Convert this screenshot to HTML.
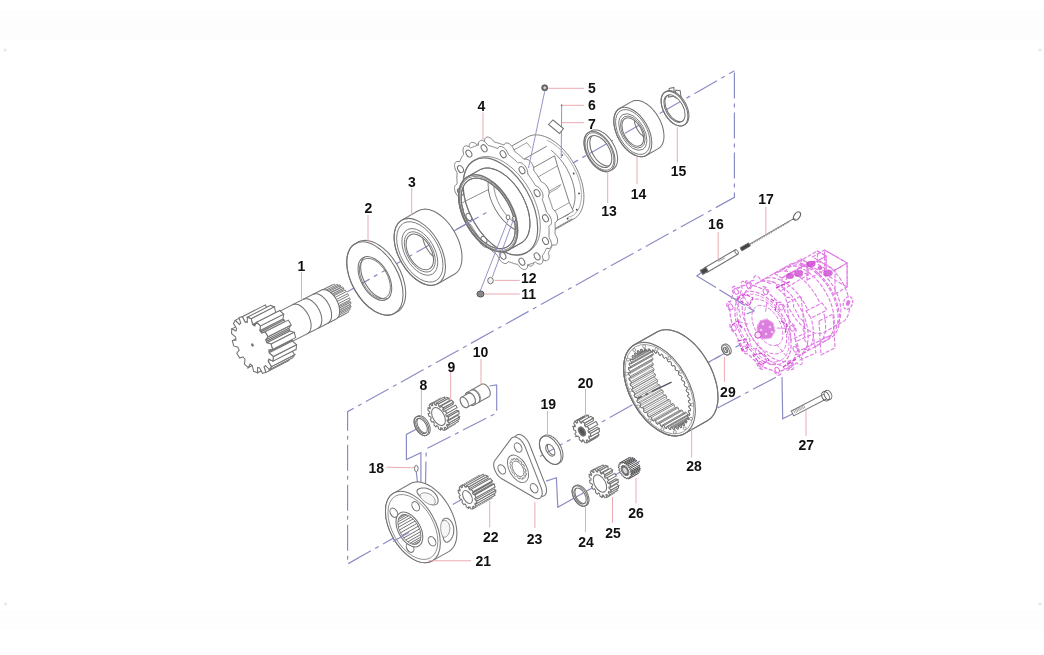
<!DOCTYPE html>
<html><head><meta charset="utf-8"><style>
html,body{margin:0;padding:0;background:#fff;}
body{width:1044px;height:655px;overflow:hidden;}
svg{display:block;filter:blur(0.35px);}
text{font-family:"Liberation Sans",sans-serif;font-weight:bold;font-size:14px;fill:#111;}
</style></head><body>
<svg width="1044" height="655" viewBox="0 0 1044 655">
<defs><clipPath id="c1"><ellipse cx="374.9" cy="278.5" rx="24.0" ry="13.8" transform="rotate(60.5 374.9 278.5)"/></clipPath><clipPath id="c2"><ellipse cx="419.8" cy="251.9" rx="19.5" ry="11.3" transform="rotate(60.5 419.8 251.9)"/></clipPath><clipPath id="c3"><ellipse cx="599.5" cy="151.5" rx="17.5" ry="10.1" transform="rotate(60.5 599.5 151.5)"/></clipPath><clipPath id="c4"><ellipse cx="632.8" cy="132.0" rx="15.5" ry="8.9" transform="rotate(60.5 632.8 132.0)"/></clipPath><clipPath id="c5"><ellipse cx="674.5" cy="108.6" rx="15.0" ry="8.7" transform="rotate(60.5 674.5 108.6)"/></clipPath><clipPath id="c6"><ellipse cx="488.2" cy="213.4" rx="38.5" ry="22.2" transform="rotate(60.5 488.2 213.4)"/></clipPath><clipPath id="c7"><ellipse cx="421.5" cy="426.0" rx="8.3" ry="4.8" transform="rotate(60.5 421.5 426.0)"/></clipPath><clipPath id="c8"><ellipse cx="409.4" cy="529.5" rx="16.5" ry="9.5" transform="rotate(60.5 409.4 529.5)"/></clipPath><clipPath id="c9"><ellipse cx="550.3" cy="450.2" rx="6.5" ry="3.8" transform="rotate(60.5 550.3 450.2)"/></clipPath><clipPath id="c10"><ellipse cx="580.0" cy="496.0" rx="8.8" ry="5.1" transform="rotate(60.5 580.0 496.0)"/></clipPath><clipPath id="c11"><path d="M681.2,427.5 L681.7,427.2 L681.0,424.7 L681.8,424.1 L683.7,425.7 L684.1,425.3 L684.5,424.9 L683.6,422.4 L684.3,421.6 L686.2,422.9 L686.5,422.4 L686.9,421.9 L685.7,419.4 L686.2,418.4 L688.2,419.4 L688.4,418.8 L688.6,418.2 L687.3,415.8 L687.6,414.6 L689.5,415.3 L689.7,414.6 L689.8,414.0 L688.3,411.7 L688.5,410.4 L690.3,410.7 L690.4,409.9 L690.4,409.2 L688.7,407.1 L688.7,405.7 L690.4,405.6 L690.4,404.8 L690.3,404.0 L688.5,402.2 L688.3,400.6 L689.9,400.2 L689.8,399.4 L689.7,398.5 L687.8,396.9 L687.4,395.3 L688.8,394.6 L688.6,393.7 L688.4,392.9 L686.4,391.6 L685.9,389.9 L687.1,388.8 L686.8,388.0 L686.5,387.1 L684.5,386.1 L683.9,384.5 L684.8,383.1 L684.4,382.3 L684.1,381.4 L682.1,380.8 L681.3,379.2 L682.0,377.5 L681.6,376.7 L681.1,375.9 L679.3,375.6 L678.3,374.1 L678.8,372.1 L678.3,371.4 L677.7,370.6 L676.0,370.7 L675.0,369.3 L675.2,367.1 L674.6,366.4 L674.0,365.7 L672.4,366.2 L671.3,364.9 L671.2,362.6 L670.6,361.9 L670.0,361.3 L668.6,362.1 L667.4,361.0 L667.0,358.5 L666.4,358.0 L665.7,357.4 L664.5,358.6 L663.3,357.7 L662.6,355.1 L662.0,354.7 L661.3,354.2 L660.4,355.7 L659.1,355.0 L658.2,352.4 L657.6,352.1 L656.9,351.7 L656.2,353.5 L655.0,353.0 L653.8,350.5 L653.2,350.2 L652.5,350.0 L652.1,352.0 L650.9,351.7 L649.6,349.3 L648.9,349.2 L648.3,349.1 L648.2,351.3 L647.0,351.2 L645.5,348.9 L644.9,348.9 L644.3,349.0 L644.5,351.3 L643.4,351.5 L641.7,349.4 L641.2,349.5 L640.6,349.7 L641.1,352.2 L640.1,352.6 L638.3,350.7 L637.8,350.9 L637.3,351.2 L638.0,353.7 L637.2,354.3 L635.3,352.7 L634.9,353.1 L634.5,353.5 L635.4,356.0 L634.7,356.8 L632.8,355.5 L632.5,356.0 L632.1,356.5 L633.3,359.0 L632.8,360.0 L630.8,359.0 L630.6,359.6 L630.4,360.2 L631.7,362.6 L631.4,363.8 L629.5,363.1 L629.3,363.8 L629.2,364.4 L630.7,366.7 L630.5,368.0 L628.7,367.7 L628.6,368.5 L628.6,369.2 L630.3,371.3 L630.3,372.7 L628.6,372.8 L628.6,373.6 L628.7,374.4 L630.5,376.2 L630.7,377.8 L629.1,378.2 L629.2,379.0 L629.3,379.9 L631.2,381.5 L631.6,383.1 L630.2,383.8 L630.4,384.7 L630.6,385.5 L632.6,386.8 L633.1,388.5 L631.9,389.6 L632.2,390.4 L632.5,391.3 L634.5,392.3 L635.1,393.9 L634.2,395.3 L634.6,396.1 L634.9,397.0 L636.9,397.6 L637.7,399.2 L637.0,400.9 L637.4,401.7 L637.9,402.5 L639.7,402.8 L640.7,404.3 L640.2,406.3 L640.7,407.0 L641.3,407.8 L643.0,407.7 L644.0,409.1 L643.8,411.3 L644.4,412.0 L645.0,412.7 L646.6,412.2 L647.7,413.5 L647.8,415.8 L648.4,416.5 L649.0,417.1 L650.4,416.3 L651.6,417.4 L652.0,419.9 L652.6,420.4 L653.3,421.0 L654.5,419.8 L655.7,420.7 L656.4,423.3 L657.0,423.7 L657.7,424.2 L658.6,422.7 L659.9,423.4 L660.8,426.0 L661.4,426.3 L662.1,426.7 L662.8,424.9 L664.0,425.4 L665.2,427.9 L665.8,428.2 L666.5,428.4 L666.9,426.4 L668.1,426.7 L669.4,429.1 L670.1,429.2 L670.7,429.3 L670.8,427.1 L672.0,427.2 L673.5,429.5 L674.1,429.5 L674.7,429.4 L674.5,427.1 L675.6,426.9 L677.3,429.0 L677.8,428.9 L678.4,428.7 L677.9,426.2 L678.9,425.8 L680.7,427.7Z"/></clipPath><clipPath id="c12"><ellipse cx="725.6" cy="350.0" rx="3.0" ry="1.7" transform="rotate(60.5 725.6 350.0)"/></clipPath></defs>
<rect width="1044" height="655" fill="#fff"/>
<rect x="0" y="10" width="1044" height="30" fill="#fdfdfd"/><rect x="0" y="610" width="1044" height="20" fill="#fdfdfd"/><circle cx="5" cy="50" r="1.6" fill="#e8e8e8"/><circle cx="1040" cy="50" r="1.6" fill="#e8e8e8"/><circle cx="5.5" cy="604" r="1.6" fill="#e8e8e8"/><circle cx="1040" cy="604" r="1.6" fill="#e8e8e8"/><path d="M347.0,292.0 L734.4,70.8" fill="none" stroke="#8c8cc4" stroke-width="1.2" stroke-dasharray="26 5 4 5"/><path d="M734.4,72.6 L734.4,197.3 L347.6,411.7 L347.6,564.0 L470.0,494.8" fill="none" stroke="#8c8cc4" stroke-width="1.2" stroke-dasharray="26 5 4 5"/><path d="M505.0,476.0 L720.0,356.0" fill="none" stroke="#8c8cc4" stroke-width="1.2" stroke-dasharray="26 5 4 5"/><path d="M546.1,481.1 L556.4,477.7 L557.8,507.2 L640.0,461.0" fill="none" stroke="#8c8cc4" stroke-width="1.2" /><path d="M708.4,362.3 L745.0,342.0" fill="none" stroke="#8c8cc4" stroke-width="1.2" stroke-dasharray="26 5 4 5"/><path d="M717.6,408.0 L779.2,375.5" fill="none" stroke="#8c8cc4" stroke-width="1.2" stroke-dasharray="26 5 4 5"/><path d="M792.3,414.0 L782.7,418.8 L782.0,376.9" fill="none" stroke="#8c8cc4" stroke-width="1.2" /><path d="M703.0,271.3 L696.9,275.9 L754.1,311.0 L746.5,314.0" fill="none" stroke="#8c8cc4" stroke-width="1.2" stroke-dasharray="30 4"/><path d="M496.0,385.4 L496.7,385.4 L496.7,412.9 L426.2,448.9 L425.5,485.5" fill="none" stroke="#8c8cc4" stroke-width="1.2" stroke-dasharray="26 5 4 5"/><path d="M489.6,386.0 L496.7,384.9" fill="none" stroke="#8c8cc4" stroke-width="1.2" /><path d="M419.4,427.5 L406.4,434.4 L406.4,459.5 L420.9,452.7 L420.9,485.5" fill="none" stroke="#8c8cc4" stroke-width="1.2" /><path d="M416.3,471.8 L417.8,485.5" fill="none" stroke="#8c8cc4" stroke-width="1.2" /><path d="M326.1,316.6 L326.7,315.8 L338.3,309.9 L337.7,310.7Z" fill="#fff" stroke="none" stroke-width="0" /><path d="M318.5,299.6 L317.5,299.6 L329.1,293.7 L330.1,293.7Z" fill="#fff" stroke="none" stroke-width="0" /><path d="M318.7,296.3 L317.6,295.9 L329.2,290.0 L330.3,290.4Z" fill="#fff" stroke="none" stroke-width="0" /><path d="M329.2,318.6 L329.5,317.5 L341.1,311.6 L340.8,312.7Z" fill="#fff" stroke="none" stroke-width="0" /><path d="M332.3,319.5 L332.3,318.2 L343.9,312.3 L343.9,313.6Z" fill="#fff" stroke="#737373" stroke-width="0.9" /><path d="M319.8,293.7 L318.7,292.9 L330.3,287.0 L331.4,287.8Z" fill="#fff" stroke="#737373" stroke-width="0.9" /><path d="M335.0,319.3 L334.7,317.8 L346.3,311.9 L346.6,313.4Z" fill="#fff" stroke="#737373" stroke-width="0.9" /><path d="M321.5,292.0 L320.5,290.8 L332.1,284.9 L333.1,286.1Z" fill="#fff" stroke="#737373" stroke-width="0.9" /><path d="M335.0,317.6 L335.3,317.5 L346.9,311.6 L346.6,311.7Z" fill="#fff" stroke="none" stroke-width="0" /><path d="M322.1,291.7 L321.8,291.8 L333.4,285.9 L333.7,285.8Z" fill="#fff" stroke="none" stroke-width="0" /><path d="M336.3,318.6 L337.2,317.8 L348.8,311.9 L347.9,312.7Z" fill="#fff" stroke="none" stroke-width="0" /><path d="M323.0,289.9 L321.8,290.2 L333.4,284.3 L334.6,284.0Z" fill="#fff" stroke="none" stroke-width="0" /><path d="M323.8,291.3 L323.0,289.9 L334.6,284.0 L335.4,285.4Z" fill="#fff" stroke="#737373" stroke-width="0.9" /><path d="M337.2,317.8 L336.6,316.3 L348.2,310.4 L348.8,311.9Z" fill="#fff" stroke="#737373" stroke-width="0.9" /><path d="M324.2,291.3 L323.8,291.3 L335.4,285.4 L335.8,285.4Z" fill="#fff" stroke="none" stroke-width="0" /><path d="M336.6,316.3 L336.8,316.1 L348.4,310.1 L348.2,310.4Z" fill="#fff" stroke="none" stroke-width="0" /><path d="M336.8,316.1 L337.0,315.8 L348.6,309.8 L348.4,310.1Z" fill="#fff" stroke="none" stroke-width="0" /><path d="M324.5,291.3 L324.2,291.3 L335.8,285.4 L336.1,285.4Z" fill="#fff" stroke="none" stroke-width="0" /><path d="M338.1,316.6 L338.7,315.3 L350.3,309.4 L349.7,310.6Z" fill="#fff" stroke="none" stroke-width="0" /><path d="M325.9,290.2 L324.5,289.9 L336.1,284.0 L337.5,284.3Z" fill="#fff" stroke="none" stroke-width="0" /><path d="M338.7,315.3 L337.9,313.9 L349.5,308.0 L350.3,309.4Z" fill="#fff" stroke="#737373" stroke-width="0.9" /><path d="M326.5,291.7 L325.9,290.2 L337.5,284.3 L338.1,285.8Z" fill="#fff" stroke="#737373" stroke-width="0.9" /><path d="M337.9,313.9 L338.0,313.5 L349.6,307.6 L349.5,308.0Z" fill="#fff" stroke="none" stroke-width="0" /><path d="M326.9,291.8 L326.5,291.7 L338.1,285.8 L338.5,285.9Z" fill="#fff" stroke="none" stroke-width="0" /><path d="M338.0,313.5 L338.1,313.1 L349.7,307.2 L349.6,307.6Z" fill="#fff" stroke="none" stroke-width="0" /><path d="M327.3,292.0 L326.9,291.8 L338.5,285.9 L338.9,286.1Z" fill="#fff" stroke="none" stroke-width="0" /><path d="M339.2,313.5 L339.4,311.9 L350.9,306.0 L350.8,307.6Z" fill="#fff" stroke="#737373" stroke-width="0.9" /><path d="M329.0,291.6 L327.6,290.8 L339.2,284.9 L340.6,285.7Z" fill="#fff" stroke="#737373" stroke-width="0.9" /><path d="M329.7,293.4 L329.3,293.1 L340.9,287.2 L341.3,287.5Z" fill="#fff" stroke="none" stroke-width="0" /><path d="M338.4,310.8 L338.4,310.3 L349.9,304.4 L349.9,304.9Z" fill="#fff" stroke="none" stroke-width="0" /><path d="M329.3,293.1 L329.0,291.6 L340.6,285.7 L340.9,287.2Z" fill="#fff" stroke="#737373" stroke-width="0.9" /><path d="M339.4,311.9 L338.4,310.8 L349.9,304.9 L350.9,306.0Z" fill="#fff" stroke="#737373" stroke-width="0.9" /><path d="M330.1,293.7 L329.7,293.4 L341.3,287.5 L341.7,287.8Z" fill="#fff" stroke="none" stroke-width="0" /><path d="M338.4,310.3 L338.3,309.8 L349.9,303.9 L349.9,304.4Z" fill="#fff" stroke="none" stroke-width="0" /><path d="M338.0,307.2 L337.9,306.6 L349.5,300.7 L349.6,301.3Z" fill="#fff" stroke="none" stroke-width="0" /><path d="M332.5,295.9 L332.1,295.5 L343.7,289.6 L344.0,290.0Z" fill="#fff" stroke="none" stroke-width="0" /><path d="M337.9,306.6 L337.8,306.1 L349.4,300.2 L349.5,300.7Z" fill="#fff" stroke="none" stroke-width="0" /><path d="M332.8,296.3 L332.5,295.9 L344.0,290.0 L344.4,290.4Z" fill="#fff" stroke="none" stroke-width="0" /><path d="M332.1,294.1 L330.7,292.9 L342.3,287.0 L343.7,288.2Z" fill="#fff" stroke="#737373" stroke-width="0.9" /><path d="M339.3,309.8 L339.1,308.0 L350.7,302.1 L350.9,303.9Z" fill="#fff" stroke="#737373" stroke-width="0.9" /><path d="M339.1,308.0 L338.0,307.2 L349.6,301.3 L350.7,302.1Z" fill="#fff" stroke="#737373" stroke-width="0.9" /><path d="M332.1,295.5 L332.1,294.1 L343.7,288.2 L343.7,289.6Z" fill="#fff" stroke="#737373" stroke-width="0.9" /><path d="M333.6,295.9 L332.8,296.3 L344.4,290.4 L345.2,290.0Z" fill="#fff" stroke="none" stroke-width="0" /><path d="M337.8,306.1 L338.6,305.7 L350.2,299.8 L349.4,300.2Z" fill="#fff" stroke="none" stroke-width="0" /><path d="M336.9,303.3 L336.7,302.8 L348.3,296.9 L348.5,297.4Z" fill="#fff" stroke="none" stroke-width="0" /><path d="M334.9,299.1 L334.5,298.7 L346.1,292.7 L346.4,293.2Z" fill="#fff" stroke="none" stroke-width="0" /><path d="M336.7,302.8 L336.5,302.3 L348.1,296.4 L348.3,296.9Z" fill="#fff" stroke="none" stroke-width="0" /><path d="M335.1,299.6 L334.9,299.1 L346.4,293.2 L346.7,293.7Z" fill="#fff" stroke="none" stroke-width="0" /><path d="M334.5,298.7 L334.8,297.5 L346.4,291.6 L346.1,292.7Z" fill="#fff" stroke="none" stroke-width="0" /><path d="M338.0,303.8 L336.9,303.3 L348.5,297.4 L349.6,297.9Z" fill="#fff" stroke="none" stroke-width="0" /><path d="M336.2,299.6 L335.1,299.6 L346.7,293.7 L347.7,293.7Z" fill="#fff" stroke="none" stroke-width="0" /><path d="M336.5,302.3 L337.1,301.5 L348.7,295.6 L348.1,296.4Z" fill="#fff" stroke="none" stroke-width="0" /><path d="M334.8,297.5 L333.6,295.9 L345.2,290.0 L346.4,291.6Z" fill="#fff" stroke="#737373" stroke-width="0.9" /><path d="M338.6,305.7 L338.0,303.8 L349.6,297.9 L350.2,299.8Z" fill="#fff" stroke="#737373" stroke-width="0.9" /><path d="M337.1,301.5 L336.2,299.6 L347.7,293.7 L348.7,295.6Z" fill="#fff" stroke="#737373" stroke-width="0.9" /><path d="M335.0,317.6 L335.3,317.5 L336.3,318.6 L337.2,317.8 L336.6,316.3 L336.8,316.1 L337.0,315.8 L338.1,316.6 L338.7,315.3 L337.9,313.9 L338.0,313.5 L338.1,313.1 L339.2,313.5 L339.4,311.9 L338.4,310.8 L338.4,310.3 L338.3,309.8 L339.3,309.8 L339.1,308.0 L338.0,307.2 L337.9,306.6 L337.8,306.1 L338.6,305.7 L338.0,303.8 L336.9,303.3 L336.7,302.8 L336.5,302.3 L337.1,301.5 L336.2,299.6 L335.1,299.6 L334.9,299.1 L334.5,298.7 L334.8,297.5 L333.6,295.9 L332.8,296.3 L332.5,295.9 L332.1,295.5 L332.1,294.1 L330.7,292.9 L330.1,293.7 L329.7,293.4 L329.3,293.1 L329.0,291.6 L327.6,290.8 L327.3,292.0 L326.9,291.8 L326.5,291.7 L325.9,290.2 L324.5,289.9 L324.5,291.3 L324.2,291.3 L323.8,291.3 L323.0,289.9 L321.8,290.2 L322.1,291.7 L321.8,291.8 L321.5,292.0 L320.5,290.8 L319.6,291.6 L320.2,293.1 L320.0,293.4 L319.8,293.7 L318.7,292.9 L318.1,294.2 L319.0,295.5 L318.8,295.9 L318.7,296.3 L317.6,295.9 L317.5,297.5 L318.5,298.7 L318.5,299.1 L318.5,299.6 L317.5,299.6 L317.7,301.5 L318.8,302.3 L318.9,302.8 L319.0,303.3 L318.2,303.8 L318.8,305.7 L319.9,306.1 L320.1,306.7 L320.3,307.2 L319.7,308.0 L320.7,309.8 L321.7,309.8 L322.0,310.3 L322.3,310.8 L322.0,311.9 L323.2,313.6 L324.0,313.1 L324.4,313.6 L324.7,313.9 L324.8,315.3 L326.1,316.6 L326.7,315.8 L327.1,316.1 L327.5,316.3 L327.8,317.8 L329.2,318.6 L329.5,317.5 L329.9,317.6 L330.3,317.8 L330.9,319.3 L332.3,319.5 L332.3,318.2 L332.6,318.2 L333.0,318.2 L333.8,319.5 L335.0,319.3 L334.7,317.8Z" fill="#fff" stroke="#737373" stroke-width="0.9" /><path d="M265.8,318.4 L265.2,318.7 L264.7,319.1 L264.3,319.5 L263.9,320.0 L263.5,320.5 L263.1,321.1 L262.8,321.8 L262.6,322.5 L262.4,323.2 L262.2,324.0 L262.1,324.8 L262.0,325.7 L262.0,326.5 L262.0,327.4 L262.1,328.4 L262.2,329.3 L262.4,330.3 L262.6,331.3 L262.9,332.3 L263.2,333.3 L263.5,334.3 L263.9,335.2 L264.3,336.2 L264.8,337.2 L265.3,338.1 L265.8,339.0 L266.4,339.9 L267.0,340.8 L267.6,341.6 L268.3,342.4 L268.9,343.2 L269.6,343.9 L270.3,344.5 L271.0,345.1 L271.8,345.7 L272.5,346.2 L273.2,346.6 L274.0,347.0 L274.7,347.3 L275.4,347.6 L276.1,347.8 L276.8,347.9 L277.5,348.0 L278.2,348.0 L278.8,348.0 L279.4,347.9 L280.0,347.7 L280.6,347.4 L335.8,319.2 L336.3,318.9 L336.8,318.6 L337.3,318.1 L337.7,317.6 L338.1,317.1 L338.5,316.5 L338.8,315.9 L339.0,315.2 L339.2,314.4 L339.4,313.6 L339.5,312.8 L339.6,312.0 L339.6,311.1 L339.6,310.2 L339.5,309.2 L339.4,308.3 L339.2,307.3 L339.0,306.3 L338.7,305.3 L338.4,304.4 L338.1,303.4 L337.7,302.4 L337.3,301.4 L336.8,300.5 L336.3,299.5 L335.8,298.6 L335.2,297.7 L334.6,296.8 L334.0,296.0 L333.3,295.2 L332.7,294.5 L332.0,293.8 L331.3,293.1 L330.6,292.5 L329.8,291.9 L329.1,291.4 L328.4,291.0 L327.6,290.6 L326.9,290.3 L326.2,290.0 L325.5,289.8 L324.8,289.7 L324.1,289.6 L323.4,289.6 L322.8,289.7 L322.2,289.8 L321.6,290.0 L321.0,290.2Z" fill="#fff" stroke="#737373" stroke-width="1.05" /><ellipse cx="273.2" cy="332.9" rx="16.3" ry="9.4" transform="rotate(63.0 273.2 332.9)" fill="#fff" stroke="#737373" stroke-width="1.05" /><path d="M307.3,333.8 L308.3,333.1 L309.2,332.2 L310.0,331.0 L310.5,329.7 L310.9,328.2 L311.1,326.5 L311.1,324.7 L310.9,322.8 L310.5,320.9 L309.9,318.9 L309.2,316.9 L308.3,315.0 L307.2,313.1 L306.1,311.4 L304.8,309.8 L303.5,308.3 L302.0,307.0 L300.6,306.0 L299.1,305.1 L297.7,304.6 L296.3,304.2 L294.9,304.1 L293.7,304.3 L292.5,304.7" fill="none" stroke="#737373" stroke-width="1.05" /><path d="M318.0,328.3 L319.0,327.7 L319.9,326.7 L320.6,325.6 L321.2,324.3 L321.6,322.7 L321.8,321.1 L321.8,319.3 L321.6,317.4 L321.2,315.4 L320.6,313.4 L319.9,311.5 L319.0,309.5 L317.9,307.7 L316.8,305.9 L315.5,304.3 L314.1,302.9 L312.7,301.6 L311.3,300.5 L309.8,299.7 L308.4,299.1 L307.0,298.8 L305.6,298.7 L304.3,298.9 L303.2,299.3" fill="none" stroke="#737373" stroke-width="1.05" /><path d="M327.8,323.3 L328.8,322.7 L329.7,321.7 L330.4,320.6 L331.0,319.3 L331.4,317.7 L331.6,316.1 L331.5,314.3 L331.4,312.4 L331.0,310.4 L330.4,308.4 L329.7,306.5 L328.8,304.5 L327.7,302.7 L326.6,300.9 L325.3,299.3 L323.9,297.9 L322.5,296.6 L321.1,295.5 L319.6,294.7 L318.2,294.1 L316.8,293.8 L315.4,293.7 L314.1,293.9 L313.0,294.3" fill="none" stroke="#737373" stroke-width="1.05" /><path d="M236.0,340.0 L232.3,340.6 L255.5,328.8 L259.1,328.2Z" fill="#fff" stroke="#737373" stroke-width="1.05" /><path d="M248.2,367.7 L250.1,364.1 L273.2,352.3 L271.3,355.9Z" fill="#fff" stroke="#737373" stroke-width="1.05" /><path d="M236.0,330.9 L231.8,328.9 L254.9,317.1 L259.2,319.0Z" fill="#fff" stroke="#737373" stroke-width="1.05" /><path d="M257.5,372.8 L257.5,367.6 L280.7,355.8 L280.6,361.0Z" fill="#fff" stroke="#737373" stroke-width="1.05" /><path d="M239.4,324.5 L235.3,320.4 L258.5,308.6 L262.5,312.7Z" fill="#fff" stroke="#737373" stroke-width="1.05" /><path d="M265.8,372.4 L264.0,366.6 L287.1,354.8 L288.9,360.6Z" fill="#fff" stroke="#737373" stroke-width="1.05" /><path d="M264.0,366.6 L264.7,366.1 L287.9,354.3 L287.1,354.8Z" fill="#fff" stroke="none" stroke-width="0" /><path d="M264.7,366.1 L265.4,365.5 L288.6,353.7 L287.9,354.3Z" fill="#fff" stroke="none" stroke-width="0" /><path d="M242.3,316.7 L239.0,317.6 L262.2,305.8 L265.4,304.9Z" fill="#fff" stroke="none" stroke-width="0" /><path d="M245.2,322.2 L242.3,316.7 L265.4,304.9 L268.4,310.4Z" fill="#fff" stroke="#737373" stroke-width="1.05" /><path d="M246.2,322.3 L245.2,322.2 L268.4,310.4 L269.4,310.5Z" fill="#fff" stroke="none" stroke-width="0" /><path d="M247.3,322.4 L246.2,322.3 L269.4,310.5 L270.4,310.6Z" fill="#fff" stroke="none" stroke-width="0" /><path d="M269.5,369.6 L271.4,366.6 L294.6,354.8 L292.6,357.8Z" fill="#fff" stroke="#737373" stroke-width="1.05" /><path d="M271.4,366.6 L268.1,361.3 L291.3,349.5 L294.6,354.8Z" fill="#fff" stroke="#737373" stroke-width="1.05" /><path d="M268.1,361.3 L268.5,360.3 L291.6,348.5 L291.3,349.5Z" fill="#fff" stroke="none" stroke-width="0" /><path d="M268.5,360.3 L268.8,359.1 L291.9,347.3 L291.6,348.5Z" fill="#fff" stroke="none" stroke-width="0" /><path d="M251.2,318.7 L247.3,317.2 L270.5,305.4 L274.4,306.9Z" fill="#fff" stroke="#737373" stroke-width="1.05" /><path d="M253.6,325.2 L252.5,324.5 L275.7,312.7 L276.8,313.3Z" fill="#fff" stroke="#737373" stroke-width="1.05" /><path d="M252.5,324.5 L251.2,318.7 L274.4,306.9 L275.7,312.7Z" fill="#fff" stroke="#737373" stroke-width="1.05" /><path d="M254.7,325.9 L253.6,325.2 L276.8,313.3 L277.9,314.1Z" fill="#fff" stroke="#737373" stroke-width="1.05" /><path d="M269.1,352.8 L269.0,351.4 L292.2,339.6 L292.3,341.0Z" fill="#fff" stroke="#737373" stroke-width="1.05" /><path d="M269.0,351.4 L268.8,350.0 L292.0,338.2 L292.2,339.6Z" fill="#fff" stroke="#737373" stroke-width="1.05" /><path d="M273.0,361.1 L273.3,356.5 L296.5,344.7 L296.2,349.3Z" fill="#fff" stroke="#737373" stroke-width="1.05" /><path d="M273.3,356.5 L269.1,352.8 L292.3,341.0 L296.5,344.7Z" fill="#fff" stroke="#737373" stroke-width="1.05" /><path d="M260.8,332.0 L259.8,330.8 L283.0,319.0 L284.0,320.1Z" fill="#fff" stroke="#737373" stroke-width="1.05" /><path d="M261.7,333.2 L260.8,332.0 L284.0,320.1 L284.9,321.4Z" fill="#fff" stroke="#737373" stroke-width="1.05" /><path d="M266.9,342.8 L266.3,341.3 L289.4,329.5 L290.0,331.0Z" fill="#fff" stroke="#737373" stroke-width="1.05" /><path d="M266.3,341.3 L265.6,339.9 L288.8,328.1 L289.4,329.5Z" fill="#fff" stroke="#737373" stroke-width="1.05" /><path d="M259.8,330.8 L260.4,325.9 L283.6,314.1 L283.0,319.0Z" fill="#fff" stroke="#737373" stroke-width="1.05" /><path d="M260.4,325.9 L256.6,322.3 L279.8,310.5 L283.6,314.1Z" fill="#fff" stroke="#737373" stroke-width="1.05" /><path d="M271.1,344.1 L266.9,342.8 L290.0,331.0 L294.2,332.3Z" fill="#fff" stroke="#737373" stroke-width="1.05" /><path d="M265.1,331.9 L261.7,333.2 L284.9,321.4 L288.3,320.1Z" fill="#fff" stroke="none" stroke-width="0" /><path d="M265.6,339.9 L268.0,336.8 L291.2,325.0 L288.8,328.1Z" fill="#fff" stroke="#737373" stroke-width="1.05" /><path d="M272.5,349.4 L271.1,344.1 L294.2,332.3 L295.7,337.6Z" fill="#fff" stroke="#737373" stroke-width="1.05" /><path d="M268.0,336.8 L265.1,331.9 L288.3,320.1 L291.2,325.0Z" fill="#fff" stroke="#737373" stroke-width="1.05" /><path d="M264.7,366.1 L265.4,365.5 L269.5,369.6 L271.4,366.6 L268.1,361.3 L268.5,360.3 L268.8,359.1 L273.0,361.1 L273.3,356.5 L269.1,352.8 L269.0,351.4 L268.8,350.0 L272.5,349.4 L271.1,344.1 L266.9,342.8 L266.3,341.3 L265.6,339.9 L268.0,336.8 L265.1,331.9 L261.7,333.2 L260.8,332.0 L259.8,330.8 L260.4,325.9 L256.6,322.3 L254.7,325.9 L253.6,325.2 L252.5,324.5 L251.2,318.7 L247.3,317.2 L247.3,322.4 L246.2,322.3 L245.2,322.2 L242.3,316.7 L239.0,317.6 L240.8,323.4 L240.1,323.9 L239.4,324.5 L235.3,320.4 L233.4,323.4 L236.7,328.7 L236.3,329.7 L236.0,330.9 L231.8,328.9 L231.5,333.5 L235.7,337.2 L235.8,338.6 L236.0,340.0 L232.3,340.6 L233.7,345.9 L237.9,347.2 L238.5,348.7 L239.2,350.1 L236.8,353.2 L239.7,358.1 L243.1,356.8 L244.0,358.0 L245.0,359.2 L244.4,364.1 L248.2,367.7 L250.1,364.1 L251.2,364.8 L252.3,365.5 L253.6,371.3 L257.5,372.8 L257.5,367.6 L258.6,367.7 L259.6,367.8 L262.5,373.3 L265.8,372.4 L264.0,366.6Z" fill="#fff" stroke="#737373" stroke-width="1.05" /><ellipse cx="252.4" cy="345.0" rx="1.2" ry="0.7" transform="rotate(63.0 252.4 345.0)" fill="#555" stroke="#737373" stroke-width="1.05" /><path d="M355.2,243.7 L353.9,244.5 L352.7,245.5 L351.6,246.6 L350.7,247.8 L349.8,249.2 L349.0,250.7 L348.3,252.3 L347.8,254.1 L347.3,255.9 L347.0,257.8 L346.8,259.8 L346.8,261.9 L346.8,264.1 L347.0,266.3 L347.2,268.6 L347.7,271.0 L348.2,273.3 L348.8,275.7 L349.5,278.1 L350.4,280.5 L351.4,282.9 L352.4,285.2 L353.6,287.6 L354.8,289.9 L356.2,292.1 L357.6,294.3 L359.1,296.4 L360.6,298.5 L362.2,300.5 L363.9,302.3 L365.6,304.1 L367.4,305.8 L369.2,307.3 L371.0,308.7 L372.8,310.0 L374.6,311.2 L376.5,312.2 L378.3,313.0 L380.1,313.8 L381.9,314.3 L383.7,314.7 L385.4,315.0 L387.1,315.1 L388.8,315.1 L390.3,314.9 L391.8,314.5 L393.3,314.0 L394.6,313.3 L397.2,311.8 L398.5,311.0 L399.7,310.0 L400.8,308.9 L401.8,307.7 L402.6,306.3 L403.4,304.8 L404.1,303.2 L404.6,301.5 L405.1,299.6 L405.4,297.7 L405.6,295.7 L405.7,293.6 L405.6,291.4 L405.4,289.2 L405.2,286.9 L404.8,284.6 L404.2,282.2 L403.6,279.8 L402.9,277.4 L402.0,275.0 L401.1,272.7 L400.0,270.3 L398.8,267.9 L397.6,265.6 L396.3,263.4 L394.8,261.2 L393.4,259.1 L391.8,257.0 L390.2,255.1 L388.5,253.2 L386.8,251.4 L385.0,249.8 L383.2,248.2 L381.4,246.8 L379.6,245.5 L377.8,244.4 L375.9,243.4 L374.1,242.5 L372.3,241.8 L370.5,241.2 L368.7,240.8 L367.0,240.5 L365.3,240.4 L363.7,240.5 L362.1,240.7 L360.6,241.0 L359.1,241.6 L357.8,242.2ZM386.7,299.4 L388.2,298.3 L389.4,296.9 L390.4,295.2 L391.2,293.2 L391.6,290.9 L391.8,288.4 L391.7,285.8 L391.2,283.0 L390.6,280.2 L389.6,277.3 L388.4,274.5 L386.9,271.7 L385.3,269.0 L383.5,266.5 L381.5,264.2 L379.4,262.1 L377.3,260.4 L375.1,258.9 L372.8,257.8 L370.7,257.0 L368.6,256.6 L366.6,256.6 L364.7,256.9 L363.1,257.6 L361.6,258.7 L360.4,260.1 L359.4,261.8 L358.6,263.8 L358.2,266.1 L358.0,268.6 L358.1,271.2 L358.6,274.0 L359.2,276.8 L360.2,279.7 L361.4,282.5 L362.9,285.3 L364.5,288.0 L366.3,290.5 L368.3,292.8 L370.4,294.9 L372.5,296.6 L374.7,298.1 L377.0,299.2 L379.1,300.0 L381.2,300.4 L383.2,300.4 L385.1,300.1 L386.7,299.4Z" fill="#fff" stroke="#737373" stroke-width="0" fill-rule="evenodd" stroke="none"/><path d="M355.2,243.7 L353.9,244.5 L352.7,245.5 L351.6,246.6 L350.7,247.8 L349.8,249.2 L349.0,250.7 L348.3,252.3 L347.8,254.1 L347.3,255.9 L347.0,257.8 L346.8,259.8 L346.8,261.9 L346.8,264.1 L347.0,266.3 L347.2,268.6 L347.7,271.0 L348.2,273.3 L348.8,275.7 L349.5,278.1 L350.4,280.5 L351.4,282.9 L352.4,285.2 L353.6,287.6 L354.8,289.9 L356.2,292.1 L357.6,294.3 L359.1,296.4 L360.6,298.5 L362.2,300.5 L363.9,302.3 L365.6,304.1 L367.4,305.8 L369.2,307.3 L371.0,308.7 L372.8,310.0 L374.6,311.2 L376.5,312.2 L378.3,313.0 L380.1,313.8 L381.9,314.3 L383.7,314.7 L385.4,315.0 L387.1,315.1 L388.8,315.1 L390.3,314.9 L391.8,314.5 L393.3,314.0 L394.6,313.3 L397.2,311.8 L398.5,311.0 L399.7,310.0 L400.8,308.9 L401.8,307.7 L402.6,306.3 L403.4,304.8 L404.1,303.2 L404.6,301.5 L405.1,299.6 L405.4,297.7 L405.6,295.7 L405.7,293.6 L405.6,291.4 L405.4,289.2 L405.2,286.9 L404.8,284.6 L404.2,282.2 L403.6,279.8 L402.9,277.4 L402.0,275.0 L401.1,272.7 L400.0,270.3 L398.8,267.9 L397.6,265.6 L396.3,263.4 L394.8,261.2 L393.4,259.1 L391.8,257.0 L390.2,255.1 L388.5,253.2 L386.8,251.4 L385.0,249.8 L383.2,248.2 L381.4,246.8 L379.6,245.5 L377.8,244.4 L375.9,243.4 L374.1,242.5 L372.3,241.8 L370.5,241.2 L368.7,240.8 L367.0,240.5 L365.3,240.4 L363.7,240.5 L362.1,240.7 L360.6,241.0 L359.1,241.6 L357.8,242.2Z" fill="none" stroke="#737373" stroke-width="1.05" /><ellipse cx="374.9" cy="278.5" rx="40.0" ry="23.1" transform="rotate(60.5 374.9 278.5)" fill="none" stroke="#737373" stroke-width="1.05" /><ellipse cx="374.9" cy="278.5" rx="22.0" ry="12.7" transform="rotate(60.5 374.9 278.5)" fill="none" stroke="#737373" stroke-width="0.8400000000000001" /><ellipse cx="374.9" cy="278.5" rx="24.0" ry="13.8" transform="rotate(60.5 374.9 278.5)" fill="none" stroke="#737373" stroke-width="1.05" /><g clip-path="url(#c1)"><ellipse cx="377.5" cy="277.0" rx="24.0" ry="13.8" transform="rotate(60.5 377.5 277.0)" fill="none" stroke="#737373" stroke-width="1.05" /></g><path d="M401.8,220.1 L400.6,220.9 L399.6,221.8 L398.6,222.8 L397.7,223.9 L396.9,225.2 L396.2,226.5 L395.6,228.0 L395.1,229.6 L394.7,231.3 L394.4,233.0 L394.2,234.9 L394.1,236.8 L394.2,238.8 L394.3,240.8 L394.6,242.9 L394.9,245.0 L395.4,247.2 L396.0,249.3 L396.7,251.5 L397.4,253.7 L398.3,255.9 L399.3,258.0 L400.3,260.2 L401.5,262.3 L402.7,264.3 L404.0,266.3 L405.3,268.3 L406.8,270.1 L408.2,271.9 L409.8,273.6 L411.3,275.3 L412.9,276.8 L414.6,278.2 L416.2,279.5 L417.9,280.6 L419.6,281.7 L421.2,282.6 L422.9,283.4 L424.6,284.1 L426.2,284.6 L427.8,285.0 L429.4,285.2 L430.9,285.3 L432.4,285.3 L433.9,285.1 L435.2,284.7 L436.6,284.3 L437.8,283.7 L454.3,274.3 L455.5,273.5 L456.6,272.7 L457.6,271.7 L458.5,270.5 L459.3,269.3 L460.0,267.9 L460.6,266.4 L461.1,264.8 L461.5,263.2 L461.8,261.4 L461.9,259.6 L462.0,257.6 L462.0,255.7 L461.8,253.6 L461.6,251.5 L461.2,249.4 L460.7,247.3 L460.1,245.1 L459.5,242.9 L458.7,240.7 L457.8,238.5 L456.8,236.4 L455.8,234.2 L454.7,232.2 L453.4,230.1 L452.1,228.1 L450.8,226.2 L449.4,224.3 L447.9,222.5 L446.4,220.8 L444.8,219.2 L443.2,217.7 L441.6,216.3 L439.9,215.0 L438.2,213.8 L436.6,212.7 L434.9,211.8 L433.2,211.0 L431.5,210.4 L429.9,209.8 L428.3,209.5 L426.7,209.2 L425.2,209.1 L423.7,209.2 L422.3,209.4 L420.9,209.7 L419.6,210.2 L418.3,210.8ZM429.4,268.9 L430.6,268.0 L431.6,266.9 L432.4,265.5 L433.0,263.8 L433.4,262.0 L433.5,260.0 L433.4,257.8 L433.1,255.6 L432.5,253.3 L431.7,250.9 L430.8,248.6 L429.6,246.4 L428.3,244.2 L426.8,242.2 L425.2,240.3 L423.5,238.6 L421.7,237.2 L419.9,236.0 L418.1,235.1 L416.4,234.4 L414.7,234.1 L413.0,234.1 L411.5,234.4 L410.2,234.9 L409.0,235.8 L408.0,236.9 L407.2,238.3 L406.6,240.0 L406.2,241.8 L406.1,243.8 L406.2,246.0 L406.5,248.2 L407.1,250.5 L407.9,252.9 L408.8,255.2 L410.0,257.4 L411.3,259.6 L412.8,261.6 L414.4,263.5 L416.1,265.2 L417.9,266.6 L419.7,267.8 L421.5,268.7 L423.2,269.4 L424.9,269.7 L426.6,269.7 L428.1,269.4 L429.4,268.9Z" fill="#fff" stroke="#737373" stroke-width="0" fill-rule="evenodd" stroke="none"/><path d="M401.8,220.1 L400.6,220.9 L399.6,221.8 L398.6,222.8 L397.7,223.9 L396.9,225.2 L396.2,226.5 L395.6,228.0 L395.1,229.6 L394.7,231.3 L394.4,233.0 L394.2,234.9 L394.1,236.8 L394.2,238.8 L394.3,240.8 L394.6,242.9 L394.9,245.0 L395.4,247.2 L396.0,249.3 L396.7,251.5 L397.4,253.7 L398.3,255.9 L399.3,258.0 L400.3,260.2 L401.5,262.3 L402.7,264.3 L404.0,266.3 L405.3,268.3 L406.8,270.1 L408.2,271.9 L409.8,273.6 L411.3,275.3 L412.9,276.8 L414.6,278.2 L416.2,279.5 L417.9,280.6 L419.6,281.7 L421.2,282.6 L422.9,283.4 L424.6,284.1 L426.2,284.6 L427.8,285.0 L429.4,285.2 L430.9,285.3 L432.4,285.3 L433.9,285.1 L435.2,284.7 L436.6,284.3 L437.8,283.7 L454.3,274.3 L455.5,273.5 L456.6,272.7 L457.6,271.7 L458.5,270.5 L459.3,269.3 L460.0,267.9 L460.6,266.4 L461.1,264.8 L461.5,263.2 L461.8,261.4 L461.9,259.6 L462.0,257.6 L462.0,255.7 L461.8,253.6 L461.6,251.5 L461.2,249.4 L460.7,247.3 L460.1,245.1 L459.5,242.9 L458.7,240.7 L457.8,238.5 L456.8,236.4 L455.8,234.2 L454.7,232.2 L453.4,230.1 L452.1,228.1 L450.8,226.2 L449.4,224.3 L447.9,222.5 L446.4,220.8 L444.8,219.2 L443.2,217.7 L441.6,216.3 L439.9,215.0 L438.2,213.8 L436.6,212.7 L434.9,211.8 L433.2,211.0 L431.5,210.4 L429.9,209.8 L428.3,209.5 L426.7,209.2 L425.2,209.1 L423.7,209.2 L422.3,209.4 L420.9,209.7 L419.6,210.2 L418.3,210.8Z" fill="none" stroke="#737373" stroke-width="1.05" /><ellipse cx="419.8" cy="251.9" rx="36.5" ry="21.1" transform="rotate(60.5 419.8 251.9)" fill="none" stroke="#737373" stroke-width="1.05" /><ellipse cx="419.8" cy="251.9" rx="33.0" ry="19.0" transform="rotate(60.5 419.8 251.9)" fill="none" stroke="#737373" stroke-width="0.8400000000000001" /><ellipse cx="419.8" cy="251.9" rx="25.5" ry="14.7" transform="rotate(60.5 419.8 251.9)" fill="none" stroke="#737373" stroke-width="0.8400000000000001" /><ellipse cx="419.8" cy="251.9" rx="22.0" ry="12.7" transform="rotate(60.5 419.8 251.9)" fill="none" stroke="#737373" stroke-width="0.8400000000000001" /><ellipse cx="419.8" cy="251.9" rx="19.5" ry="11.3" transform="rotate(60.5 419.8 251.9)" fill="none" stroke="#737373" stroke-width="1.05" /><g clip-path="url(#c2)"><ellipse cx="436.3" cy="242.5" rx="19.5" ry="11.3" transform="rotate(60.5 436.3 242.5)" fill="none" stroke="#737373" stroke-width="1.05" /></g><path d="M588.7,132.4 L588.0,132.8 L587.3,133.3 L586.7,133.9 L586.2,134.6 L585.7,135.4 L585.3,136.2 L584.9,137.1 L584.6,138.1 L584.3,139.1 L584.2,140.1 L584.1,141.2 L584.0,142.4 L584.0,143.6 L584.1,144.8 L584.3,146.1 L584.5,147.3 L584.8,148.6 L585.1,150.0 L585.6,151.3 L586.0,152.6 L586.6,153.9 L587.1,155.2 L587.8,156.5 L588.5,157.8 L589.2,159.0 L590.0,160.2 L590.8,161.4 L591.6,162.5 L592.5,163.6 L593.4,164.6 L594.4,165.6 L595.4,166.5 L596.3,167.3 L597.3,168.1 L598.3,168.8 L599.4,169.5 L600.4,170.0 L601.4,170.5 L602.4,170.9 L603.4,171.2 L604.3,171.4 L605.3,171.6 L606.2,171.6 L607.1,171.6 L608.0,171.5 L608.8,171.3 L609.6,171.0 L610.3,170.6 L613.0,169.2 L613.7,168.7 L614.3,168.2 L614.9,167.6 L615.4,166.9 L615.9,166.1 L616.4,165.3 L616.7,164.4 L617.0,163.5 L617.3,162.5 L617.4,161.4 L617.5,160.3 L617.6,159.1 L617.6,157.9 L617.5,156.7 L617.3,155.5 L617.1,154.2 L616.8,152.9 L616.5,151.6 L616.1,150.2 L615.6,148.9 L615.1,147.6 L614.5,146.3 L613.8,145.0 L613.2,143.8 L612.4,142.5 L611.6,141.3 L610.8,140.1 L610.0,139.0 L609.1,137.9 L608.2,136.9 L607.2,135.9 L606.3,135.0 L605.3,134.2 L604.3,133.4 L603.3,132.7 L602.2,132.1 L601.2,131.5 L600.2,131.0 L599.2,130.6 L598.2,130.3 L597.3,130.1 L596.3,129.9 L595.4,129.9 L594.5,129.9 L593.6,130.0 L592.8,130.2 L592.0,130.5 L591.3,130.9ZM608.1,166.7 L609.2,165.9 L610.1,164.9 L610.8,163.7 L611.4,162.2 L611.7,160.5 L611.8,158.7 L611.7,156.8 L611.4,154.8 L610.9,152.7 L610.2,150.6 L609.3,148.6 L608.3,146.5 L607.1,144.6 L605.8,142.8 L604.3,141.1 L602.8,139.6 L601.2,138.3 L599.6,137.2 L598.0,136.4 L596.4,135.8 L594.9,135.5 L593.4,135.5 L592.1,135.8 L590.9,136.3 L589.8,137.1 L588.9,138.1 L588.2,139.3 L587.6,140.8 L587.3,142.5 L587.2,144.3 L587.3,146.2 L587.6,148.2 L588.1,150.3 L588.8,152.4 L589.7,154.4 L590.7,156.5 L591.9,158.4 L593.2,160.2 L594.7,161.9 L596.2,163.4 L597.8,164.7 L599.4,165.8 L601.0,166.6 L602.6,167.2 L604.1,167.5 L605.6,167.5 L606.9,167.2 L608.1,166.7Z" fill="#fff" stroke="#737373" stroke-width="0" fill-rule="evenodd" stroke="none"/><path d="M588.7,132.4 L588.0,132.8 L587.3,133.3 L586.7,133.9 L586.2,134.6 L585.7,135.4 L585.3,136.2 L584.9,137.1 L584.6,138.1 L584.3,139.1 L584.2,140.1 L584.1,141.2 L584.0,142.4 L584.0,143.6 L584.1,144.8 L584.3,146.1 L584.5,147.3 L584.8,148.6 L585.1,150.0 L585.6,151.3 L586.0,152.6 L586.6,153.9 L587.1,155.2 L587.8,156.5 L588.5,157.8 L589.2,159.0 L590.0,160.2 L590.8,161.4 L591.6,162.5 L592.5,163.6 L593.4,164.6 L594.4,165.6 L595.4,166.5 L596.3,167.3 L597.3,168.1 L598.3,168.8 L599.4,169.5 L600.4,170.0 L601.4,170.5 L602.4,170.9 L603.4,171.2 L604.3,171.4 L605.3,171.6 L606.2,171.6 L607.1,171.6 L608.0,171.5 L608.8,171.3 L609.6,171.0 L610.3,170.6 L613.0,169.2 L613.7,168.7 L614.3,168.2 L614.9,167.6 L615.4,166.9 L615.9,166.1 L616.4,165.3 L616.7,164.4 L617.0,163.5 L617.3,162.5 L617.4,161.4 L617.5,160.3 L617.6,159.1 L617.6,157.9 L617.5,156.7 L617.3,155.5 L617.1,154.2 L616.8,152.9 L616.5,151.6 L616.1,150.2 L615.6,148.9 L615.1,147.6 L614.5,146.3 L613.8,145.0 L613.2,143.8 L612.4,142.5 L611.6,141.3 L610.8,140.1 L610.0,139.0 L609.1,137.9 L608.2,136.9 L607.2,135.9 L606.3,135.0 L605.3,134.2 L604.3,133.4 L603.3,132.7 L602.2,132.1 L601.2,131.5 L600.2,131.0 L599.2,130.6 L598.2,130.3 L597.3,130.1 L596.3,129.9 L595.4,129.9 L594.5,129.9 L593.6,130.0 L592.8,130.2 L592.0,130.5 L591.3,130.9Z" fill="none" stroke="#737373" stroke-width="1.05" /><ellipse cx="599.5" cy="151.5" rx="22.0" ry="12.7" transform="rotate(60.5 599.5 151.5)" fill="none" stroke="#737373" stroke-width="1.05" /><ellipse cx="599.5" cy="151.5" rx="20.5" ry="11.8" transform="rotate(60.5 599.5 151.5)" fill="none" stroke="#737373" stroke-width="0.8400000000000001" /><ellipse cx="599.5" cy="151.5" rx="17.5" ry="10.1" transform="rotate(60.5 599.5 151.5)" fill="none" stroke="#737373" stroke-width="1.05" /><g clip-path="url(#c3)"><ellipse cx="602.1" cy="150.0" rx="17.5" ry="10.1" transform="rotate(60.5 602.1 150.0)" fill="none" stroke="#737373" stroke-width="1.05" /></g><path d="M619.5,108.5 L618.6,109.1 L617.8,109.7 L617.1,110.5 L616.4,111.3 L615.8,112.2 L615.3,113.2 L614.9,114.3 L614.5,115.5 L614.2,116.7 L614.0,118.0 L613.9,119.4 L613.8,120.8 L613.8,122.3 L613.9,123.8 L614.1,125.3 L614.4,126.9 L614.8,128.5 L615.2,130.1 L615.7,131.7 L616.3,133.3 L616.9,135.0 L617.6,136.5 L618.4,138.1 L619.2,139.7 L620.1,141.2 L621.1,142.7 L622.1,144.1 L623.2,145.5 L624.2,146.8 L625.4,148.1 L626.5,149.3 L627.7,150.4 L628.9,151.4 L630.2,152.4 L631.4,153.3 L632.6,154.0 L633.9,154.7 L635.1,155.3 L636.3,155.8 L637.6,156.2 L638.7,156.5 L639.9,156.6 L641.0,156.7 L642.1,156.7 L643.2,156.5 L644.2,156.3 L645.2,155.9 L646.1,155.5 L658.3,148.6 L659.1,148.0 L659.9,147.4 L660.7,146.6 L661.3,145.8 L661.9,144.9 L662.5,143.9 L662.9,142.8 L663.3,141.6 L663.6,140.4 L663.8,139.1 L663.9,137.7 L664.0,136.3 L663.9,134.8 L663.8,133.3 L663.6,131.8 L663.4,130.2 L663.0,128.6 L662.6,127.0 L662.1,125.4 L661.5,123.8 L660.9,122.1 L660.2,120.5 L659.4,119.0 L658.5,117.4 L657.6,115.9 L656.7,114.4 L655.7,113.0 L654.6,111.6 L653.5,110.3 L652.4,109.0 L651.2,107.8 L650.1,106.7 L648.9,105.7 L647.6,104.7 L646.4,103.8 L645.2,103.1 L643.9,102.4 L642.7,101.8 L641.4,101.3 L640.2,100.9 L639.0,100.6 L637.9,100.5 L636.7,100.4 L635.6,100.4 L634.6,100.6 L633.6,100.8 L632.6,101.2 L631.7,101.6ZM640.4,145.5 L641.4,144.8 L642.2,143.9 L642.8,142.8 L643.3,141.5 L643.6,140.0 L643.7,138.4 L643.6,136.7 L643.4,134.9 L642.9,133.1 L642.3,131.2 L641.5,129.4 L640.6,127.6 L639.5,125.9 L638.3,124.3 L637.1,122.8 L635.7,121.4 L634.3,120.3 L632.9,119.3 L631.5,118.6 L630.1,118.1 L628.7,117.9 L627.4,117.8 L626.2,118.1 L625.2,118.5 L624.2,119.2 L623.4,120.1 L622.8,121.2 L622.3,122.5 L622.0,124.0 L621.9,125.6 L622.0,127.3 L622.2,129.1 L622.7,130.9 L623.3,132.8 L624.1,134.6 L625.0,136.4 L626.1,138.1 L627.3,139.7 L628.5,141.2 L629.9,142.6 L631.3,143.7 L632.7,144.7 L634.1,145.4 L635.5,145.9 L636.9,146.1 L638.2,146.2 L639.4,145.9 L640.4,145.5Z" fill="#fff" stroke="#737373" stroke-width="0" fill-rule="evenodd" stroke="none"/><path d="M619.5,108.5 L618.6,109.1 L617.8,109.7 L617.1,110.5 L616.4,111.3 L615.8,112.2 L615.3,113.2 L614.9,114.3 L614.5,115.5 L614.2,116.7 L614.0,118.0 L613.9,119.4 L613.8,120.8 L613.8,122.3 L613.9,123.8 L614.1,125.3 L614.4,126.9 L614.8,128.5 L615.2,130.1 L615.7,131.7 L616.3,133.3 L616.9,135.0 L617.6,136.5 L618.4,138.1 L619.2,139.7 L620.1,141.2 L621.1,142.7 L622.1,144.1 L623.2,145.5 L624.2,146.8 L625.4,148.1 L626.5,149.3 L627.7,150.4 L628.9,151.4 L630.2,152.4 L631.4,153.3 L632.6,154.0 L633.9,154.7 L635.1,155.3 L636.3,155.8 L637.6,156.2 L638.7,156.5 L639.9,156.6 L641.0,156.7 L642.1,156.7 L643.2,156.5 L644.2,156.3 L645.2,155.9 L646.1,155.5 L658.3,148.6 L659.1,148.0 L659.9,147.4 L660.7,146.6 L661.3,145.8 L661.9,144.9 L662.5,143.9 L662.9,142.8 L663.3,141.6 L663.6,140.4 L663.8,139.1 L663.9,137.7 L664.0,136.3 L663.9,134.8 L663.8,133.3 L663.6,131.8 L663.4,130.2 L663.0,128.6 L662.6,127.0 L662.1,125.4 L661.5,123.8 L660.9,122.1 L660.2,120.5 L659.4,119.0 L658.5,117.4 L657.6,115.9 L656.7,114.4 L655.7,113.0 L654.6,111.6 L653.5,110.3 L652.4,109.0 L651.2,107.8 L650.1,106.7 L648.9,105.7 L647.6,104.7 L646.4,103.8 L645.2,103.1 L643.9,102.4 L642.7,101.8 L641.4,101.3 L640.2,100.9 L639.0,100.6 L637.9,100.5 L636.7,100.4 L635.6,100.4 L634.6,100.6 L633.6,100.8 L632.6,101.2 L631.7,101.6Z" fill="none" stroke="#737373" stroke-width="1.05" /><ellipse cx="632.8" cy="132.0" rx="27.0" ry="15.6" transform="rotate(60.5 632.8 132.0)" fill="none" stroke="#737373" stroke-width="1.05" /><ellipse cx="632.8" cy="132.0" rx="24.5" ry="14.1" transform="rotate(60.5 632.8 132.0)" fill="none" stroke="#737373" stroke-width="0.8400000000000001" /><ellipse cx="632.8" cy="132.0" rx="20.0" ry="11.5" transform="rotate(60.5 632.8 132.0)" fill="none" stroke="#737373" stroke-width="0.8400000000000001" /><ellipse cx="632.8" cy="132.0" rx="17.5" ry="10.1" transform="rotate(60.5 632.8 132.0)" fill="none" stroke="#737373" stroke-width="0.8400000000000001" /><ellipse cx="632.8" cy="132.0" rx="15.5" ry="8.9" transform="rotate(60.5 632.8 132.0)" fill="none" stroke="#737373" stroke-width="1.05" /><g clip-path="url(#c4)"><ellipse cx="645.0" cy="125.1" rx="15.5" ry="8.9" transform="rotate(60.5 645.0 125.1)" fill="none" stroke="#737373" stroke-width="1.05" /></g><path d="M668.5,97.0 L669.2,88.5 L673.8,87.5 L674.5,96.0Z" fill="#fff" stroke="#737373" stroke-width="1.05" /><path d="M675.0,97.5 L675.8,90.0 L680.2,90.8 L681.2,99.0Z" fill="#fff" stroke="#737373" stroke-width="1.05" /><path d="M665.1,92.1 L664.5,92.5 L664.0,92.9 L663.5,93.4 L663.0,94.0 L662.6,94.7 L662.2,95.4 L661.9,96.2 L661.6,97.0 L661.4,97.9 L661.3,98.8 L661.2,99.7 L661.1,100.7 L661.2,101.8 L661.2,102.8 L661.4,103.9 L661.6,105.0 L661.8,106.1 L662.1,107.3 L662.5,108.4 L662.9,109.5 L663.3,110.7 L663.8,111.8 L664.4,112.9 L665.0,114.0 L665.6,115.1 L666.3,116.1 L667.0,117.1 L667.7,118.1 L668.5,119.0 L669.3,119.9 L670.1,120.8 L670.9,121.5 L671.8,122.3 L672.6,123.0 L673.5,123.6 L674.4,124.1 L675.3,124.6 L676.1,125.0 L677.0,125.3 L677.8,125.6 L678.7,125.8 L679.5,125.9 L680.3,126.0 L681.1,126.0 L681.8,125.9 L682.5,125.7 L683.2,125.4 L683.9,125.1 L684.9,124.5 L685.5,124.1 L686.1,123.7 L686.6,123.2 L687.1,122.6 L687.5,121.9 L687.8,121.2 L688.2,120.4 L688.4,119.6 L688.6,118.7 L688.8,117.8 L688.9,116.9 L688.9,115.9 L688.9,114.8 L688.8,113.8 L688.7,112.7 L688.5,111.6 L688.2,110.5 L687.9,109.3 L687.6,108.2 L687.2,107.1 L686.7,105.9 L686.2,104.8 L685.7,103.7 L685.1,102.6 L684.4,101.5 L683.8,100.5 L683.1,99.5 L682.3,98.5 L681.6,97.6 L680.8,96.7 L680.0,95.8 L679.1,95.1 L678.3,94.3 L677.4,93.7 L676.5,93.0 L675.7,92.5 L674.8,92.0 L673.9,91.6 L673.1,91.3 L672.2,91.0 L671.4,90.8 L670.5,90.7 L669.7,90.6 L669.0,90.6 L668.2,90.7 L667.5,90.9 L666.8,91.2 L666.2,91.5ZM681.9,121.6 L682.8,121.0 L683.6,120.1 L684.2,119.0 L684.7,117.8 L685.0,116.4 L685.1,114.8 L685.0,113.2 L684.7,111.4 L684.3,109.7 L683.7,107.9 L682.9,106.1 L682.0,104.3 L681.0,102.7 L679.9,101.1 L678.6,99.7 L677.3,98.4 L676.0,97.3 L674.6,96.4 L673.2,95.6 L671.9,95.2 L670.5,94.9 L669.3,94.9 L668.2,95.1 L667.1,95.5 L666.2,96.2 L665.4,97.1 L664.8,98.2 L664.3,99.4 L664.0,100.8 L663.9,102.4 L664.0,104.0 L664.3,105.8 L664.7,107.5 L665.3,109.3 L666.1,111.1 L667.0,112.9 L668.0,114.5 L669.1,116.1 L670.4,117.5 L671.7,118.8 L673.0,119.9 L674.4,120.8 L675.8,121.6 L677.1,122.0 L678.5,122.3 L679.7,122.3 L680.8,122.1 L681.9,121.6Z" fill="#fff" stroke="#737373" stroke-width="0" fill-rule="evenodd" stroke="none"/><path d="M665.1,92.1 L664.5,92.5 L664.0,92.9 L663.5,93.4 L663.0,94.0 L662.6,94.7 L662.2,95.4 L661.9,96.2 L661.6,97.0 L661.4,97.9 L661.3,98.8 L661.2,99.7 L661.1,100.7 L661.2,101.8 L661.2,102.8 L661.4,103.9 L661.6,105.0 L661.8,106.1 L662.1,107.3 L662.5,108.4 L662.9,109.5 L663.3,110.7 L663.8,111.8 L664.4,112.9 L665.0,114.0 L665.6,115.1 L666.3,116.1 L667.0,117.1 L667.7,118.1 L668.5,119.0 L669.3,119.9 L670.1,120.8 L670.9,121.5 L671.8,122.3 L672.6,123.0 L673.5,123.6 L674.4,124.1 L675.3,124.6 L676.1,125.0 L677.0,125.3 L677.8,125.6 L678.7,125.8 L679.5,125.9 L680.3,126.0 L681.1,126.0 L681.8,125.9 L682.5,125.7 L683.2,125.4 L683.9,125.1 L684.9,124.5 L685.5,124.1 L686.1,123.7 L686.6,123.2 L687.1,122.6 L687.5,121.9 L687.8,121.2 L688.2,120.4 L688.4,119.6 L688.6,118.7 L688.8,117.8 L688.9,116.9 L688.9,115.9 L688.9,114.8 L688.8,113.8 L688.7,112.7 L688.5,111.6 L688.2,110.5 L687.9,109.3 L687.6,108.2 L687.2,107.1 L686.7,105.9 L686.2,104.8 L685.7,103.7 L685.1,102.6 L684.4,101.5 L683.8,100.5 L683.1,99.5 L682.3,98.5 L681.6,97.6 L680.8,96.7 L680.0,95.8 L679.1,95.1 L678.3,94.3 L677.4,93.7 L676.5,93.0 L675.7,92.5 L674.8,92.0 L673.9,91.6 L673.1,91.3 L672.2,91.0 L671.4,90.8 L670.5,90.7 L669.7,90.6 L669.0,90.6 L668.2,90.7 L667.5,90.9 L666.8,91.2 L666.2,91.5Z" fill="none" stroke="#737373" stroke-width="1.05" /><ellipse cx="674.5" cy="108.6" rx="19.0" ry="11.0" transform="rotate(60.5 674.5 108.6)" fill="none" stroke="#737373" stroke-width="1.05" /><ellipse cx="674.5" cy="108.6" rx="15.0" ry="8.7" transform="rotate(60.5 674.5 108.6)" fill="none" stroke="#737373" stroke-width="1.05" /><g clip-path="url(#c5)"><ellipse cx="675.5" cy="108.0" rx="15.0" ry="8.7" transform="rotate(60.5 675.5 108.0)" fill="none" stroke="#737373" stroke-width="1.05" /></g><path d="M486.8,160.2 L485.3,161.1 L483.9,162.3 L482.6,163.6 L481.5,165.0 L480.4,166.6 L479.5,168.4 L478.7,170.3 L478.1,172.3 L477.6,174.5 L477.2,176.8 L477.0,179.1 L476.9,181.6 L476.9,184.1 L477.1,186.8 L477.5,189.5 L477.9,192.2 L478.6,195.0 L479.3,197.8 L480.2,200.6 L481.2,203.4 L482.3,206.2 L483.5,209.0 L484.9,211.7 L486.4,214.4 L487.9,217.1 L489.6,219.6 L491.3,222.1 L493.2,224.6 L495.1,226.9 L497.0,229.1 L499.0,231.1 L501.1,233.1 L503.2,234.9 L505.3,236.6 L507.5,238.1 L509.7,239.4 L511.8,240.6 L514.0,241.6 L516.1,242.5 L518.2,243.2 L520.3,243.6 L522.3,243.9 L524.3,244.1 L526.2,244.0 L528.1,243.8 L529.9,243.3 L531.5,242.7 L533.1,241.9 L574.0,218.8 L575.5,217.8 L576.9,216.7 L578.2,215.4 L579.3,213.9 L580.4,212.3 L581.3,210.5 L582.1,208.6 L582.7,206.6 L583.2,204.5 L583.6,202.2 L583.8,199.8 L583.9,197.3 L583.9,194.8 L583.7,192.2 L583.3,189.5 L582.9,186.8 L582.3,184.0 L581.5,181.2 L580.6,178.4 L579.6,175.6 L578.5,172.7 L577.3,170.0 L575.9,167.2 L574.4,164.5 L572.9,161.9 L571.2,159.3 L569.5,156.8 L567.6,154.4 L565.7,152.1 L563.8,149.9 L561.8,147.8 L559.7,145.9 L557.6,144.1 L555.5,142.4 L553.3,140.9 L551.1,139.5 L549.0,138.3 L546.8,137.3 L544.7,136.5 L542.6,135.8 L540.5,135.3 L538.5,135.0 L536.5,134.9 L534.6,134.9 L532.7,135.2 L531.0,135.6 L529.3,136.2 L527.7,137.0Z" fill="#fff" stroke="#737373" stroke-width="0.9" /><path d="M555.6,217.1 L558.0,217.4 L560.2,217.4 L562.4,217.1 L564.4,216.5 L566.3,215.7 L568.0,214.6 L569.6,213.2 L571.0,211.5 L572.2,209.6 L573.2,207.5 L573.9,205.2 L574.5,202.6 L574.9,199.9 L575.0,197.1 L574.9,194.1 L574.6,191.0 L574.1,187.8 L573.3,184.6 L572.4,181.3 L571.2,178.1 L569.8,174.8 L568.3,171.6 L566.6,168.4 L564.8,165.4 L562.8,162.5 L560.6,159.7 L558.4,157.0 L556.1,154.6 L553.6,152.3 L551.2,150.3" fill="none" stroke="#737373" stroke-width="0.9" /><path d="M567.5,217.4 L569.8,216.9 L571.9,216.0 L573.8,214.8 L575.5,213.3 L577.0,211.5 L578.4,209.4 L579.4,207.1 L580.3,204.6 L580.9,201.8 L581.3,198.9 L581.5,195.7 L581.3,192.5 L581.0,189.1 L580.4,185.6 L579.5,182.0 L578.5,178.5 L577.2,174.9 L575.7,171.3 L573.9,167.8 L572.1,164.4 L570.0,161.1 L567.8,157.9 L565.4,154.9 L562.9,152.1 L560.3,149.5 L557.7,147.1 L555.0,144.9 L552.2,143.0 L549.5,141.5 L546.7,140.2" fill="none" stroke="#737373" stroke-width="0.6" /><circle cx="567.6" cy="218.7" r="0.9" fill="#444"/><circle cx="576.8" cy="209.7" r="0.9" fill="#444"/><circle cx="579.0" cy="193.4" r="0.9" fill="#444"/><circle cx="573.7" cy="173.5" r="0.9" fill="#444"/><circle cx="562.1" cy="155.1" r="0.9" fill="#444"/><path d="M517.2,163.0 L546.8,146.2" fill="none" stroke="#737373" stroke-width="0.9" /><path d="M540.8,236.5 L572.2,218.8" fill="none" stroke="#737373" stroke-width="0.9" /><path d="M528.5,170.5 L554.6,155.8 L557.5,165.9 L569.3,202.6 L573.4,211.2 L547.3,226.0Z" fill="#fff" stroke="#737373" stroke-width="0.9" /><path d="M528.5,170.5 L531.4,180.7 L543.2,217.4 L547.3,226.0" fill="none" stroke="#737373" stroke-width="0.8" /><path d="M531.4,180.7 L557.5,165.9" fill="none" stroke="#737373" stroke-width="0.7" /><path d="M543.2,217.4 L569.3,202.6" fill="none" stroke="#737373" stroke-width="0.7" /><path d="M545.0,193.5 L560.7,184.6 L558.0,188.0 L542.4,196.8Z" fill="none" stroke="#737373" stroke-width="0.7" /><path d="M507.8,153.4 L526.9,142.6 L530.9,147.8" fill="none" stroke="#737373" stroke-width="0.7" /><path d="M541.4,258.5 L542.7,259.5 L543.9,260.2 L545.0,260.6 L545.9,260.7 L546.6,260.7 L547.3,260.4 L547.9,260.0 L548.4,259.4 L548.7,258.7 L549.0,257.8 L549.1,256.7 L549.0,255.4 L548.6,253.7 L548.4,252.3 L548.8,251.8 L549.2,251.2 L549.6,250.6 L550.0,250.0 L550.3,249.4 L550.7,248.7 L551.0,248.1 L551.3,247.4 L551.7,246.7 L552.0,246.0 L552.3,245.3 L552.6,244.7 L554.1,245.1 L555.1,245.0 L555.9,244.8 L556.5,244.3 L557.0,243.7 L557.3,242.9 L557.5,242.1 L557.6,241.1 L557.5,240.0 L557.3,238.8 L556.9,237.5 L556.3,236.1 L555.2,234.4 L555.0,233.2 L555.0,232.3 L555.1,231.4 L555.1,230.5 L555.2,229.6 L555.2,228.7 L555.2,227.7 L555.2,226.8 L555.1,225.8 L555.1,224.9 L555.0,223.9 L555.0,222.9 L555.4,222.2 L556.4,221.6 L557.0,220.9 L557.3,220.0 L557.6,219.1 L557.6,218.1 L557.5,217.0 L557.3,215.9 L557.0,214.8 L556.5,213.6 L555.8,212.4 L555.0,211.2 L554.0,210.0 L552.5,208.7 L552.3,207.7 L552.0,206.7 L551.7,205.6 L551.4,204.6 L551.0,203.5 L550.7,202.5 L550.3,201.4 L550.0,200.4 L549.6,199.3 L549.2,198.3 L548.8,197.3 L548.4,196.2 L548.7,195.1 L549.1,193.8 L549.1,192.6 L549.0,191.5 L548.8,190.3 L548.4,189.1 L547.9,188.0 L547.3,186.9 L546.6,185.9 L545.8,184.9 L544.9,184.0 L543.9,183.2 L542.6,182.5 L541.4,181.9 L540.8,180.9 L540.2,180.0 L539.6,179.0 L539.0,178.0 L538.4,177.1 L537.8,176.1 L537.2,175.2 L536.5,174.2 L535.9,173.3 L535.2,172.4 L534.5,171.5 L533.9,170.6 L533.8,168.9 L533.5,167.4 L533.1,166.0 L532.6,164.8 L531.9,163.7 L531.2,162.6 L530.5,161.7 L529.6,160.9 L528.8,160.2 L527.8,159.7 L526.9,159.3 L525.8,159.1 L524.7,159.3 L523.7,159.1 L523.0,158.3 L522.2,157.6 L521.4,156.9 L520.6,156.2 L519.9,155.6 L519.1,154.9 L518.3,154.2 L517.5,153.6 L516.7,153.0 L515.9,152.4 L515.1,151.8 L514.4,150.9 L513.7,149.0 L512.9,147.6 L512.1,146.4 L511.3,145.5 L510.4,144.7 L509.5,144.0 L508.7,143.5 L507.8,143.2 L507.0,143.0 L506.1,143.0 L505.3,143.3 L504.6,143.9 L503.9,145.0 L503.1,144.8 L502.3,144.5 L501.5,144.2 L500.7,143.9 L499.9,143.6 L499.1,143.3 L498.3,143.1 L497.6,142.9 L496.8,142.7 L496.0,142.5 L495.2,142.3 L494.5,142.2 L493.5,141.1 L492.4,139.7 L491.3,138.7 L490.4,138.0 L489.4,137.5 L488.6,137.2 L487.7,137.0 L487.0,137.1 L486.3,137.3 L485.7,137.7 L485.1,138.3 L484.7,139.2 L484.5,140.4 L484.3,141.9 L483.7,142.1 L483.0,142.2 L482.3,142.4 L481.7,142.5 L481.0,142.7 L480.4,142.9 L479.8,143.2 L479.2,143.4 L478.6,143.7 L478.0,143.9 L477.4,144.2 L476.8,144.6 L475.5,143.6 L474.3,142.9 L473.2,142.5 L472.3,142.4 L471.5,142.4 L470.9,142.7 L470.3,143.1 L469.8,143.7 L469.4,144.4 L469.2,145.3 L469.1,146.4 L469.2,147.7 L469.6,149.4 L469.8,150.8 L469.4,151.3 L469.0,151.9 L468.6,152.5 L468.2,153.1 L467.9,153.7 L467.5,154.4 L467.2,155.0 L466.8,155.7 L466.5,156.4 L466.2,157.1 L465.9,157.8 L465.6,158.4 L464.1,158.0 L463.1,158.1 L462.3,158.3 L461.7,158.8 L461.2,159.4 L460.9,160.2 L460.7,161.0 L460.6,162.0 L460.7,163.1 L460.9,164.3 L461.3,165.6 L461.9,167.0 L462.9,168.7 L463.2,169.9 L463.1,170.8 L463.1,171.7 L463.0,172.6 L463.0,173.5 L463.0,174.4 L463.0,175.4 L463.0,176.3 L463.0,177.3 L463.1,178.2 L463.1,179.2 L463.2,180.2 L462.8,180.9 L461.8,181.5 L461.2,182.2 L460.8,183.1 L460.6,184.0 L460.6,185.0 L460.7,186.1 L460.9,187.2 L461.2,188.3 L461.7,189.5 L462.3,190.7 L463.2,191.9 L464.2,193.1 L465.6,194.4 L465.9,195.4 L466.2,196.4 L466.5,197.5 L466.8,198.5 L467.1,199.6 L467.5,200.6 L467.8,201.7 L468.2,202.7 L468.6,203.8 L469.0,204.8 L469.4,205.8 L469.8,206.9 L469.5,208.0 L469.1,209.3 L469.0,210.5 L469.2,211.6 L469.4,212.8 L469.8,214.0 L470.3,215.1 L470.8,216.2 L471.5,217.2 L472.3,218.2 L473.3,219.1 L474.3,219.9 L475.6,220.6 L476.8,221.2 L477.4,222.2 L477.9,223.1 L478.5,224.1 L479.1,225.1 L479.8,226.0 L480.4,227.0 L481.0,227.9 L481.7,228.9 L482.3,229.8 L483.0,230.7 L483.6,231.6 L484.3,232.5 L484.4,234.2 L484.7,235.7 L485.1,237.1 L485.6,238.3 L486.3,239.4 L487.0,240.5 L487.7,241.4 L488.5,242.2 L489.4,242.9 L490.3,243.4 L491.3,243.8 L492.4,244.0 L493.5,243.8 L494.5,244.0 L495.2,244.8 L496.0,245.5 L496.8,246.2 L497.5,246.9 L498.3,247.5 L499.1,248.2 L499.9,248.9 L500.7,249.5 L501.5,250.1 L502.3,250.7 L503.1,251.3 L503.8,252.2 L504.5,254.1 L505.3,255.5 L506.1,256.7 L506.9,257.6 L507.8,258.4 L508.6,259.1 L509.5,259.6 L510.4,259.9 L511.2,260.1 L512.1,260.1 L512.9,259.8 L513.6,259.2 L514.3,258.1 L515.1,258.3 L515.9,258.6 L516.7,258.9 L517.5,259.2 L518.3,259.5 L519.1,259.7 L519.8,260.0 L520.6,260.2 L521.4,260.4 L522.2,260.6 L522.9,260.8 L523.7,260.9 L524.7,262.0 L525.8,263.4 L526.8,264.4 L527.8,265.1 L528.7,265.6 L529.6,265.9 L530.4,266.1 L531.2,266.0 L531.9,265.8 L532.5,265.4 L533.0,264.8 L533.5,263.9 L533.7,262.7 L533.8,261.2 L534.5,261.0 L535.2,260.9 L535.8,260.7 L536.5,260.6 L537.1,260.4 L537.8,260.2 L538.4,259.9 L539.0,259.7 L539.6,259.4 L540.2,259.1 L540.8,258.9Z" fill="#fff" stroke="#737373" stroke-width="0.9" /><path d="M535.3,262.0 L536.6,262.9 L537.8,263.7 L538.9,264.0 L539.8,264.2 L540.5,264.1 L541.2,263.8 L541.8,263.4 L542.3,262.9 L542.6,262.1 L542.9,261.2 L543.0,260.1 L542.9,258.8 L542.5,257.2 L542.3,255.8 L542.7,255.2 L543.1,254.6 L543.5,254.0 L543.9,253.4 L544.2,252.8 L544.6,252.2 L544.9,251.5 L545.3,250.9 L545.6,250.2 L545.9,249.5 L546.2,248.8 L546.5,248.1 L548.0,248.5 L549.0,248.5 L549.8,248.2 L550.4,247.7 L550.9,247.1 L551.2,246.4 L551.4,245.5 L551.5,244.5 L551.4,243.5 L551.2,242.3 L550.8,241.0 L550.2,239.5 L549.2,237.8 L548.9,236.7 L548.9,235.8 L549.0,234.9 L549.0,234.0 L549.1,233.0 L549.1,232.1 L549.1,231.2 L549.1,230.2 L549.0,229.3 L549.0,228.3 L548.9,227.4 L548.9,226.4 L549.3,225.6 L550.3,225.1 L550.9,224.4 L551.3,223.5 L551.5,222.6 L551.5,221.6 L551.4,220.5 L551.2,219.4 L550.9,218.3 L550.4,217.1 L549.7,215.9 L548.9,214.7 L547.9,213.5 L546.4,212.2 L546.2,211.2 L545.9,210.1 L545.6,209.1 L545.3,208.0 L544.9,207.0 L544.6,205.9 L544.2,204.9 L543.9,203.8 L543.5,202.8 L543.1,201.8 L542.7,200.7 L542.3,199.7 L542.6,198.5 L543.0,197.3 L543.0,196.1 L542.9,194.9 L542.7,193.7 L542.3,192.6 L541.8,191.5 L541.2,190.4 L540.5,189.3 L539.8,188.4 L538.8,187.5 L537.8,186.7 L536.5,186.0 L535.3,185.4 L534.7,184.4 L534.1,183.4 L533.5,182.4 L532.9,181.5 L532.3,180.5 L531.7,179.6 L531.1,178.6 L530.4,177.7 L529.8,176.8 L529.1,175.8 L528.4,174.9 L527.8,174.0 L527.7,172.3 L527.4,170.8 L527.0,169.5 L526.5,168.2 L525.8,167.1 L525.1,166.1 L524.4,165.2 L523.5,164.4 L522.7,163.7 L521.7,163.1 L520.8,162.8 L519.7,162.6 L518.6,162.8 L517.6,162.5 L516.9,161.8 L516.1,161.1 L515.3,160.4 L514.6,159.7 L513.8,159.0 L513.0,158.3 L512.2,157.7 L511.4,157.1 L510.6,156.4 L509.8,155.8 L509.0,155.2 L508.3,154.3 L507.6,152.5 L506.8,151.1 L506.0,149.9 L505.2,148.9 L504.3,148.1 L503.4,147.5 L502.6,147.0 L501.7,146.6 L500.9,146.5 L500.0,146.5 L499.2,146.8 L498.5,147.3 L497.8,148.4 L497.0,148.3 L496.2,147.9 L495.4,147.6 L494.6,147.3 L493.8,147.1 L493.0,146.8 L492.3,146.6 L491.5,146.3 L490.7,146.1 L489.9,145.9 L489.2,145.8 L488.4,145.6 L487.4,144.6 L486.3,143.1 L485.2,142.1 L484.3,141.4 L483.3,140.9 L482.5,140.6 L481.7,140.5 L480.9,140.5 L480.2,140.7 L479.6,141.2 L479.0,141.8 L478.6,142.6 L478.4,143.9 L478.3,145.4 L477.6,145.5 L476.9,145.6 L476.2,145.8 L475.6,146.0 L475.0,146.2 L474.3,146.4 L473.7,146.6 L473.1,146.9 L472.5,147.1 L471.9,147.4 L471.3,147.7 L470.7,148.0 L469.4,147.1 L468.2,146.3 L467.1,146.0 L466.2,145.8 L465.5,145.9 L464.8,146.2 L464.2,146.6 L463.7,147.1 L463.4,147.9 L463.1,148.8 L463.0,149.9 L463.1,151.2 L463.5,152.8 L463.7,154.2 L463.3,154.8 L462.9,155.4 L462.5,156.0 L462.1,156.6 L461.8,157.2 L461.4,157.8 L461.1,158.5 L460.7,159.1 L460.4,159.8 L460.1,160.5 L459.8,161.2 L459.5,161.9 L458.0,161.5 L457.0,161.5 L456.2,161.8 L455.6,162.3 L455.1,162.9 L454.8,163.6 L454.6,164.5 L454.5,165.5 L454.6,166.5 L454.8,167.7 L455.2,169.0 L455.8,170.5 L456.8,172.2 L457.1,173.3 L457.1,174.2 L457.0,175.1 L457.0,176.0 L456.9,177.0 L456.9,177.9 L456.9,178.8 L456.9,179.8 L457.0,180.7 L457.0,181.7 L457.1,182.6 L457.1,183.6 L456.7,184.4 L455.7,184.9 L455.1,185.6 L454.7,186.5 L454.5,187.4 L454.5,188.4 L454.6,189.5 L454.8,190.6 L455.1,191.7 L455.6,192.9 L456.3,194.1 L457.1,195.3 L458.1,196.5 L459.6,197.8 L459.8,198.8 L460.1,199.9 L460.4,200.9 L460.7,202.0 L461.1,203.0 L461.4,204.1 L461.8,205.1 L462.1,206.2 L462.5,207.2 L462.9,208.2 L463.3,209.3 L463.7,210.3 L463.4,211.5 L463.0,212.7 L463.0,213.9 L463.1,215.1 L463.3,216.3 L463.7,217.4 L464.2,218.5 L464.8,219.6 L465.5,220.7 L466.2,221.6 L467.2,222.5 L468.2,223.3 L469.5,224.0 L470.7,224.6 L471.3,225.6 L471.9,226.6 L472.5,227.6 L473.1,228.5 L473.7,229.5 L474.3,230.4 L474.9,231.4 L475.6,232.3 L476.2,233.2 L476.9,234.2 L477.6,235.1 L478.2,236.0 L478.3,237.7 L478.6,239.2 L479.0,240.5 L479.5,241.8 L480.2,242.9 L480.9,243.9 L481.6,244.8 L482.5,245.6 L483.3,246.3 L484.3,246.9 L485.2,247.2 L486.3,247.4 L487.4,247.2 L488.4,247.5 L489.1,248.2 L489.9,248.9 L490.7,249.6 L491.4,250.3 L492.2,251.0 L493.0,251.7 L493.8,252.3 L494.6,252.9 L495.4,253.6 L496.2,254.2 L497.0,254.8 L497.7,255.7 L498.4,257.5 L499.2,258.9 L500.0,260.1 L500.8,261.1 L501.7,261.9 L502.6,262.5 L503.4,263.0 L504.3,263.4 L505.1,263.5 L506.0,263.5 L506.8,263.2 L507.5,262.7 L508.2,261.6 L509.0,261.7 L509.8,262.1 L510.6,262.4 L511.4,262.7 L512.2,262.9 L513.0,263.2 L513.7,263.4 L514.5,263.7 L515.3,263.9 L516.1,264.1 L516.8,264.2 L517.6,264.4 L518.6,265.4 L519.7,266.9 L520.8,267.9 L521.7,268.6 L522.7,269.1 L523.5,269.4 L524.3,269.5 L525.1,269.5 L525.8,269.3 L526.4,268.8 L527.0,268.2 L527.4,267.4 L527.6,266.1 L527.7,264.6 L528.4,264.5 L529.1,264.4 L529.8,264.2 L530.4,264.0 L531.0,263.8 L531.7,263.6 L532.3,263.4 L532.9,263.1 L533.5,262.9 L534.1,262.6 L534.7,262.3Z" fill="#fff" stroke="#737373" stroke-width="0.9" /><ellipse cx="537.1" cy="256.4" rx="3.8" ry="2.6" transform="rotate(60.5 537.1 256.4)" fill="#fff" stroke="#737373" stroke-width="1.05"/><ellipse cx="545.5" cy="240.9" rx="3.8" ry="2.6" transform="rotate(60.5 545.5 240.9)" fill="#fff" stroke="#737373" stroke-width="1.05"/><ellipse cx="545.5" cy="218.3" rx="3.8" ry="2.6" transform="rotate(60.5 545.5 218.3)" fill="#fff" stroke="#737373" stroke-width="1.05"/><ellipse cx="537.1" cy="193.1" rx="3.8" ry="2.6" transform="rotate(60.5 537.1 193.1)" fill="#fff" stroke="#737373" stroke-width="1.05"/><ellipse cx="522.0" cy="170.2" rx="3.8" ry="2.6" transform="rotate(60.5 522.0 170.2)" fill="#fff" stroke="#737373" stroke-width="1.05"/><ellipse cx="503.1" cy="154.2" rx="3.8" ry="2.6" transform="rotate(60.5 503.1 154.2)" fill="#fff" stroke="#737373" stroke-width="1.05"/><ellipse cx="484.1" cy="148.3" rx="3.8" ry="2.6" transform="rotate(60.5 484.1 148.3)" fill="#fff" stroke="#737373" stroke-width="1.05"/><ellipse cx="468.9" cy="153.6" rx="3.8" ry="2.6" transform="rotate(60.5 468.9 153.6)" fill="#fff" stroke="#737373" stroke-width="1.05"/><ellipse cx="460.5" cy="169.1" rx="3.8" ry="2.6" transform="rotate(60.5 460.5 169.1)" fill="#fff" stroke="#737373" stroke-width="1.05"/><ellipse cx="460.5" cy="191.7" rx="3.8" ry="2.6" transform="rotate(60.5 460.5 191.7)" fill="#fff" stroke="#737373" stroke-width="1.05"/><ellipse cx="468.9" cy="216.9" rx="3.8" ry="2.6" transform="rotate(60.5 468.9 216.9)" fill="#fff" stroke="#737373" stroke-width="1.05"/><ellipse cx="484.0" cy="239.8" rx="3.8" ry="2.6" transform="rotate(60.5 484.0 239.8)" fill="#fff" stroke="#737373" stroke-width="1.05"/><ellipse cx="502.9" cy="255.8" rx="3.8" ry="2.6" transform="rotate(60.5 502.9 255.8)" fill="#fff" stroke="#737373" stroke-width="1.05"/><ellipse cx="521.9" cy="261.7" rx="3.8" ry="2.6" transform="rotate(60.5 521.9 261.7)" fill="#fff" stroke="#737373" stroke-width="1.05"/><path d="M474.3,160.4 L472.6,161.5 L471.0,162.7 L469.6,164.2 L468.3,165.8 L467.1,167.7 L466.1,169.6 L465.2,171.8 L464.5,174.1 L463.9,176.5 L463.5,179.1 L463.2,181.8 L463.1,184.5 L463.2,187.4 L463.4,190.4 L463.8,193.4 L464.3,196.5 L465.0,199.6 L465.8,202.8 L466.8,205.9 L467.9,209.1 L469.2,212.3 L470.6,215.4 L472.1,218.5 L473.8,221.6 L475.6,224.5 L477.4,227.4 L479.4,230.3 L481.5,233.0 L483.6,235.6 L485.8,238.1 L488.1,240.4 L490.4,242.6 L492.8,244.6 L495.2,246.5 L497.6,248.2 L500.1,249.7 L502.5,251.1 L504.9,252.2 L507.3,253.2 L509.7,253.9 L512.1,254.5 L514.3,254.8 L516.6,255.0 L518.7,254.9 L520.8,254.6 L522.8,254.2 L524.7,253.5 L526.5,252.6 L529.1,251.1 L530.8,250.0 L532.4,248.7 L533.8,247.3 L535.1,245.6 L536.3,243.8 L537.3,241.8 L538.2,239.7 L538.9,237.4 L539.5,235.0 L539.9,232.4 L540.2,229.7 L540.3,226.9 L540.2,224.1 L540.0,221.1 L539.6,218.1 L539.1,215.0 L538.4,211.9 L537.6,208.7 L536.6,205.5 L535.5,202.4 L534.2,199.2 L532.8,196.1 L531.3,193.0 L529.6,189.9 L527.8,186.9 L526.0,184.0 L524.0,181.2 L521.9,178.5 L519.8,175.9 L517.6,173.4 L515.3,171.1 L513.0,168.9 L510.6,166.8 L508.2,165.0 L505.8,163.3 L503.3,161.7 L500.9,160.4 L498.5,159.2 L496.1,158.3 L493.7,157.5 L491.3,157.0 L489.0,156.6 L486.8,156.5 L484.6,156.6 L482.6,156.8 L480.6,157.3 L478.7,158.0 L476.9,158.9Z" fill="#fff" stroke="#737373" stroke-width="0.8" /><ellipse cx="500.4" cy="206.5" rx="53.0" ry="30.6" transform="rotate(60.5 500.4 206.5)" fill="none" stroke="#737373" stroke-width="1.2" /><path d="M467.5,176.8 L466.2,177.7 L464.9,178.7 L463.8,179.9 L462.8,181.2 L461.8,182.6 L461.0,184.2 L460.3,185.9 L459.7,187.7 L459.3,189.6 L458.9,191.7 L458.7,193.8 L458.7,196.0 L458.7,198.3 L458.9,200.6 L459.2,203.0 L459.6,205.5 L460.1,207.9 L460.8,210.4 L461.6,212.9 L462.5,215.5 L463.5,218.0 L464.6,220.5 L465.8,222.9 L467.1,225.3 L468.5,227.7 L470.0,230.0 L471.6,232.2 L473.2,234.4 L474.9,236.4 L476.7,238.4 L478.5,240.3 L480.3,242.0 L482.2,243.6 L484.1,245.1 L486.0,246.5 L487.9,247.7 L489.9,248.7 L491.8,249.6 L493.7,250.4 L495.6,251.0 L497.5,251.4 L499.3,251.7 L501.0,251.8 L502.8,251.8 L504.4,251.5 L506.0,251.2 L507.5,250.6 L508.9,249.9 L521.1,243.0 L522.4,242.2 L523.7,241.1 L524.8,240.0 L525.8,238.7 L526.8,237.2 L527.6,235.7 L528.3,234.0 L528.9,232.1 L529.3,230.2 L529.7,228.2 L529.9,226.1 L529.9,223.9 L529.9,221.6 L529.7,219.2 L529.4,216.8 L529.0,214.4 L528.5,211.9 L527.8,209.4 L527.0,206.9 L526.1,204.4 L525.1,201.9 L524.0,199.4 L522.8,196.9 L521.5,194.5 L520.1,192.2 L518.6,189.9 L517.0,187.6 L515.4,185.5 L513.7,183.4 L511.9,181.5 L510.1,179.6 L508.3,177.9 L506.4,176.2 L504.5,174.8 L502.6,173.4 L500.7,172.2 L498.7,171.1 L496.8,170.2 L494.9,169.5 L493.0,168.9 L491.1,168.4 L489.3,168.1 L487.6,168.0 L485.8,168.1 L484.2,168.3 L482.6,168.7 L481.1,169.2 L479.7,169.9ZM507.2,246.9 L509.6,245.2 L511.5,242.9 L513.1,240.1 L514.3,236.9 L515.0,233.3 L515.3,229.3 L515.1,225.1 L514.4,220.6 L513.3,216.1 L511.8,211.5 L509.8,206.9 L507.5,202.4 L504.9,198.2 L502.0,194.1 L498.8,190.4 L495.5,187.1 L492.0,184.3 L488.5,182.0 L484.9,180.1 L481.4,178.9 L478.1,178.2 L474.9,178.2 L471.9,178.7 L469.2,179.9 L466.9,181.6 L464.9,183.9 L463.3,186.6 L462.1,189.8 L461.4,193.5 L461.1,197.4 L461.3,201.7 L462.0,206.1 L463.1,210.7 L464.6,215.3 L466.6,219.9 L468.9,224.3 L471.5,228.6 L474.5,232.6 L477.6,236.3 L481.0,239.6 L484.4,242.5 L488.0,244.8 L491.5,246.6 L495.0,247.9 L498.3,248.5 L501.5,248.6 L504.5,248.0 L507.2,246.9Z" fill="#fff" stroke="#737373" stroke-width="1.05" fill-rule="evenodd" stroke="none"/><path d="M467.5,176.8 L466.2,177.7 L464.9,178.7 L463.8,179.9 L462.8,181.2 L461.8,182.6 L461.0,184.2 L460.3,185.9 L459.7,187.7 L459.3,189.6 L458.9,191.7 L458.7,193.8 L458.7,196.0 L458.7,198.3 L458.9,200.6 L459.2,203.0 L459.6,205.5 L460.1,207.9 L460.8,210.4 L461.6,212.9 L462.5,215.5 L463.5,218.0 L464.6,220.5 L465.8,222.9 L467.1,225.3 L468.5,227.7 L470.0,230.0 L471.6,232.2 L473.2,234.4 L474.9,236.4 L476.7,238.4 L478.5,240.3 L480.3,242.0 L482.2,243.6 L484.1,245.1 L486.0,246.5 L487.9,247.7 L489.9,248.7 L491.8,249.6 L493.7,250.4 L495.6,251.0 L497.5,251.4 L499.3,251.7 L501.0,251.8 L502.8,251.8 L504.4,251.5 L506.0,251.2 L507.5,250.6 L508.9,249.9 L521.1,243.0 L522.4,242.2 L523.7,241.1 L524.8,240.0 L525.8,238.7 L526.8,237.2 L527.6,235.7 L528.3,234.0 L528.9,232.1 L529.3,230.2 L529.7,228.2 L529.9,226.1 L529.9,223.9 L529.9,221.6 L529.7,219.2 L529.4,216.8 L529.0,214.4 L528.5,211.9 L527.8,209.4 L527.0,206.9 L526.1,204.4 L525.1,201.9 L524.0,199.4 L522.8,196.9 L521.5,194.5 L520.1,192.2 L518.6,189.9 L517.0,187.6 L515.4,185.5 L513.7,183.4 L511.9,181.5 L510.1,179.6 L508.3,177.9 L506.4,176.2 L504.5,174.8 L502.6,173.4 L500.7,172.2 L498.7,171.1 L496.8,170.2 L494.9,169.5 L493.0,168.9 L491.1,168.4 L489.3,168.1 L487.6,168.0 L485.8,168.1 L484.2,168.3 L482.6,168.7 L481.1,169.2 L479.7,169.9Z" fill="none" stroke="#737373" stroke-width="1.0" /><ellipse cx="488.2" cy="213.4" rx="42.0" ry="24.2" transform="rotate(60.5 488.2 213.4)" fill="none" stroke="#737373" stroke-width="1.5" /><ellipse cx="488.2" cy="213.4" rx="40.5" ry="23.4" transform="rotate(60.5 488.2 213.4)" fill="none" stroke="#737373" stroke-width="0.7" /><ellipse cx="488.2" cy="213.4" rx="38.5" ry="22.2" transform="rotate(60.5 488.2 213.4)" fill="none" stroke="#737373" stroke-width="1.0" /><g clip-path="url(#c6)"><ellipse cx="513.4" cy="199.1" rx="36.0" ry="20.8" transform="rotate(60.5 513.4 199.1)" fill="none" stroke="#737373" stroke-width="0.9" /><ellipse cx="516.9" cy="197.1" rx="33.0" ry="19.0" transform="rotate(60.5 516.9 197.1)" fill="none" stroke="#737373" stroke-width="0.7" /><path d="M461.5,203.1 L488.5,189.5" fill="none" stroke="#737373" stroke-width="0.8" /><path d="M538.0,220.4 L533.9,216.9" fill="none" stroke="#737373" stroke-width="0.8" /></g><ellipse cx="508" cy="217.3" rx="1.8" ry="2.4" fill="#fff" stroke="#555" stroke-width="0.8"/><ellipse cx="514" cy="218.9" rx="1.8" ry="2.4" fill="#fff" stroke="#555" stroke-width="0.8"/><path d="M480.1,291.3 L508.0,220.0" fill="none" stroke="#9494c8" stroke-width="1.0" /><path d="M492.4,276.9 L514.0,218.0" fill="none" stroke="#9494c8" stroke-width="1.0" /><path d="M544.7,91.5 L528.5,168.0" fill="none" stroke="#9494c8" stroke-width="1.0" /><path d="M561.7,105.3 L561.2,158.0" fill="none" stroke="#9494c8" stroke-width="1.0" /><path d="M456.0,229.8 L487.0,212.1" fill="none" stroke="#8c8cc4" stroke-width="1.2" stroke-dasharray="26 5 4 5"/><circle cx="544.7" cy="87.8" r="3" fill="#777" stroke="#444" stroke-width="0.8"/><circle cx="544.7" cy="87.8" r="1.2" fill="#ddd"/><circle cx="561.7" cy="105.3" r="0.9" fill="#555"/><path d="M548.5,124.5 L553.0,120.0 L563.5,128.5 L559.5,133.5Z" fill="#fff" stroke="#737373" stroke-width="1.05" /><ellipse cx="480.5" cy="294" rx="3.6" ry="3.1" fill="#888" stroke="#444" stroke-width="0.8"/><ellipse cx="490.5" cy="280.6" rx="2.8" ry="3.2" fill="#f4f4f4" stroke="#555" stroke-width="0.8"/><path d="M466.8,392.6 L466.6,392.7 L466.4,392.9 L466.2,393.1 L466.0,393.3 L465.9,393.6 L465.7,393.8 L465.6,394.1 L465.5,394.4 L465.4,394.8 L465.4,395.1 L465.3,395.5 L465.3,395.9 L465.3,396.3 L465.4,396.7 L465.4,397.1 L465.5,397.5 L465.6,397.9 L465.7,398.3 L465.8,398.8 L466.0,399.2 L466.2,399.6 L466.3,400.1 L466.6,400.5 L466.8,400.9 L467.0,401.3 L467.3,401.7 L467.5,402.1 L467.8,402.4 L468.1,402.8 L468.4,403.1 L468.7,403.5 L469.0,403.8 L469.4,404.0 L469.7,404.3 L470.0,404.5 L470.3,404.7 L470.7,404.9 L471.0,405.1 L471.3,405.2 L471.7,405.3 L472.0,405.4 L472.3,405.4 L472.6,405.4 L472.9,405.4 L473.2,405.4 L473.4,405.3 L473.7,405.2 L473.9,405.1 L488.7,396.7 L489.0,396.6 L489.2,396.4 L489.4,396.2 L489.5,396.0 L489.7,395.7 L489.8,395.5 L490.0,395.2 L490.1,394.9 L490.1,394.5 L490.2,394.2 L490.2,393.8 L490.2,393.4 L490.2,393.1 L490.2,392.7 L490.2,392.2 L490.1,391.8 L490.0,391.4 L489.9,391.0 L489.7,390.5 L489.6,390.1 L489.4,389.7 L489.2,389.3 L489.0,388.8 L488.8,388.4 L488.6,388.0 L488.3,387.6 L488.0,387.2 L487.8,386.9 L487.5,386.5 L487.2,386.2 L486.9,385.9 L486.5,385.6 L486.2,385.3 L485.9,385.0 L485.6,384.8 L485.2,384.6 L484.9,384.4 L484.6,384.3 L484.2,384.1 L483.9,384.0 L483.6,383.9 L483.3,383.9 L483.0,383.9 L482.7,383.9 L482.4,383.9 L482.1,384.0 L481.9,384.1 L481.6,384.2Z" fill="#fff" stroke="#737373" stroke-width="1.05" /><ellipse cx="470.4" cy="398.8" rx="7.2" ry="4.2" transform="rotate(60.5 470.4 398.8)" fill="#fff" stroke="#737373" stroke-width="1.05" /><path d="M478.3,402.6 L478.8,402.3 L479.2,401.7 L479.5,401.0 L479.7,400.2 L479.8,399.4 L479.8,398.4 L479.6,397.4 L479.3,396.4 L478.9,395.3 L478.4,394.3 L477.8,393.4 L477.1,392.5 L476.3,391.7 L475.6,391.0 L474.8,390.5 L474.0,390.1 L473.2,389.9 L472.5,389.8 L471.8,389.9 L471.2,390.1" fill="none" stroke="#737373" stroke-width="1.05" /><path d="M479.2,402.2 L479.7,401.8 L480.1,401.2 L480.4,400.5 L480.6,399.8 L480.7,398.9 L480.6,397.9 L480.4,396.9 L480.1,395.9 L479.7,394.8 L479.2,393.8 L478.6,392.9 L478.0,392.0 L477.2,391.2 L476.4,390.6 L475.7,390.0 L474.9,389.6 L474.1,389.4 L473.4,389.3 L472.7,389.4 L472.1,389.6" fill="none" stroke="#737373" stroke-width="0.7" /><path d="M461.4,397.3 L461.3,397.4 L461.1,397.5 L460.9,397.7 L460.8,397.9 L460.7,398.1 L460.5,398.3 L460.4,398.5 L460.4,398.8 L460.3,399.0 L460.3,399.3 L460.2,399.6 L460.2,399.9 L460.2,400.2 L460.2,400.5 L460.3,400.9 L460.3,401.2 L460.4,401.5 L460.5,401.9 L460.6,402.2 L460.7,402.6 L460.9,402.9 L461.0,403.3 L461.2,403.6 L461.4,403.9 L461.6,404.3 L461.8,404.6 L462.0,404.9 L462.2,405.2 L462.5,405.5 L462.7,405.8 L463.0,406.0 L463.2,406.3 L463.5,406.5 L463.7,406.7 L464.0,406.9 L464.3,407.0 L464.5,407.2 L464.8,407.3 L465.1,407.4 L465.3,407.5 L465.6,407.6 L465.8,407.6 L466.1,407.6 L466.3,407.6 L466.5,407.6 L466.8,407.5 L467.0,407.4 L467.2,407.3 L474.1,403.4 L474.3,403.3 L474.5,403.1 L474.6,403.0 L474.8,402.8 L474.9,402.6 L475.0,402.4 L475.1,402.2 L475.2,401.9 L475.3,401.6 L475.3,401.4 L475.3,401.1 L475.3,400.8 L475.3,400.4 L475.3,400.1 L475.3,399.8 L475.2,399.5 L475.1,399.1 L475.0,398.8 L474.9,398.4 L474.8,398.1 L474.7,397.7 L474.5,397.4 L474.4,397.0 L474.2,396.7 L474.0,396.4 L473.8,396.1 L473.6,395.8 L473.3,395.5 L473.1,395.2 L472.9,394.9 L472.6,394.6 L472.4,394.4 L472.1,394.2 L471.8,394.0 L471.6,393.8 L471.3,393.6 L471.0,393.5 L470.8,393.3 L470.5,393.2 L470.2,393.2 L470.0,393.1 L469.7,393.1 L469.5,393.0 L469.3,393.1 L469.0,393.1 L468.8,393.1 L468.6,393.2 L468.4,393.3Z" fill="#fff" stroke="#737373" stroke-width="1.05" /><ellipse cx="464.3" cy="402.3" rx="5.8" ry="3.3" transform="rotate(60.5 464.3 402.3)" fill="#fff" stroke="#737373" stroke-width="1.05" /><path d="M435.9,426.9 L436.9,425.6 L447.3,419.7 L446.3,421.0Z" fill="#fff" stroke="none" stroke-width="0" /><path d="M429.8,413.2 L428.2,413.4 L438.7,407.5 L440.3,407.3Z" fill="#fff" stroke="none" stroke-width="0" /><path d="M440.6,429.8 L440.8,427.7 L451.2,421.8 L451.0,423.8Z" fill="#fff" stroke="#737373" stroke-width="1.05" /><path d="M430.0,408.8 L428.2,407.9 L438.6,402.0 L440.5,402.9Z" fill="#fff" stroke="#737373" stroke-width="1.05" /><path d="M444.9,430.0 L444.2,427.6 L454.7,421.7 L455.3,424.1Z" fill="#fff" stroke="#737373" stroke-width="1.05" /><path d="M431.9,405.9 L430.2,404.1 L440.6,398.2 L442.4,400.0Z" fill="#fff" stroke="#737373" stroke-width="1.05" /><path d="M444.7,427.4 L445.1,427.1 L455.5,421.2 L455.1,421.5Z" fill="#fff" stroke="none" stroke-width="0" /><path d="M432.8,405.4 L432.3,405.6 L442.8,399.7 L443.2,399.5Z" fill="#fff" stroke="none" stroke-width="0" /><path d="M446.8,428.9 L447.9,427.6 L458.3,421.6 L457.2,423.0Z" fill="#fff" stroke="none" stroke-width="0" /><path d="M433.8,402.8 L432.1,403.0 L442.6,397.1 L444.3,396.9Z" fill="#fff" stroke="none" stroke-width="0" /><path d="M447.9,427.6 L446.6,425.3 L457.0,419.3 L458.3,421.6Z" fill="#fff" stroke="#737373" stroke-width="1.05" /><path d="M435.1,405.1 L433.8,402.8 L444.3,396.9 L445.6,399.2Z" fill="#fff" stroke="#737373" stroke-width="1.05" /><path d="M446.6,425.3 L446.8,424.8 L457.2,418.8 L457.0,419.3Z" fill="#fff" stroke="none" stroke-width="0" /><path d="M435.7,405.2 L435.1,405.1 L445.6,399.2 L446.1,399.2Z" fill="#fff" stroke="none" stroke-width="0" /><path d="M436.2,405.3 L435.7,405.2 L446.1,399.2 L446.7,399.4Z" fill="#fff" stroke="none" stroke-width="0" /><path d="M446.8,424.8 L447.0,424.2 L457.4,418.3 L457.2,418.8Z" fill="#fff" stroke="none" stroke-width="0" /><path d="M448.8,425.1 L449.1,422.9 L459.5,417.0 L459.2,419.2Z" fill="#fff" stroke="#737373" stroke-width="1.05" /><path d="M438.4,404.1 L436.4,403.2 L446.9,397.3 L448.8,398.2Z" fill="#fff" stroke="#737373" stroke-width="1.05" /><path d="M439.6,406.9 L439.0,406.6 L449.4,400.6 L450.0,401.0Z" fill="#fff" stroke="none" stroke-width="0" /><path d="M447.3,421.2 L447.2,420.5 L457.7,414.6 L457.7,415.3Z" fill="#fff" stroke="none" stroke-width="0" /><path d="M449.1,422.9 L447.3,421.2 L457.7,415.3 L459.5,417.0Z" fill="#fff" stroke="#737373" stroke-width="1.05" /><path d="M439.0,406.6 L438.4,404.1 L448.8,398.2 L449.4,400.6Z" fill="#fff" stroke="#737373" stroke-width="1.05" /><path d="M440.1,407.4 L439.6,406.9 L450.0,401.0 L450.6,401.5Z" fill="#fff" stroke="none" stroke-width="0" /><path d="M447.2,420.5 L447.2,419.8 L457.6,413.9 L457.7,414.6Z" fill="#fff" stroke="none" stroke-width="0" /><path d="M443.2,410.6 L442.8,410.0 L453.2,404.1 L453.7,404.7Z" fill="#fff" stroke="none" stroke-width="0" /><path d="M446.3,416.2 L446.0,415.5 L456.4,409.5 L456.7,410.3Z" fill="#fff" stroke="none" stroke-width="0" /><path d="M443.7,411.3 L443.2,410.6 L453.7,404.7 L454.2,405.3Z" fill="#fff" stroke="none" stroke-width="0" /><path d="M446.0,415.5 L445.7,414.7 L456.1,408.8 L456.4,409.5Z" fill="#fff" stroke="none" stroke-width="0" /><path d="M442.8,410.0 L443.0,408.0 L453.4,402.1 L453.2,404.1Z" fill="#fff" stroke="#737373" stroke-width="1.05" /><path d="M448.1,417.0 L446.3,416.2 L456.7,410.3 L458.6,411.1Z" fill="#fff" stroke="#737373" stroke-width="1.05" /><path d="M448.8,419.6 L448.1,417.0 L458.6,411.1 L459.2,413.7Z" fill="#fff" stroke="#737373" stroke-width="1.05" /><path d="M443.0,408.0 L441.1,406.1 L451.6,400.2 L453.4,402.1Z" fill="#fff" stroke="#737373" stroke-width="1.05" /><path d="M445.3,411.0 L443.7,411.3 L454.2,405.3 L455.7,405.1Z" fill="#fff" stroke="none" stroke-width="0" /><path d="M445.7,414.7 L446.7,413.5 L457.1,407.6 L456.1,408.8Z" fill="#fff" stroke="none" stroke-width="0" /><path d="M446.7,413.5 L445.3,411.0 L455.7,405.1 L457.1,407.6Z" fill="#fff" stroke="#737373" stroke-width="1.05" /><path d="M444.7,427.4 L445.1,427.1 L446.8,428.9 L447.9,427.6 L446.6,425.3 L446.8,424.8 L447.0,424.2 L448.8,425.1 L449.1,422.9 L447.3,421.2 L447.2,420.5 L447.2,419.8 L448.8,419.6 L448.1,417.0 L446.3,416.2 L446.0,415.5 L445.7,414.7 L446.7,413.5 L445.3,411.0 L443.7,411.3 L443.2,410.6 L442.8,410.0 L443.0,408.0 L441.1,406.1 L440.1,407.4 L439.6,406.9 L439.0,406.6 L438.4,404.1 L436.4,403.2 L436.2,405.3 L435.7,405.2 L435.1,405.1 L433.8,402.8 L432.1,403.0 L432.8,405.4 L432.3,405.6 L431.9,405.9 L430.2,404.1 L429.1,405.4 L430.4,407.7 L430.2,408.2 L430.0,408.8 L428.2,407.9 L427.9,410.1 L429.7,411.8 L429.8,412.5 L429.8,413.2 L428.2,413.4 L428.9,416.0 L430.7,416.8 L431.0,417.5 L431.3,418.3 L430.3,419.5 L431.7,422.0 L433.3,421.7 L433.8,422.4 L434.2,423.0 L434.0,425.0 L435.9,426.9 L436.9,425.6 L437.4,426.1 L438.0,426.4 L438.6,428.9 L440.6,429.8 L440.8,427.7 L441.3,427.8 L441.9,427.9 L443.2,430.2 L444.9,430.0 L444.2,427.6Z" fill="#fff" stroke="#737373" stroke-width="1.05" /><ellipse cx="438.5" cy="416.5" rx="9.8" ry="5.7" transform="rotate(60.5 438.5 416.5)" fill="#fff" stroke="#737373" stroke-width="1.05" /><path d="M416.3,416.9 L416.0,417.1 L415.7,417.3 L415.4,417.6 L415.1,417.9 L414.9,418.3 L414.7,418.7 L414.5,419.1 L414.4,419.6 L414.3,420.1 L414.2,420.6 L414.1,421.1 L414.1,421.7 L414.1,422.2 L414.2,422.8 L414.2,423.4 L414.3,424.0 L414.5,424.6 L414.6,425.3 L414.8,425.9 L415.1,426.5 L415.3,427.1 L415.6,427.8 L415.9,428.4 L416.2,429.0 L416.6,429.6 L416.9,430.2 L417.3,430.7 L417.7,431.2 L418.2,431.8 L418.6,432.3 L419.1,432.7 L419.5,433.2 L420.0,433.6 L420.5,433.9 L421.0,434.3 L421.4,434.6 L421.9,434.8 L422.4,435.1 L422.9,435.3 L423.3,435.4 L423.8,435.5 L424.3,435.6 L424.7,435.6 L425.1,435.6 L425.5,435.5 L425.9,435.4 L426.3,435.3 L426.7,435.1 L428.0,434.4 L428.3,434.2 L428.6,433.9 L428.9,433.6 L429.2,433.3 L429.4,433.0 L429.6,432.6 L429.8,432.1 L429.9,431.7 L430.0,431.2 L430.1,430.7 L430.2,430.2 L430.2,429.6 L430.2,429.0 L430.1,428.5 L430.1,427.9 L430.0,427.2 L429.8,426.6 L429.7,426.0 L429.5,425.4 L429.2,424.7 L429.0,424.1 L428.7,423.5 L428.4,422.9 L428.1,422.3 L427.7,421.7 L427.4,421.1 L427.0,420.5 L426.6,420.0 L426.1,419.5 L425.7,419.0 L425.2,418.5 L424.8,418.1 L424.3,417.7 L423.8,417.3 L423.4,417.0 L422.9,416.7 L422.4,416.4 L421.9,416.2 L421.4,416.0 L421.0,415.9 L420.5,415.7 L420.0,415.7 L419.6,415.7 L419.2,415.7 L418.8,415.7 L418.4,415.8 L418.0,415.9 L417.6,416.1ZM425.6,433.2 L426.1,432.9 L426.5,432.4 L426.9,431.8 L427.1,431.1 L427.3,430.3 L427.3,429.4 L427.3,428.5 L427.2,427.6 L426.9,426.6 L426.6,425.6 L426.2,424.6 L425.7,423.6 L425.1,422.7 L424.5,421.9 L423.8,421.1 L423.1,420.3 L422.3,419.7 L421.6,419.2 L420.8,418.8 L420.0,418.6 L419.3,418.4 L418.6,418.4 L418.0,418.5 L417.4,418.8 L416.9,419.1 L416.5,419.6 L416.1,420.2 L415.9,420.9 L415.7,421.7 L415.7,422.6 L415.7,423.5 L415.8,424.4 L416.1,425.4 L416.4,426.4 L416.8,427.4 L417.3,428.4 L417.9,429.3 L418.5,430.1 L419.2,430.9 L419.9,431.7 L420.7,432.3 L421.4,432.8 L422.2,433.2 L423.0,433.4 L423.7,433.6 L424.4,433.6 L425.0,433.5 L425.6,433.2Z" fill="#fff" stroke="#737373" stroke-width="0" fill-rule="evenodd" stroke="none"/><path d="M416.3,416.9 L416.0,417.1 L415.7,417.3 L415.4,417.6 L415.1,417.9 L414.9,418.3 L414.7,418.7 L414.5,419.1 L414.4,419.6 L414.3,420.1 L414.2,420.6 L414.1,421.1 L414.1,421.7 L414.1,422.2 L414.2,422.8 L414.2,423.4 L414.3,424.0 L414.5,424.6 L414.6,425.3 L414.8,425.9 L415.1,426.5 L415.3,427.1 L415.6,427.8 L415.9,428.4 L416.2,429.0 L416.6,429.6 L416.9,430.2 L417.3,430.7 L417.7,431.2 L418.2,431.8 L418.6,432.3 L419.1,432.7 L419.5,433.2 L420.0,433.6 L420.5,433.9 L421.0,434.3 L421.4,434.6 L421.9,434.8 L422.4,435.1 L422.9,435.3 L423.3,435.4 L423.8,435.5 L424.3,435.6 L424.7,435.6 L425.1,435.6 L425.5,435.5 L425.9,435.4 L426.3,435.3 L426.7,435.1 L428.0,434.4 L428.3,434.2 L428.6,433.9 L428.9,433.6 L429.2,433.3 L429.4,433.0 L429.6,432.6 L429.8,432.1 L429.9,431.7 L430.0,431.2 L430.1,430.7 L430.2,430.2 L430.2,429.6 L430.2,429.0 L430.1,428.5 L430.1,427.9 L430.0,427.2 L429.8,426.6 L429.7,426.0 L429.5,425.4 L429.2,424.7 L429.0,424.1 L428.7,423.5 L428.4,422.9 L428.1,422.3 L427.7,421.7 L427.4,421.1 L427.0,420.5 L426.6,420.0 L426.1,419.5 L425.7,419.0 L425.2,418.5 L424.8,418.1 L424.3,417.7 L423.8,417.3 L423.4,417.0 L422.9,416.7 L422.4,416.4 L421.9,416.2 L421.4,416.0 L421.0,415.9 L420.5,415.7 L420.0,415.7 L419.6,415.7 L419.2,415.7 L418.8,415.7 L418.4,415.8 L418.0,415.9 L417.6,416.1Z" fill="none" stroke="#737373" stroke-width="1.05" /><ellipse cx="421.5" cy="426.0" rx="10.5" ry="6.1" transform="rotate(60.5 421.5 426.0)" fill="none" stroke="#737373" stroke-width="1.05" /><ellipse cx="421.5" cy="426.0" rx="8.3" ry="4.8" transform="rotate(60.5 421.5 426.0)" fill="none" stroke="#737373" stroke-width="1.05" /><g clip-path="url(#c7)"><ellipse cx="422.8" cy="425.3" rx="8.3" ry="4.8" transform="rotate(60.5 422.8 425.3)" fill="none" stroke="#737373" stroke-width="1.05" /></g><path d="M393.7,493.1 L392.4,493.9 L391.3,494.8 L390.2,495.9 L389.3,497.1 L388.4,498.4 L387.6,499.9 L387.0,501.5 L386.5,503.2 L386.0,505.0 L385.7,506.8 L385.5,508.8 L385.5,510.9 L385.5,513.0 L385.7,515.1 L385.9,517.4 L386.3,519.6 L386.8,521.9 L387.5,524.3 L388.2,526.6 L389.0,528.9 L389.9,531.3 L391.0,533.6 L392.1,535.9 L393.3,538.1 L394.6,540.3 L396.0,542.4 L397.4,544.5 L399.0,546.5 L400.5,548.4 L402.2,550.2 L403.8,552.0 L405.6,553.6 L407.3,555.1 L409.1,556.5 L410.9,557.7 L412.7,558.8 L414.4,559.8 L416.2,560.7 L418.0,561.4 L419.8,561.9 L421.5,562.3 L423.2,562.6 L424.8,562.7 L426.4,562.6 L427.9,562.4 L429.4,562.1 L430.8,561.6 L432.1,560.9 L448.7,551.6 L449.9,550.8 L451.0,549.8 L452.1,548.7 L453.1,547.5 L453.9,546.2 L454.7,544.7 L455.3,543.2 L455.9,541.5 L456.3,539.7 L456.6,537.8 L456.8,535.8 L456.9,533.8 L456.8,531.7 L456.7,529.5 L456.4,527.3 L456.0,525.0 L455.5,522.7 L454.9,520.4 L454.1,518.0 L453.3,515.7 L452.4,513.4 L451.3,511.1 L450.2,508.8 L449.0,506.5 L447.7,504.3 L446.3,502.2 L444.9,500.1 L443.4,498.1 L441.8,496.2 L440.2,494.4 L438.5,492.7 L436.8,491.1 L435.0,489.6 L433.3,488.2 L431.5,486.9 L429.7,485.8 L427.9,484.8 L426.1,484.0 L424.3,483.3 L422.6,482.7 L420.8,482.3 L419.2,482.0 L417.5,481.9 L415.9,482.0 L414.4,482.2 L412.9,482.5 L411.5,483.1 L410.2,483.7Z" fill="#fff" stroke="#737373" stroke-width="1.05" /><ellipse cx="412.9" cy="527.0" rx="39.0" ry="22.5" transform="rotate(60.5 412.9 527.0)" fill="#fff" stroke="#737373" stroke-width="1.05" /><ellipse cx="412.9" cy="527.0" rx="35.5" ry="20.5" transform="rotate(60.5 412.9 527.0)" fill="none" stroke="#737373" stroke-width="0.7" /><path d="M433.5,491.9 L431.6,490.5 L429.5,489.4 L427.4,488.6 L425.3,488.1 L423.3,488.0 L421.4,488.1 L419.9,488.4 L418.6,489.0 L417.6,489.7 L417.1,490.5 L417.0,491.5 L417.3,492.7 L418.0,493.9 L419.1,495.3 L420.5,496.8 L422.2,498.3 L424.0,499.9 L426.0,501.3 L428.0,502.6 L430.0,503.7 L431.8,504.5 L433.6,504.9 L435.1,504.8 L436.3,504.4 L437.3,503.6 L437.9,502.4 L438.1,500.9 L438.0,499.2 L437.4,497.3 L436.4,495.4 L435.1,493.6Z" fill="#fff" stroke="#737373" stroke-width="1.05" /><path d="M432.2,495.7 L430.9,494.7 L429.4,493.9 L427.9,493.3 L426.4,493.0 L424.9,492.8 L423.6,492.9 L422.4,493.2 L421.4,493.6 L420.7,494.1 L420.2,494.8 L420.1,495.6 L420.2,496.5 L420.7,497.4 L421.4,498.4 L422.3,499.5 L423.5,500.6 L424.8,501.7 L426.2,502.6 L427.7,503.5 L429.1,504.2 L430.5,504.6 L431.8,504.8 L432.9,504.8 L433.9,504.4 L434.6,503.8 L435.1,503.0 L435.3,501.9 L435.2,500.7 L434.9,499.4 L434.2,498.1 L433.3,496.8Z" fill="#f6f6f6" stroke="#737373" stroke-width="0.7" /><path d="M453.6,527.4 L453.0,525.2 L452.1,523.1 L451.0,521.3 L449.7,519.8 L448.3,518.8 L446.9,518.3 L445.5,518.2 L444.3,518.6 L443.3,519.4 L442.5,520.7 L442.0,522.4 L441.7,524.4 L441.6,526.6 L441.7,529.0 L441.9,531.4 L442.3,533.8 L442.7,536.0 L443.3,538.0 L443.9,539.7 L444.6,540.9 L445.4,541.8 L446.3,542.2 L447.3,542.2 L448.4,541.7 L449.5,540.9 L450.7,539.7 L451.7,538.2 L452.6,536.4 L453.3,534.3 L453.7,532.1 L453.8,529.8Z" fill="#fff" stroke="#737373" stroke-width="1.05" /><path d="M449.7,526.6 L449.3,525.0 L448.7,523.6 L447.9,522.4 L447.0,521.4 L446.0,520.7 L445.0,520.4 L444.0,520.3 L443.1,520.7 L442.3,521.3 L441.6,522.3 L441.1,523.5 L440.8,524.9 L440.7,526.5 L440.7,528.2 L440.8,529.9 L441.0,531.5 L441.3,533.1 L441.8,534.4 L442.3,535.6 L442.9,536.5 L443.5,537.0 L444.3,537.3 L445.1,537.3 L445.9,536.9 L446.8,536.3 L447.6,535.4 L448.4,534.3 L449.0,533.0 L449.5,531.5 L449.8,529.9 L449.9,528.2Z" fill="#f6f6f6" stroke="#737373" stroke-width="0.7" /><ellipse cx="432.0" cy="541.3" rx="5" ry="3.4" transform="rotate(60.5 432.0 541.3)" fill="#fff" stroke="#737373" stroke-width="1.05"/><ellipse cx="415.7" cy="506.3" rx="5" ry="3.4" transform="rotate(60.5 415.7 506.3)" fill="#fff" stroke="#737373" stroke-width="1.05"/><ellipse cx="393.8" cy="512.7" rx="5" ry="3.4" transform="rotate(60.5 393.8 512.7)" fill="#fff" stroke="#737373" stroke-width="1.05"/><ellipse cx="410.1" cy="547.7" rx="5" ry="3.4" transform="rotate(60.5 410.1 547.7)" fill="#fff" stroke="#737373" stroke-width="1.05"/><ellipse cx="409.4" cy="529.5" rx="19.0" ry="11.0" transform="rotate(60.5 409.4 529.5)" fill="#fff" stroke="#737373" stroke-width="1.05" /><ellipse cx="409.4" cy="529.5" rx="16.5" ry="9.5" transform="rotate(60.5 409.4 529.5)" fill="#fff" stroke="#737373" stroke-width="0.8" /><g clip-path="url(#c8)"><path d="M404.9,514.4 L421.4,505.1" fill="none" stroke="#737373" stroke-width="1.0" /><path d="M403.0,514.5 L419.5,505.1" fill="none" stroke="#737373" stroke-width="1.0" /><path d="M401.3,515.1 L417.9,505.7" fill="none" stroke="#737373" stroke-width="1.0" /><path d="M399.9,516.2 L416.5,506.8" fill="none" stroke="#737373" stroke-width="1.0" /><path d="M398.8,517.8 L415.4,508.4" fill="none" stroke="#737373" stroke-width="1.0" /><path d="M398.1,519.7 L414.7,510.3" fill="none" stroke="#737373" stroke-width="1.0" /><path d="M397.8,522.0 L414.3,512.6" fill="none" stroke="#737373" stroke-width="1.0" /><path d="M397.9,524.6 L414.4,515.2" fill="none" stroke="#737373" stroke-width="1.0" /><path d="M398.4,527.3 L414.9,517.9" fill="none" stroke="#737373" stroke-width="1.0" /><path d="M399.2,530.1 L415.7,520.7" fill="none" stroke="#737373" stroke-width="1.0" /><path d="M400.4,532.8 L416.9,523.5" fill="none" stroke="#737373" stroke-width="1.0" /><path d="M401.9,535.5 L418.4,526.1" fill="none" stroke="#737373" stroke-width="1.0" /><path d="M403.7,538.0 L420.2,528.6" fill="none" stroke="#737373" stroke-width="1.0" /><path d="M405.6,540.1 L422.2,530.8" fill="none" stroke="#737373" stroke-width="1.0" /><path d="M407.7,541.9 L424.3,532.6" fill="none" stroke="#737373" stroke-width="1.0" /><path d="M409.9,543.3 L426.4,533.9" fill="none" stroke="#737373" stroke-width="1.0" /><path d="M412.0,544.2 L428.5,534.8" fill="none" stroke="#737373" stroke-width="1.0" /><path d="M414.1,544.6 L430.6,535.2" fill="none" stroke="#737373" stroke-width="1.0" /><path d="M415.9,544.5 L432.5,535.1" fill="none" stroke="#737373" stroke-width="1.0" /><path d="M417.6,543.8 L434.1,534.5" fill="none" stroke="#737373" stroke-width="1.0" /><path d="M419.0,542.7 L435.5,533.3" fill="none" stroke="#737373" stroke-width="1.0" /><path d="M420.0,541.1 L436.5,531.7" fill="none" stroke="#737373" stroke-width="1.0" /><ellipse cx="425.9" cy="520.1" rx="16.5" ry="9.5" transform="rotate(60.5 425.9 520.1)" fill="none" stroke="#737373" stroke-width="0.9" /></g><path d="M393.0,541.5 L409.0,532.5" fill="none" stroke="#8c8cc4" stroke-width="1.2" /><path d="M463.8,504.6 L464.9,504.0 L484.0,493.1 L483.0,493.8Z" fill="#fff" stroke="none" stroke-width="0" /><path d="M460.2,495.6 L459.1,496.2 L478.2,485.4 L479.3,484.8Z" fill="#fff" stroke="none" stroke-width="0" /><path d="M468.5,508.2 L468.9,506.7 L488.0,495.8 L487.6,497.3Z" fill="#fff" stroke="#737373" stroke-width="1.05" /><path d="M459.9,490.8 L458.4,490.4 L477.6,479.6 L479.1,480.0Z" fill="#fff" stroke="#737373" stroke-width="1.05" /><path d="M472.9,508.7 L472.5,506.8 L491.7,495.9 L492.0,497.9Z" fill="#fff" stroke="#737373" stroke-width="1.05" /><path d="M461.7,487.7 L460.2,486.3 L479.4,475.5 L480.8,476.8Z" fill="#fff" stroke="#737373" stroke-width="1.05" /><path d="M472.9,506.6 L473.3,506.3 L492.4,495.5 L492.1,495.7Z" fill="#fff" stroke="none" stroke-width="0" /><path d="M462.5,487.2 L462.1,487.4 L481.2,476.6 L481.6,476.4Z" fill="#fff" stroke="none" stroke-width="0" /><path d="M474.8,507.7 L475.9,506.1 L495.0,495.3 L493.9,496.8Z" fill="#fff" stroke="none" stroke-width="0" /><path d="M464.0,485.1 L462.1,485.3 L481.2,474.4 L483.1,474.3Z" fill="#fff" stroke="none" stroke-width="0" /><path d="M475.9,506.1 L474.8,504.2 L493.9,493.4 L495.0,495.3Z" fill="#fff" stroke="#737373" stroke-width="1.05" /><path d="M465.0,487.0 L464.0,485.1 L483.1,474.3 L484.2,476.2Z" fill="#fff" stroke="#737373" stroke-width="1.05" /><path d="M474.8,504.2 L475.0,503.7 L494.1,492.9 L493.9,493.4Z" fill="#fff" stroke="none" stroke-width="0" /><path d="M465.6,487.1 L465.0,487.0 L484.2,476.2 L484.7,476.3Z" fill="#fff" stroke="none" stroke-width="0" /><path d="M475.0,503.7 L475.1,503.2 L494.2,492.3 L494.1,492.9Z" fill="#fff" stroke="none" stroke-width="0" /><path d="M466.1,487.3 L465.6,487.1 L484.7,476.3 L485.2,476.5Z" fill="#fff" stroke="none" stroke-width="0" /><path d="M476.6,503.6 L476.6,501.1 L495.7,490.3 L495.7,492.7Z" fill="#fff" stroke="#737373" stroke-width="1.05" /><path d="M468.7,487.1 L466.5,485.8 L485.6,475.0 L487.8,476.2Z" fill="#fff" stroke="#737373" stroke-width="1.05" /><path d="M469.6,489.5 L469.0,489.0 L488.2,478.2 L488.7,478.7Z" fill="#fff" stroke="none" stroke-width="0" /><path d="M475.1,499.8 L475.0,499.1 L494.1,488.2 L494.3,488.9Z" fill="#fff" stroke="none" stroke-width="0" /><path d="M476.6,501.1 L475.1,499.8 L494.3,488.9 L495.7,490.3Z" fill="#fff" stroke="#737373" stroke-width="1.05" /><path d="M469.0,489.0 L468.7,487.1 L487.8,476.2 L488.2,478.2Z" fill="#fff" stroke="#737373" stroke-width="1.05" /><path d="M470.1,490.0 L469.6,489.5 L488.7,478.7 L489.2,479.2Z" fill="#fff" stroke="none" stroke-width="0" /><path d="M475.0,499.1 L474.8,498.4 L494.0,487.5 L494.1,488.2Z" fill="#fff" stroke="none" stroke-width="0" /><path d="M473.0,493.9 L472.6,493.2 L491.8,482.3 L492.2,483.0Z" fill="#fff" stroke="none" stroke-width="0" /><path d="M473.4,494.6 L473.0,493.9 L492.2,483.0 L492.5,483.7Z" fill="#fff" stroke="none" stroke-width="0" /><path d="M472.6,493.2 L473.0,491.7 L492.2,480.9 L491.8,482.3Z" fill="#fff" stroke="#737373" stroke-width="1.05" /><path d="M474.9,495.0 L473.4,494.6 L492.5,483.7 L494.0,484.1Z" fill="#fff" stroke="#737373" stroke-width="1.05" /><path d="M473.0,491.7 L471.2,489.4 L490.3,478.5 L492.2,480.9Z" fill="#fff" stroke="#737373" stroke-width="1.05" /><path d="M475.9,497.8 L474.9,495.0 L494.0,484.1 L495.1,486.9Z" fill="#fff" stroke="#737373" stroke-width="1.05" /><path d="M472.9,506.6 L473.3,506.3 L474.8,507.7 L475.9,506.1 L474.8,504.2 L475.0,503.7 L475.1,503.2 L476.6,503.6 L476.6,501.1 L475.1,499.8 L475.0,499.1 L474.8,498.4 L475.9,497.8 L474.9,495.0 L473.4,494.6 L473.0,493.9 L472.6,493.2 L473.0,491.7 L471.2,489.4 L470.1,490.0 L469.6,489.5 L469.0,489.0 L468.7,487.1 L466.5,485.8 L466.1,487.3 L465.6,487.1 L465.0,487.0 L464.0,485.1 L462.1,485.3 L462.5,487.2 L462.1,487.4 L461.7,487.7 L460.2,486.3 L459.1,487.9 L460.2,489.8 L460.0,490.3 L459.9,490.8 L458.4,490.4 L458.4,492.9 L459.9,494.2 L460.0,494.9 L460.2,495.6 L459.1,496.2 L460.1,499.0 L461.6,499.4 L462.0,500.1 L462.4,500.8 L462.0,502.3 L463.8,504.6 L464.9,504.0 L465.4,504.5 L466.0,505.0 L466.3,506.9 L468.5,508.2 L468.9,506.7 L469.4,506.9 L470.0,507.0 L471.0,508.9 L472.9,508.7 L472.5,506.8Z" fill="#fff" stroke="#737373" stroke-width="1.05" /><ellipse cx="467.5" cy="497.0" rx="7.0" ry="4.0" transform="rotate(60.5 467.5 497.0)" fill="#fff" stroke="#737373" stroke-width="1.05" /><path d="M516.8,435.1 L516.2,435.5 L515.7,436.0 L499.4,457.8 L499.0,458.4 L498.6,459.1 L498.4,459.9 L498.2,460.7 L498.1,461.7 L498.1,462.6 L498.2,463.7 L498.3,464.7 L498.6,465.8 L498.9,466.9 L499.3,468.0 L499.8,469.1 L500.4,470.2 L501.0,471.2 L501.7,472.2 L502.4,473.1 L503.2,474.0 L504.0,474.7 L504.8,475.4 L505.7,476.0 L506.5,476.5 L538.8,495.4 L539.6,495.8 L540.5,496.1 L541.3,496.2 L542.1,496.3 L542.8,496.2 L543.5,496.1 L544.1,495.8 L544.7,495.4 L545.2,494.9 L545.6,494.3 L546.0,493.6 L546.2,492.8 L546.4,491.9 L546.5,491.0 L546.5,490.0 L546.5,489.0 L546.3,487.9 L546.0,486.8 L545.7,485.7 L545.3,484.6 L529.3,444.0 L528.8,442.9 L528.2,441.8 L527.6,440.8 L526.9,439.8 L526.2,438.9 L525.4,438.0 L524.6,437.2 L523.8,436.5 L522.9,435.9 L522.1,435.4 L521.3,435.1 L520.4,434.8 L519.6,434.6 L518.8,434.5 L518.1,434.6 L517.4,434.8Z" fill="#fff" stroke="#737373" stroke-width="1.05" /><path d="M512.4,437.5 L511.9,437.9 L511.3,438.4 L495.1,460.3 L494.6,460.9 L494.3,461.6 L494.0,462.3 L493.8,463.2 L493.7,464.1 L493.7,465.1 L493.8,466.1 L494.0,467.2 L494.2,468.3 L494.6,469.4 L495.0,470.5 L495.5,471.6 L496.0,472.6 L496.7,473.7 L497.3,474.6 L498.1,475.6 L498.8,476.4 L499.6,477.2 L500.5,477.9 L501.3,478.5 L502.2,479.0 L534.5,497.8 L535.3,498.2 L536.1,498.5 L536.9,498.7 L537.7,498.8 L538.4,498.7 L539.1,498.5 L539.8,498.2 L540.3,497.8 L540.8,497.3 L541.3,496.7 L541.6,496.0 L541.9,495.3 L542.1,494.4 L542.2,493.5 L542.2,492.5 L542.1,491.5 L541.9,490.4 L541.7,489.3 L541.3,488.2 L540.9,487.1 L524.9,446.4 L524.4,445.3 L523.9,444.3 L523.2,443.2 L522.6,442.3 L521.8,441.3 L521.1,440.5 L520.3,439.7 L519.4,439.0 L518.6,438.4 L517.7,437.9 L516.9,437.5 L516.1,437.2 L515.3,437.1 L514.5,437.0 L513.8,437.1 L513.1,437.2Z" fill="#fff" stroke="#737373" stroke-width="1.05" /><ellipse cx="534.1" cy="488.2" rx="5" ry="3.4" transform="rotate(60.5 534.1 488.2)" fill="#fff" stroke="#737373" stroke-width="1.05"/><ellipse cx="518.1" cy="447.5" rx="5" ry="3.4" transform="rotate(60.5 518.1 447.5)" fill="#fff" stroke="#737373" stroke-width="1.05"/><ellipse cx="501.8" cy="469.4" rx="5" ry="3.4" transform="rotate(60.5 501.8 469.4)" fill="#fff" stroke="#737373" stroke-width="1.05"/><ellipse cx="518.0" cy="468.8" rx="15.0" ry="8.7" transform="rotate(60.5 518.0 468.8)" fill="none" stroke="#737373" stroke-width="0.9" /><path d="M516.0,476.8 L516.7,476.1 L516.8,476.1 L516.1,476.8Z" fill="#fff" stroke="none" stroke-width="0" /><path d="M511.1,466.1 L510.1,466.4 L510.2,466.3 L511.1,466.1Z" fill="#fff" stroke="none" stroke-width="0" /><path d="M519.6,479.0 L519.8,477.8 L519.9,477.7 L519.7,478.9Z" fill="#fff" stroke="#737373" stroke-width="0.7" /><path d="M511.2,462.6 L510.1,462.2 L510.2,462.1 L511.3,462.5Z" fill="#fff" stroke="#737373" stroke-width="0.7" /><path d="M522.9,479.1 L522.6,477.7 L522.7,477.6 L523.0,479.1Z" fill="#fff" stroke="#737373" stroke-width="0.7" /><path d="M512.8,460.3 L511.7,459.3 L511.7,459.2 L512.9,460.2Z" fill="#fff" stroke="#737373" stroke-width="0.7" /><path d="M522.9,477.5 L523.2,477.3 L523.3,477.3 L523.0,477.5Z" fill="#fff" stroke="none" stroke-width="0" /><path d="M513.4,459.9 L513.1,460.1 L513.2,460.1 L513.5,459.9Z" fill="#fff" stroke="none" stroke-width="0" /><path d="M524.3,478.3 L525.2,477.2 L525.3,477.2 L524.4,478.3Z" fill="#fff" stroke="none" stroke-width="0" /><path d="M514.5,458.3 L513.1,458.5 L513.2,458.4 L514.6,458.2Z" fill="#fff" stroke="none" stroke-width="0" /><path d="M515.3,459.7 L514.5,458.3 L514.6,458.2 L515.4,459.6Z" fill="#fff" stroke="#737373" stroke-width="0.7" /><path d="M525.2,477.2 L524.5,475.8 L524.5,475.7 L525.3,477.2Z" fill="#fff" stroke="#737373" stroke-width="0.7" /><path d="M515.7,459.7 L515.3,459.7 L515.4,459.6 L515.8,459.7Z" fill="#fff" stroke="none" stroke-width="0" /><path d="M524.5,475.8 L524.6,475.4 L524.7,475.4 L524.5,475.7Z" fill="#fff" stroke="none" stroke-width="0" /><path d="M524.6,475.4 L524.8,475.0 L524.8,475.0 L524.7,475.4Z" fill="#fff" stroke="none" stroke-width="0" /><path d="M516.2,459.8 L515.7,459.7 L515.8,459.7 L516.2,459.8Z" fill="#fff" stroke="none" stroke-width="0" /><path d="M525.9,475.4 L526.1,473.7 L526.2,473.6 L526.0,475.4Z" fill="#fff" stroke="#737373" stroke-width="0.7" /><path d="M518.0,459.4 L516.4,458.6 L516.4,458.6 L518.1,459.3Z" fill="#fff" stroke="#737373" stroke-width="0.7" /><path d="M518.9,461.2 L518.4,460.9 L518.5,460.8 L518.9,461.1Z" fill="#fff" stroke="none" stroke-width="0" /><path d="M525.0,472.5 L525.0,472.0 L525.1,472.0 L525.1,472.5Z" fill="#fff" stroke="none" stroke-width="0" /><path d="M526.1,473.7 L525.0,472.5 L525.1,472.5 L526.2,473.6Z" fill="#fff" stroke="#737373" stroke-width="0.7" /><path d="M518.4,460.9 L518.0,459.4 L518.1,459.3 L518.5,460.8Z" fill="#fff" stroke="#737373" stroke-width="0.7" /><path d="M519.3,461.5 L518.9,461.2 L518.9,461.1 L519.4,461.4Z" fill="#fff" stroke="none" stroke-width="0" /><path d="M525.0,472.0 L524.9,471.5 L525.0,471.4 L525.1,472.0Z" fill="#fff" stroke="none" stroke-width="0" /><path d="M521.8,464.1 L521.4,463.6 L521.5,463.6 L521.9,464.0Z" fill="#fff" stroke="none" stroke-width="0" /><path d="M524.2,468.5 L524.0,468.0 L524.1,467.9 L524.3,468.5Z" fill="#fff" stroke="none" stroke-width="0" /><path d="M522.2,464.6 L521.8,464.1 L521.9,464.0 L522.2,464.5Z" fill="#fff" stroke="none" stroke-width="0" /><path d="M524.0,468.0 L523.8,467.4 L523.8,467.4 L524.1,467.9Z" fill="#fff" stroke="none" stroke-width="0" /><path d="M521.4,463.6 L521.5,462.3 L521.6,462.3 L521.5,463.6Z" fill="#fff" stroke="#737373" stroke-width="0.7" /><path d="M525.4,469.1 L524.2,468.5 L524.3,468.5 L525.4,469.1Z" fill="#fff" stroke="#737373" stroke-width="0.7" /><path d="M525.9,471.2 L525.4,469.1 L525.4,469.1 L526.0,471.2Z" fill="#fff" stroke="#737373" stroke-width="0.7" /><path d="M521.5,462.3 L520.0,460.8 L520.0,460.7 L521.6,462.3Z" fill="#fff" stroke="#737373" stroke-width="0.7" /><path d="M523.2,464.5 L522.2,464.6 L522.2,464.5 L523.3,464.5Z" fill="#fff" stroke="none" stroke-width="0" /><path d="M523.8,467.4 L524.3,466.6 L524.4,466.5 L523.8,467.4Z" fill="#fff" stroke="none" stroke-width="0" /><path d="M524.3,466.6 L523.2,464.5 L523.3,464.5 L524.4,466.5Z" fill="#fff" stroke="#737373" stroke-width="0.7" /><path d="M522.9,477.5 L523.2,477.3 L524.3,478.3 L525.2,477.2 L524.5,475.8 L524.6,475.4 L524.8,475.0 L525.9,475.4 L526.1,473.7 L525.0,472.5 L525.0,472.0 L524.9,471.5 L525.9,471.2 L525.4,469.1 L524.2,468.5 L524.0,468.0 L523.8,467.4 L524.3,466.6 L523.2,464.5 L522.2,464.6 L521.8,464.1 L521.4,463.6 L521.5,462.3 L520.0,460.8 L519.3,461.5 L518.9,461.2 L518.4,460.9 L518.0,459.4 L516.4,458.6 L516.2,459.8 L515.7,459.7 L515.3,459.7 L514.5,458.3 L513.1,458.5 L513.4,459.9 L513.1,460.1 L512.8,460.3 L511.7,459.3 L510.8,460.4 L511.5,461.8 L511.4,462.2 L511.2,462.6 L510.1,462.2 L509.9,463.9 L511.0,465.1 L511.0,465.6 L511.1,466.1 L510.1,466.4 L510.6,468.5 L511.8,469.1 L512.0,469.6 L512.2,470.2 L511.7,471.0 L512.8,473.1 L513.8,473.0 L514.2,473.5 L514.6,474.0 L514.5,475.3 L516.0,476.8 L516.7,476.1 L517.1,476.4 L517.6,476.7 L518.0,478.2 L519.6,479.0 L519.8,477.8 L520.3,477.9 L520.7,477.9 L521.5,479.3 L522.9,479.1 L522.6,477.7Z" fill="#fff" stroke="#737373" stroke-width="0.7" /><ellipse cx="518.0" cy="468.8" rx="8.5" ry="4.9" transform="rotate(60.5 518.0 468.8)" fill="#fff" stroke="#737373" stroke-width="0.8" /><path d="M542.7,436.7 L542.2,437.0 L541.7,437.4 L541.3,437.8 L540.9,438.3 L540.6,438.8 L540.3,439.4 L540.0,440.1 L539.8,440.7 L539.6,441.4 L539.5,442.2 L539.4,443.0 L539.4,443.8 L539.4,444.6 L539.5,445.5 L539.6,446.4 L539.7,447.3 L539.9,448.2 L540.2,449.1 L540.5,450.0 L540.8,451.0 L541.2,451.9 L541.6,452.8 L542.0,453.7 L542.5,454.6 L543.0,455.5 L543.6,456.3 L544.2,457.2 L544.8,457.9 L545.4,458.7 L546.0,459.4 L546.7,460.1 L547.4,460.8 L548.1,461.4 L548.8,461.9 L549.5,462.4 L550.2,462.9 L550.9,463.2 L551.6,463.6 L552.3,463.9 L553.0,464.1 L553.7,464.2 L554.4,464.3 L555.0,464.4 L555.7,464.4 L556.3,464.3 L556.9,464.1 L557.4,463.9 L557.9,463.7 L559.7,462.7 L560.2,462.4 L560.6,462.0 L561.1,461.6 L561.4,461.1 L561.8,460.6 L562.1,460.0 L562.3,459.4 L562.5,458.7 L562.7,458.0 L562.8,457.2 L562.9,456.4 L562.9,455.6 L562.9,454.8 L562.9,453.9 L562.8,453.0 L562.6,452.1 L562.4,451.2 L562.2,450.3 L561.9,449.4 L561.5,448.4 L561.2,447.5 L560.8,446.6 L560.3,445.7 L559.8,444.8 L559.3,443.9 L558.8,443.1 L558.2,442.3 L557.6,441.5 L557.0,440.7 L556.3,440.0 L555.6,439.3 L555.0,438.7 L554.3,438.1 L553.6,437.5 L552.9,437.0 L552.1,436.6 L551.4,436.2 L550.7,435.8 L550.0,435.6 L549.3,435.3 L548.6,435.2 L548.0,435.1 L547.3,435.0 L546.7,435.0 L546.1,435.1 L545.5,435.3 L544.9,435.5 L544.4,435.7ZM553.5,455.9 L553.9,455.6 L554.2,455.2 L554.5,454.7 L554.7,454.2 L554.8,453.6 L554.9,452.9 L554.8,452.2 L554.7,451.4 L554.5,450.7 L554.3,449.9 L554.0,449.1 L553.6,448.4 L553.1,447.6 L552.6,447.0 L552.1,446.3 L551.5,445.8 L550.9,445.3 L550.3,444.9 L549.7,444.6 L549.2,444.4 L548.6,444.3 L548.0,444.3 L547.5,444.4 L547.1,444.5 L546.7,444.8 L546.4,445.2 L546.1,445.7 L545.9,446.2 L545.8,446.8 L545.7,447.5 L545.8,448.2 L545.9,449.0 L546.1,449.7 L546.3,450.5 L546.6,451.3 L547.0,452.0 L547.5,452.8 L548.0,453.4 L548.5,454.1 L549.1,454.6 L549.7,455.1 L550.3,455.5 L550.9,455.8 L551.4,456.0 L552.0,456.1 L552.6,456.1 L553.1,456.0 L553.5,455.9Z" fill="#fff" stroke="#737373" stroke-width="0" fill-rule="evenodd" stroke="none"/><path d="M542.7,436.7 L542.2,437.0 L541.7,437.4 L541.3,437.8 L540.9,438.3 L540.6,438.8 L540.3,439.4 L540.0,440.1 L539.8,440.7 L539.6,441.4 L539.5,442.2 L539.4,443.0 L539.4,443.8 L539.4,444.6 L539.5,445.5 L539.6,446.4 L539.7,447.3 L539.9,448.2 L540.2,449.1 L540.5,450.0 L540.8,451.0 L541.2,451.9 L541.6,452.8 L542.0,453.7 L542.5,454.6 L543.0,455.5 L543.6,456.3 L544.2,457.2 L544.8,457.9 L545.4,458.7 L546.0,459.4 L546.7,460.1 L547.4,460.8 L548.1,461.4 L548.8,461.9 L549.5,462.4 L550.2,462.9 L550.9,463.2 L551.6,463.6 L552.3,463.9 L553.0,464.1 L553.7,464.2 L554.4,464.3 L555.0,464.4 L555.7,464.4 L556.3,464.3 L556.9,464.1 L557.4,463.9 L557.9,463.7 L559.7,462.7 L560.2,462.4 L560.6,462.0 L561.1,461.6 L561.4,461.1 L561.8,460.6 L562.1,460.0 L562.3,459.4 L562.5,458.7 L562.7,458.0 L562.8,457.2 L562.9,456.4 L562.9,455.6 L562.9,454.8 L562.9,453.9 L562.8,453.0 L562.6,452.1 L562.4,451.2 L562.2,450.3 L561.9,449.4 L561.5,448.4 L561.2,447.5 L560.8,446.6 L560.3,445.7 L559.8,444.8 L559.3,443.9 L558.8,443.1 L558.2,442.3 L557.6,441.5 L557.0,440.7 L556.3,440.0 L555.6,439.3 L555.0,438.7 L554.3,438.1 L553.6,437.5 L552.9,437.0 L552.1,436.6 L551.4,436.2 L550.7,435.8 L550.0,435.6 L549.3,435.3 L548.6,435.2 L548.0,435.1 L547.3,435.0 L546.7,435.0 L546.1,435.1 L545.5,435.3 L544.9,435.5 L544.4,435.7Z" fill="none" stroke="#737373" stroke-width="1.05" /><ellipse cx="550.3" cy="450.2" rx="15.5" ry="8.9" transform="rotate(60.5 550.3 450.2)" fill="none" stroke="#737373" stroke-width="1.05" /><ellipse cx="550.3" cy="450.2" rx="6.5" ry="3.8" transform="rotate(60.5 550.3 450.2)" fill="none" stroke="#737373" stroke-width="1.05" /><g clip-path="url(#c9)"><ellipse cx="552.0" cy="449.2" rx="6.5" ry="3.8" transform="rotate(60.5 552.0 449.2)" fill="none" stroke="#737373" stroke-width="1.05" /></g><path d="M581.8,441.6 L582.4,439.8 L591.1,434.8 L590.5,436.7Z" fill="#fff" stroke="#737373" stroke-width="1.05" /><path d="M575.1,426.9 L573.2,426.5 L581.9,421.6 L583.8,422.0Z" fill="#fff" stroke="#737373" stroke-width="1.05" /><path d="M587.0,442.8 L586.4,440.2 L595.1,435.3 L595.7,437.9Z" fill="#fff" stroke="#737373" stroke-width="1.05" /><path d="M576.8,423.2 L574.9,421.4 L583.6,416.5 L585.5,418.3Z" fill="#fff" stroke="#737373" stroke-width="1.05" /><path d="M586.8,440.0 L587.2,439.8 L595.9,434.8 L595.5,435.1Z" fill="#fff" stroke="none" stroke-width="0" /><path d="M577.6,422.8 L577.2,423.0 L585.9,418.0 L586.3,417.8Z" fill="#fff" stroke="none" stroke-width="0" /><path d="M589.1,441.6 L590.3,439.7 L599.0,434.8 L597.8,436.7Z" fill="#fff" stroke="#737373" stroke-width="1.05" /><path d="M579.2,420.2 L577.0,420.2 L585.7,415.2 L587.9,415.2Z" fill="#fff" stroke="#737373" stroke-width="1.05" /><path d="M590.3,439.7 L588.7,437.4 L597.4,432.4 L599.0,434.8Z" fill="#fff" stroke="#737373" stroke-width="1.05" /><path d="M580.4,422.8 L579.2,420.2 L587.9,415.2 L589.1,417.8Z" fill="#fff" stroke="#737373" stroke-width="1.05" /><path d="M588.7,437.4 L588.8,436.8 L597.5,431.8 L597.4,432.4Z" fill="#fff" stroke="none" stroke-width="0" /><path d="M581.0,423.0 L580.4,422.8 L589.1,417.8 L589.7,418.0Z" fill="#fff" stroke="none" stroke-width="0" /><path d="M588.8,436.8 L588.9,436.1 L597.6,431.2 L597.5,431.8Z" fill="#fff" stroke="none" stroke-width="0" /><path d="M581.6,423.2 L581.0,423.0 L589.7,418.0 L590.3,418.3Z" fill="#fff" stroke="none" stroke-width="0" /><path d="M588.4,432.3 L588.2,431.5 L596.9,426.6 L597.1,427.3Z" fill="#fff" stroke="none" stroke-width="0" /><path d="M585.2,426.2 L584.6,425.6 L593.3,420.7 L593.9,421.3Z" fill="#fff" stroke="none" stroke-width="0" /><path d="M588.2,431.5 L587.9,430.7 L596.6,425.8 L596.9,426.6Z" fill="#fff" stroke="none" stroke-width="0" /><path d="M585.7,426.9 L585.2,426.2 L593.9,421.3 L594.4,421.9Z" fill="#fff" stroke="none" stroke-width="0" /><path d="M584.7,423.3 L582.2,421.4 L590.9,416.4 L593.4,418.3Z" fill="#fff" stroke="#737373" stroke-width="1.05" /><path d="M590.8,436.5 L590.4,433.4 L599.1,428.5 L599.5,431.6Z" fill="#fff" stroke="#737373" stroke-width="1.05" /><path d="M584.6,425.6 L584.7,423.3 L593.4,418.3 L593.3,420.7Z" fill="#fff" stroke="#737373" stroke-width="1.05" /><path d="M590.4,433.4 L588.4,432.3 L597.1,427.3 L599.1,428.5Z" fill="#fff" stroke="#737373" stroke-width="1.05" /><path d="M587.3,426.4 L585.7,426.9 L594.4,421.9 L596.0,421.5Z" fill="#fff" stroke="none" stroke-width="0" /><path d="M587.9,430.7 L589.1,429.5 L597.8,424.6 L596.6,425.8Z" fill="#fff" stroke="none" stroke-width="0" /><path d="M589.1,429.5 L587.3,426.4 L596.0,421.5 L597.8,424.6Z" fill="#fff" stroke="#737373" stroke-width="1.05" /><path d="M586.8,440.0 L587.2,439.8 L589.1,441.6 L590.3,439.7 L588.7,437.4 L588.8,436.8 L588.9,436.1 L590.8,436.5 L590.4,433.4 L588.4,432.3 L588.2,431.5 L587.9,430.7 L589.1,429.5 L587.3,426.4 L585.7,426.9 L585.2,426.2 L584.6,425.6 L584.7,423.3 L582.2,421.4 L581.6,423.2 L581.0,423.0 L580.4,422.8 L579.2,420.2 L577.0,420.2 L577.6,422.8 L577.2,423.0 L576.8,423.2 L574.9,421.4 L573.7,423.3 L575.3,425.6 L575.2,426.2 L575.1,426.9 L573.2,426.5 L573.6,429.6 L575.6,430.7 L575.8,431.5 L576.1,432.3 L574.9,433.5 L576.7,436.6 L578.3,436.1 L578.8,436.8 L579.4,437.4 L579.3,439.7 L581.8,441.6 L582.4,439.8 L583.0,440.0 L583.6,440.2 L584.8,442.8 L587.0,442.8 L586.4,440.2Z" fill="#fff" stroke="#737373" stroke-width="1.05" /><ellipse cx="582.0" cy="431.5" rx="5.0" ry="2.9" transform="rotate(60.5 582.0 431.5)" fill="#fff" stroke="#737373" stroke-width="1.05" /><ellipse cx="582.0" cy="431.5" rx="4.5" ry="2.6" transform="rotate(60.5 582.0 431.5)" fill="#555" stroke="#737373" stroke-width="1.05" /><path d="M574.5,486.3 L574.1,486.5 L573.8,486.8 L573.5,487.1 L573.2,487.4 L573.0,487.8 L572.7,488.2 L572.6,488.7 L572.4,489.2 L572.3,489.7 L572.2,490.2 L572.1,490.8 L572.1,491.4 L572.1,492.0 L572.2,492.6 L572.3,493.2 L572.4,493.9 L572.5,494.5 L572.7,495.2 L572.9,495.9 L573.1,496.6 L573.4,497.2 L573.7,497.9 L574.0,498.5 L574.4,499.2 L574.8,499.8 L575.1,500.4 L575.6,501.0 L576.0,501.6 L576.5,502.1 L576.9,502.7 L577.4,503.2 L577.9,503.6 L578.4,504.1 L578.9,504.5 L579.4,504.8 L579.9,505.1 L580.4,505.4 L581.0,505.7 L581.5,505.9 L582.0,506.0 L582.5,506.1 L582.9,506.2 L583.4,506.3 L583.9,506.2 L584.3,506.2 L584.7,506.1 L585.1,505.9 L585.5,505.7 L586.7,505.1 L587.0,504.9 L587.3,504.6 L587.6,504.3 L587.9,503.9 L588.2,503.6 L588.4,503.1 L588.6,502.7 L588.7,502.2 L588.8,501.7 L588.9,501.2 L589.0,500.6 L589.0,500.0 L589.0,499.4 L589.0,498.8 L588.9,498.1 L588.8,497.5 L588.6,496.8 L588.4,496.1 L588.2,495.5 L588.0,494.8 L587.7,494.1 L587.4,493.5 L587.1,492.8 L586.8,492.2 L586.4,491.5 L586.0,490.9 L585.6,490.3 L585.1,489.8 L584.7,489.2 L584.2,488.7 L583.7,488.2 L583.2,487.7 L582.7,487.3 L582.2,486.9 L581.7,486.5 L581.2,486.2 L580.7,485.9 L580.2,485.7 L579.7,485.5 L579.2,485.3 L578.7,485.2 L578.2,485.1 L577.7,485.1 L577.3,485.1 L576.8,485.2 L576.4,485.3 L576.0,485.4 L575.6,485.6ZM584.3,503.7 L584.9,503.3 L585.3,502.7 L585.7,502.1 L586.0,501.4 L586.1,500.6 L586.2,499.6 L586.1,498.7 L586.0,497.7 L585.7,496.6 L585.4,495.6 L584.9,494.5 L584.4,493.5 L583.8,492.5 L583.1,491.6 L582.4,490.8 L581.7,490.0 L580.9,489.4 L580.1,488.8 L579.2,488.4 L578.5,488.1 L577.7,488.0 L577.0,488.0 L576.3,488.1 L575.7,488.3 L575.1,488.7 L574.7,489.3 L574.3,489.9 L574.0,490.6 L573.9,491.4 L573.8,492.4 L573.9,493.3 L574.0,494.3 L574.3,495.4 L574.6,496.4 L575.1,497.5 L575.6,498.5 L576.2,499.5 L576.9,500.4 L577.6,501.2 L578.3,502.0 L579.1,502.6 L579.9,503.2 L580.8,503.6 L581.5,503.9 L582.3,504.0 L583.0,504.0 L583.7,503.9 L584.3,503.7Z" fill="#fff" stroke="#737373" stroke-width="0" fill-rule="evenodd" stroke="none"/><path d="M574.5,486.3 L574.1,486.5 L573.8,486.8 L573.5,487.1 L573.2,487.4 L573.0,487.8 L572.7,488.2 L572.6,488.7 L572.4,489.2 L572.3,489.7 L572.2,490.2 L572.1,490.8 L572.1,491.4 L572.1,492.0 L572.2,492.6 L572.3,493.2 L572.4,493.9 L572.5,494.5 L572.7,495.2 L572.9,495.9 L573.1,496.6 L573.4,497.2 L573.7,497.9 L574.0,498.5 L574.4,499.2 L574.8,499.8 L575.1,500.4 L575.6,501.0 L576.0,501.6 L576.5,502.1 L576.9,502.7 L577.4,503.2 L577.9,503.6 L578.4,504.1 L578.9,504.5 L579.4,504.8 L579.9,505.1 L580.4,505.4 L581.0,505.7 L581.5,505.9 L582.0,506.0 L582.5,506.1 L582.9,506.2 L583.4,506.3 L583.9,506.2 L584.3,506.2 L584.7,506.1 L585.1,505.9 L585.5,505.7 L586.7,505.1 L587.0,504.9 L587.3,504.6 L587.6,504.3 L587.9,503.9 L588.2,503.6 L588.4,503.1 L588.6,502.7 L588.7,502.2 L588.8,501.7 L588.9,501.2 L589.0,500.6 L589.0,500.0 L589.0,499.4 L589.0,498.8 L588.9,498.1 L588.8,497.5 L588.6,496.8 L588.4,496.1 L588.2,495.5 L588.0,494.8 L587.7,494.1 L587.4,493.5 L587.1,492.8 L586.8,492.2 L586.4,491.5 L586.0,490.9 L585.6,490.3 L585.1,489.8 L584.7,489.2 L584.2,488.7 L583.7,488.2 L583.2,487.7 L582.7,487.3 L582.2,486.9 L581.7,486.5 L581.2,486.2 L580.7,485.9 L580.2,485.7 L579.7,485.5 L579.2,485.3 L578.7,485.2 L578.2,485.1 L577.7,485.1 L577.3,485.1 L576.8,485.2 L576.4,485.3 L576.0,485.4 L575.6,485.6Z" fill="none" stroke="#737373" stroke-width="1.05" /><ellipse cx="580.0" cy="496.0" rx="11.2" ry="6.5" transform="rotate(60.5 580.0 496.0)" fill="none" stroke="#737373" stroke-width="1.05" /><ellipse cx="580.0" cy="496.0" rx="8.8" ry="5.1" transform="rotate(60.5 580.0 496.0)" fill="none" stroke="#737373" stroke-width="1.05" /><g clip-path="url(#c10)"><ellipse cx="581.1" cy="495.4" rx="8.8" ry="5.1" transform="rotate(60.5 581.1 495.4)" fill="none" stroke="#737373" stroke-width="1.05" /></g><path d="M597.3,494.2 L598.3,492.9 L606.2,488.4 L605.1,489.8Z" fill="#fff" stroke="none" stroke-width="0" /><path d="M591.1,480.1 L589.4,480.3 L597.2,475.9 L599.0,475.7Z" fill="#fff" stroke="none" stroke-width="0" /><path d="M602.1,497.2 L602.3,495.0 L610.2,490.6 L610.0,492.8Z" fill="#fff" stroke="#737373" stroke-width="1.05" /><path d="M591.3,475.6 L589.3,474.6 L597.2,470.2 L599.2,471.2Z" fill="#fff" stroke="#737373" stroke-width="1.05" /><path d="M606.6,497.4 L605.9,494.8 L613.7,490.4 L614.4,493.0Z" fill="#fff" stroke="#737373" stroke-width="1.05" /><path d="M593.3,472.6 L591.4,470.7 L599.2,466.3 L601.1,468.2Z" fill="#fff" stroke="#737373" stroke-width="1.05" /><path d="M606.3,494.6 L606.7,494.4 L614.5,489.9 L614.1,490.2Z" fill="#fff" stroke="none" stroke-width="0" /><path d="M594.1,472.2 L593.7,472.4 L601.5,467.9 L602.0,467.7Z" fill="#fff" stroke="none" stroke-width="0" /><path d="M608.6,496.3 L609.7,494.9 L617.5,490.5 L616.4,491.9Z" fill="#fff" stroke="none" stroke-width="0" /><path d="M595.2,469.3 L593.4,469.6 L601.3,465.1 L603.0,464.9Z" fill="#fff" stroke="none" stroke-width="0" /><path d="M609.7,494.9 L608.3,492.5 L616.1,488.0 L617.5,490.5Z" fill="#fff" stroke="#737373" stroke-width="1.05" /><path d="M596.6,471.8 L595.2,469.3 L603.0,464.9 L604.4,467.4Z" fill="#fff" stroke="#737373" stroke-width="1.05" /><path d="M608.3,492.5 L608.5,492.0 L616.3,487.5 L616.1,488.0Z" fill="#fff" stroke="none" stroke-width="0" /><path d="M597.1,471.9 L596.6,471.8 L604.4,467.4 L604.9,467.4Z" fill="#fff" stroke="none" stroke-width="0" /><path d="M597.7,472.0 L597.1,471.9 L604.9,467.4 L605.5,467.6Z" fill="#fff" stroke="none" stroke-width="0" /><path d="M608.5,492.0 L608.7,491.4 L616.5,487.0 L616.3,487.5Z" fill="#fff" stroke="none" stroke-width="0" /><path d="M610.7,492.4 L610.9,490.1 L618.7,485.7 L618.5,487.9Z" fill="#fff" stroke="#737373" stroke-width="1.05" /><path d="M599.9,470.7 L597.9,469.8 L605.7,465.4 L607.7,466.3Z" fill="#fff" stroke="#737373" stroke-width="1.05" /><path d="M609.0,488.3 L609.0,487.6 L616.8,483.2 L616.8,483.9Z" fill="#fff" stroke="none" stroke-width="0" /><path d="M601.1,473.7 L600.5,473.3 L608.3,468.9 L608.9,469.3Z" fill="#fff" stroke="none" stroke-width="0" /><path d="M600.5,473.3 L599.9,470.7 L607.7,466.3 L608.3,468.9Z" fill="#fff" stroke="#737373" stroke-width="1.05" /><path d="M610.9,490.1 L609.0,488.3 L616.8,483.9 L618.7,485.7Z" fill="#fff" stroke="#737373" stroke-width="1.05" /><path d="M609.0,487.6 L608.9,486.9 L616.7,482.4 L616.8,483.2Z" fill="#fff" stroke="none" stroke-width="0" /><path d="M601.7,474.1 L601.1,473.7 L608.9,469.3 L609.5,469.7Z" fill="#fff" stroke="none" stroke-width="0" /><path d="M604.9,477.5 L604.4,476.8 L612.2,472.4 L612.7,473.0Z" fill="#fff" stroke="none" stroke-width="0" /><path d="M608.0,483.2 L607.7,482.4 L615.5,478.0 L615.8,478.8Z" fill="#fff" stroke="none" stroke-width="0" /><path d="M605.3,478.1 L604.9,477.5 L612.7,473.0 L613.2,473.7Z" fill="#fff" stroke="none" stroke-width="0" /><path d="M607.7,482.4 L607.3,481.7 L615.2,477.2 L615.5,478.0Z" fill="#fff" stroke="none" stroke-width="0" /><path d="M609.9,484.0 L608.0,483.2 L615.8,478.8 L617.8,479.6Z" fill="#fff" stroke="#737373" stroke-width="1.05" /><path d="M604.4,476.8 L604.6,474.7 L612.5,470.2 L612.2,472.4Z" fill="#fff" stroke="#737373" stroke-width="1.05" /><path d="M610.6,486.7 L609.9,484.0 L617.8,479.6 L618.4,482.3Z" fill="#fff" stroke="#737373" stroke-width="1.05" /><path d="M604.6,474.7 L602.7,472.8 L610.5,468.3 L612.5,470.2Z" fill="#fff" stroke="#737373" stroke-width="1.05" /><path d="M607.0,477.8 L605.3,478.1 L613.2,473.7 L614.9,473.4Z" fill="#fff" stroke="none" stroke-width="0" /><path d="M607.3,481.7 L608.5,480.4 L616.3,475.9 L615.2,477.2Z" fill="#fff" stroke="none" stroke-width="0" /><path d="M608.5,480.4 L607.0,477.8 L614.9,473.4 L616.3,475.9Z" fill="#fff" stroke="#737373" stroke-width="1.05" /><path d="M606.3,494.6 L606.7,494.4 L608.6,496.3 L609.7,494.9 L608.3,492.5 L608.5,492.0 L608.7,491.4 L610.7,492.4 L610.9,490.1 L609.0,488.3 L609.0,487.6 L608.9,486.9 L610.6,486.7 L609.9,484.0 L608.0,483.2 L607.7,482.4 L607.3,481.7 L608.5,480.4 L607.0,477.8 L605.3,478.1 L604.9,477.5 L604.4,476.8 L604.6,474.7 L602.7,472.8 L601.7,474.1 L601.1,473.7 L600.5,473.3 L599.9,470.7 L597.9,469.8 L597.7,472.0 L597.1,471.9 L596.6,471.8 L595.2,469.3 L593.4,469.6 L594.1,472.2 L593.7,472.4 L593.3,472.6 L591.4,470.7 L590.3,472.1 L591.7,474.5 L591.5,475.0 L591.3,475.6 L589.3,474.6 L589.1,476.9 L591.0,478.7 L591.0,479.4 L591.1,480.1 L589.4,480.3 L590.1,483.0 L592.0,483.8 L592.3,484.6 L592.7,485.3 L591.5,486.6 L593.0,489.2 L594.7,488.9 L595.1,489.5 L595.6,490.2 L595.4,492.3 L597.3,494.2 L598.3,492.9 L598.9,493.3 L599.5,493.7 L600.1,496.3 L602.1,497.2 L602.3,495.0 L602.9,495.1 L603.4,495.2 L604.8,497.7 L606.6,497.4 L605.9,494.8Z" fill="#fff" stroke="#737373" stroke-width="1.05" /><ellipse cx="600.0" cy="483.5" rx="9.5" ry="5.5" transform="rotate(60.5 600.0 483.5)" fill="#fff" stroke="#737373" stroke-width="1.05" /><path d="M622.7,476.2 L623.2,475.8 L631.9,470.8 L631.4,471.3Z" fill="#fff" stroke="none" stroke-width="0" /><path d="M619.6,469.3 L618.9,469.6 L627.6,464.6 L628.3,464.4Z" fill="#fff" stroke="none" stroke-width="0" /><path d="M624.9,478.0 L625.2,477.2 L633.9,472.3 L633.6,473.0Z" fill="#fff" stroke="none" stroke-width="0" /><path d="M619.3,466.9 L618.5,466.8 L627.2,461.8 L628.0,462.0Z" fill="#fff" stroke="none" stroke-width="0" /><path d="M627.1,478.9 L627.1,477.9 L635.8,473.0 L635.8,473.9Z" fill="#fff" stroke="none" stroke-width="0" /><path d="M619.7,464.9 L618.9,464.4 L627.6,459.5 L628.4,460.0Z" fill="#fff" stroke="none" stroke-width="0" /><path d="M629.1,478.7 L628.8,477.6 L637.5,472.7 L637.8,473.8Z" fill="#fff" stroke="#555" stroke-width="1.0" /><path d="M620.8,463.6 L620.0,462.8 L628.7,457.9 L629.5,458.6Z" fill="#fff" stroke="#555" stroke-width="1.0" /><path d="M629.0,477.5 L629.2,477.4 L637.9,472.5 L637.7,472.6Z" fill="#fff" stroke="none" stroke-width="0" /><path d="M621.2,463.4 L621.0,463.5 L629.7,458.5 L629.9,458.4Z" fill="#fff" stroke="none" stroke-width="0" /><path d="M630.0,478.2 L630.5,477.6 L639.2,472.7 L638.7,473.3Z" fill="#fff" stroke="none" stroke-width="0" /><path d="M621.8,462.1 L620.9,462.3 L629.6,457.4 L630.5,457.2Z" fill="#fff" stroke="none" stroke-width="0" /><path d="M630.5,477.6 L630.0,476.5 L638.7,471.6 L639.2,472.7Z" fill="#fff" stroke="#555" stroke-width="1.0" /><path d="M622.4,463.1 L621.8,462.1 L630.5,457.2 L631.1,458.2Z" fill="#fff" stroke="#555" stroke-width="1.0" /><path d="M630.0,476.5 L630.1,476.3 L638.8,471.4 L638.7,471.6Z" fill="#fff" stroke="none" stroke-width="0" /><path d="M622.6,463.1 L622.4,463.1 L631.1,458.2 L631.3,458.2Z" fill="#fff" stroke="none" stroke-width="0" /><path d="M630.1,476.3 L630.3,476.1 L639.0,471.2 L638.8,471.4Z" fill="#fff" stroke="none" stroke-width="0" /><path d="M622.9,463.1 L622.6,463.1 L631.3,458.2 L631.6,458.2Z" fill="#fff" stroke="none" stroke-width="0" /><path d="M631.1,476.6 L631.4,475.6 L640.1,470.7 L639.8,471.7Z" fill="#fff" stroke="none" stroke-width="0" /><path d="M623.9,462.4 L622.9,462.1 L631.6,457.2 L632.6,457.5Z" fill="#fff" stroke="none" stroke-width="0" /><path d="M630.6,474.7 L630.7,474.4 L639.4,469.5 L639.3,469.8Z" fill="#fff" stroke="none" stroke-width="0" /><path d="M624.6,463.6 L624.3,463.5 L633.0,458.6 L633.3,458.7Z" fill="#fff" stroke="none" stroke-width="0" /><path d="M631.4,475.6 L630.6,474.7 L639.3,469.8 L640.1,470.7Z" fill="#fff" stroke="#555" stroke-width="1.0" /><path d="M624.3,463.5 L623.9,462.4 L632.6,457.5 L633.0,458.6Z" fill="#fff" stroke="#555" stroke-width="1.0" /><path d="M630.7,474.4 L630.7,474.1 L639.4,469.2 L639.4,469.5Z" fill="#fff" stroke="none" stroke-width="0" /><path d="M624.8,463.8 L624.6,463.6 L633.3,458.7 L633.5,458.8Z" fill="#fff" stroke="none" stroke-width="0" /><path d="M626.5,465.0 L626.3,464.7 L635.0,459.8 L635.2,460.1Z" fill="#fff" stroke="none" stroke-width="0" /><path d="M630.6,472.4 L630.5,472.0 L639.2,467.1 L639.3,467.4Z" fill="#fff" stroke="none" stroke-width="0" /><path d="M631.5,474.2 L631.4,473.0 L640.1,468.1 L640.2,469.3Z" fill="#fff" stroke="#555" stroke-width="1.0" /><path d="M626.1,463.7 L625.1,463.0 L633.8,458.1 L634.8,458.8Z" fill="#fff" stroke="#555" stroke-width="1.0" /><path d="M630.5,472.0 L630.4,471.7 L639.1,466.7 L639.2,467.1Z" fill="#fff" stroke="none" stroke-width="0" /><path d="M626.8,465.2 L626.5,465.0 L635.2,460.1 L635.5,460.3Z" fill="#fff" stroke="none" stroke-width="0" /><path d="M631.4,473.0 L630.6,472.4 L639.3,467.4 L640.1,468.1Z" fill="#fff" stroke="#555" stroke-width="1.0" /><path d="M626.3,464.7 L626.1,463.7 L634.8,458.8 L635.0,459.8Z" fill="#fff" stroke="#555" stroke-width="1.0" /><path d="M629.8,469.8 L629.7,469.5 L638.4,464.5 L638.5,464.9Z" fill="#fff" stroke="none" stroke-width="0" /><path d="M628.3,467.0 L628.1,466.7 L636.8,461.8 L637.0,462.1Z" fill="#fff" stroke="none" stroke-width="0" /><path d="M628.5,467.3 L628.3,467.0 L637.0,462.1 L637.2,462.4Z" fill="#fff" stroke="none" stroke-width="0" /><path d="M629.7,469.5 L629.5,469.1 L638.2,464.2 L638.4,464.5Z" fill="#fff" stroke="none" stroke-width="0" /><path d="M628.1,466.7 L628.2,465.8 L636.9,460.9 L636.8,461.8Z" fill="#fff" stroke="none" stroke-width="0" /><path d="M630.7,470.1 L629.8,469.8 L638.5,464.9 L639.4,465.2Z" fill="#fff" stroke="none" stroke-width="0" /><path d="M629.2,467.3 L628.5,467.3 L637.2,462.4 L637.9,462.3Z" fill="#fff" stroke="none" stroke-width="0" /><path d="M629.5,469.1 L630.0,468.5 L638.7,463.6 L638.2,464.2Z" fill="#fff" stroke="none" stroke-width="0" /><path d="M628.2,465.8 L627.3,464.8 L636.0,459.9 L636.9,460.9Z" fill="#fff" stroke="#555" stroke-width="1.0" /><path d="M631.1,471.4 L630.7,470.1 L639.4,465.2 L639.8,466.5Z" fill="#fff" stroke="#555" stroke-width="1.0" /><path d="M630.0,468.5 L629.2,467.3 L637.9,462.3 L638.7,463.6Z" fill="#fff" stroke="#555" stroke-width="1.0" /><path d="M629.0,477.5 L629.2,477.4 L630.0,478.2 L630.5,477.6 L630.0,476.5 L630.1,476.3 L630.3,476.1 L631.1,476.6 L631.4,475.6 L630.6,474.7 L630.7,474.4 L630.7,474.1 L631.5,474.2 L631.4,473.0 L630.6,472.4 L630.5,472.0 L630.4,471.7 L631.1,471.4 L630.7,470.1 L629.8,469.8 L629.7,469.5 L629.5,469.1 L630.0,468.5 L629.2,467.3 L628.5,467.3 L628.3,467.0 L628.1,466.7 L628.2,465.8 L627.3,464.8 L626.8,465.2 L626.5,465.0 L626.3,464.7 L626.1,463.7 L625.1,463.0 L624.8,463.8 L624.6,463.6 L624.3,463.5 L623.9,462.4 L622.9,462.1 L622.9,463.1 L622.6,463.1 L622.4,463.1 L621.8,462.1 L620.9,462.3 L621.2,463.4 L621.0,463.5 L620.8,463.6 L620.0,462.8 L619.5,463.4 L620.0,464.5 L619.9,464.7 L619.7,464.9 L618.9,464.4 L618.6,465.4 L619.4,466.3 L619.3,466.6 L619.3,466.9 L618.5,466.8 L618.6,468.0 L619.4,468.6 L619.5,469.0 L619.6,469.3 L618.9,469.6 L619.3,470.9 L620.2,471.2 L620.3,471.5 L620.5,471.9 L620.0,472.5 L620.8,473.7 L621.5,473.7 L621.7,474.0 L621.9,474.3 L621.8,475.2 L622.7,476.2 L623.2,475.8 L623.5,476.0 L623.7,476.3 L623.9,477.3 L624.9,478.0 L625.2,477.2 L625.4,477.4 L625.7,477.5 L626.1,478.6 L627.1,478.9 L627.1,477.9 L627.4,477.9 L627.6,477.9 L628.2,478.9 L629.1,478.7 L628.8,477.6Z" fill="#fff" stroke="#555" stroke-width="1.0" /><ellipse cx="625.0" cy="470.5" rx="5.5" ry="3.2" transform="rotate(60.5 625.0 470.5)" fill="#666" stroke="#737373" stroke-width="1.05" /><ellipse cx="625.0" cy="470.5" rx="3.5" ry="2.0" transform="rotate(60.5 625.0 470.5)" fill="#ddd" stroke="#737373" stroke-width="0.5" /><path d="M634.4,344.8 L632.7,345.9 L631.2,347.1 L629.8,348.5 L628.6,350.1 L627.5,351.8 L626.5,353.8 L625.6,355.8 L624.9,358.0 L624.4,360.4 L624.0,362.8 L623.7,365.4 L623.6,368.1 L623.7,370.9 L623.9,373.7 L624.2,376.6 L624.8,379.6 L625.4,382.6 L626.2,385.6 L627.2,388.7 L628.3,391.7 L629.5,394.8 L630.8,397.8 L632.3,400.8 L633.9,403.7 L635.6,406.6 L637.4,409.4 L639.3,412.1 L641.3,414.7 L643.3,417.2 L645.5,419.6 L647.7,421.8 L649.9,423.9 L652.2,425.9 L654.5,427.7 L656.8,429.4 L659.2,430.8 L661.5,432.1 L663.9,433.2 L666.2,434.2 L668.5,434.9 L670.7,435.4 L672.9,435.7 L675.1,435.9 L677.2,435.8 L679.2,435.5 L681.1,435.1 L682.9,434.4 L684.6,433.6 L707.3,420.8 L708.9,419.7 L710.4,418.5 L711.8,417.1 L713.0,415.5 L714.2,413.7 L715.1,411.8 L716.0,409.8 L716.7,407.6 L717.2,405.2 L717.7,402.8 L717.9,400.2 L718.0,397.5 L717.9,394.7 L717.7,391.9 L717.4,389.0 L716.9,386.0 L716.2,383.0 L715.4,380.0 L714.4,376.9 L713.4,373.9 L712.1,370.8 L710.8,367.8 L709.3,364.8 L707.7,361.9 L706.0,359.0 L704.2,356.2 L702.3,353.5 L700.3,350.9 L698.3,348.4 L696.2,346.0 L694.0,343.7 L691.7,341.6 L689.4,339.7 L687.1,337.9 L684.8,336.2 L682.4,334.7 L680.1,333.5 L677.8,332.3 L675.4,331.4 L673.1,330.7 L670.9,330.2 L668.7,329.8 L666.5,329.7 L664.5,329.8 L662.5,330.0 L660.5,330.5 L658.7,331.2 L657.0,332.0ZM681.2,427.5 L681.7,427.2 L681.0,424.7 L681.8,424.1 L683.7,425.7 L684.1,425.3 L684.5,424.9 L683.6,422.4 L684.3,421.6 L686.2,422.9 L686.5,422.4 L686.9,421.9 L685.7,419.4 L686.2,418.4 L688.2,419.4 L688.4,418.8 L688.6,418.2 L687.3,415.8 L687.6,414.6 L689.5,415.3 L689.7,414.6 L689.8,414.0 L688.3,411.7 L688.5,410.4 L690.3,410.7 L690.4,409.9 L690.4,409.2 L688.7,407.1 L688.7,405.7 L690.4,405.6 L690.4,404.8 L690.3,404.0 L688.5,402.2 L688.3,400.6 L689.9,400.2 L689.8,399.4 L689.7,398.5 L687.8,396.9 L687.4,395.3 L688.8,394.6 L688.6,393.7 L688.4,392.9 L686.4,391.6 L685.9,389.9 L687.1,388.8 L686.8,388.0 L686.5,387.1 L684.5,386.1 L683.9,384.5 L684.8,383.1 L684.4,382.3 L684.1,381.4 L682.1,380.8 L681.3,379.2 L682.0,377.5 L681.6,376.7 L681.1,375.9 L679.3,375.6 L678.3,374.1 L678.8,372.1 L678.3,371.4 L677.7,370.6 L676.0,370.7 L675.0,369.3 L675.2,367.1 L674.6,366.4 L674.0,365.7 L672.4,366.2 L671.3,364.9 L671.2,362.6 L670.6,361.9 L670.0,361.3 L668.6,362.1 L667.4,361.0 L667.0,358.5 L666.4,358.0 L665.7,357.4 L664.5,358.6 L663.3,357.7 L662.6,355.1 L662.0,354.7 L661.3,354.2 L660.4,355.7 L659.1,355.0 L658.2,352.4 L657.6,352.1 L656.9,351.7 L656.2,353.5 L655.0,353.0 L653.8,350.5 L653.2,350.2 L652.5,350.0 L652.1,352.0 L650.9,351.7 L649.6,349.3 L648.9,349.2 L648.3,349.1 L648.2,351.3 L647.0,351.2 L645.5,348.9 L644.9,348.9 L644.3,349.0 L644.5,351.3 L643.4,351.5 L641.7,349.4 L641.2,349.5 L640.6,349.7 L641.1,352.2 L640.1,352.6 L638.3,350.7 L637.8,350.9 L637.3,351.2 L638.0,353.7 L637.2,354.3 L635.3,352.7 L634.9,353.1 L634.5,353.5 L635.4,356.0 L634.7,356.8 L632.8,355.5 L632.5,356.0 L632.1,356.5 L633.3,359.0 L632.8,360.0 L630.8,359.0 L630.6,359.6 L630.4,360.2 L631.7,362.6 L631.4,363.8 L629.5,363.1 L629.3,363.8 L629.2,364.4 L630.7,366.7 L630.5,368.0 L628.7,367.7 L628.6,368.5 L628.6,369.2 L630.3,371.3 L630.3,372.7 L628.6,372.8 L628.6,373.6 L628.7,374.4 L630.5,376.2 L630.7,377.8 L629.1,378.2 L629.2,379.0 L629.3,379.9 L631.2,381.5 L631.6,383.1 L630.2,383.8 L630.4,384.7 L630.6,385.5 L632.6,386.8 L633.1,388.5 L631.9,389.6 L632.2,390.4 L632.5,391.3 L634.5,392.3 L635.1,393.9 L634.2,395.3 L634.6,396.1 L634.9,397.0 L636.9,397.6 L637.7,399.2 L637.0,400.9 L637.4,401.7 L637.9,402.5 L639.7,402.8 L640.7,404.3 L640.2,406.3 L640.7,407.0 L641.3,407.8 L643.0,407.7 L644.0,409.1 L643.8,411.3 L644.4,412.0 L645.0,412.7 L646.6,412.2 L647.7,413.5 L647.8,415.8 L648.4,416.5 L649.0,417.1 L650.4,416.3 L651.6,417.4 L652.0,419.9 L652.6,420.4 L653.3,421.0 L654.5,419.8 L655.7,420.7 L656.4,423.3 L657.0,423.7 L657.7,424.2 L658.6,422.7 L659.9,423.4 L660.8,426.0 L661.4,426.3 L662.1,426.7 L662.8,424.9 L664.0,425.4 L665.2,427.9 L665.8,428.2 L666.5,428.4 L666.9,426.4 L668.1,426.7 L669.4,429.1 L670.1,429.2 L670.7,429.3 L670.8,427.1 L672.0,427.2 L673.5,429.5 L674.1,429.5 L674.7,429.4 L674.5,427.1 L675.6,426.9 L677.3,429.0 L677.8,428.9 L678.4,428.7 L677.9,426.2 L678.9,425.8 L680.7,427.7Z" fill="#fff" stroke="#737373" stroke-width="1.05" fill-rule="evenodd" stroke="none"/><path d="M634.4,344.8 L632.7,345.9 L631.2,347.1 L629.8,348.5 L628.6,350.1 L627.5,351.8 L626.5,353.8 L625.6,355.8 L624.9,358.0 L624.4,360.4 L624.0,362.8 L623.7,365.4 L623.6,368.1 L623.7,370.9 L623.9,373.7 L624.2,376.6 L624.8,379.6 L625.4,382.6 L626.2,385.6 L627.2,388.7 L628.3,391.7 L629.5,394.8 L630.8,397.8 L632.3,400.8 L633.9,403.7 L635.6,406.6 L637.4,409.4 L639.3,412.1 L641.3,414.7 L643.3,417.2 L645.5,419.6 L647.7,421.8 L649.9,423.9 L652.2,425.9 L654.5,427.7 L656.8,429.4 L659.2,430.8 L661.5,432.1 L663.9,433.2 L666.2,434.2 L668.5,434.9 L670.7,435.4 L672.9,435.7 L675.1,435.9 L677.2,435.8 L679.2,435.5 L681.1,435.1 L682.9,434.4 L684.6,433.6 L707.3,420.8 L708.9,419.7 L710.4,418.5 L711.8,417.1 L713.0,415.5 L714.2,413.7 L715.1,411.8 L716.0,409.8 L716.7,407.6 L717.2,405.2 L717.7,402.8 L717.9,400.2 L718.0,397.5 L717.9,394.7 L717.7,391.9 L717.4,389.0 L716.9,386.0 L716.2,383.0 L715.4,380.0 L714.4,376.9 L713.4,373.9 L712.1,370.8 L710.8,367.8 L709.3,364.8 L707.7,361.9 L706.0,359.0 L704.2,356.2 L702.3,353.5 L700.3,350.9 L698.3,348.4 L696.2,346.0 L694.0,343.7 L691.7,341.6 L689.4,339.7 L687.1,337.9 L684.8,336.2 L682.4,334.7 L680.1,333.5 L677.8,332.3 L675.4,331.4 L673.1,330.7 L670.9,330.2 L668.7,329.8 L666.5,329.7 L664.5,329.8 L662.5,330.0 L660.5,330.5 L658.7,331.2 L657.0,332.0Z" fill="none" stroke="#737373" stroke-width="1.05" /><ellipse cx="659.5" cy="389.2" rx="51.0" ry="29.4" transform="rotate(60.5 659.5 389.2)" fill="none" stroke="#737373" stroke-width="1.05" /><ellipse cx="659.5" cy="389.2" rx="48.8" ry="28.2" transform="rotate(60.5 659.5 389.2)" fill="none" stroke="#737373" stroke-width="0.6" /><circle cx="684.8" cy="428.4" r="1.5" fill="#fff" stroke="#737373" stroke-width="0.7"/><circle cx="690.9" cy="418.8" r="1.5" fill="#fff" stroke="#737373" stroke-width="0.7"/><circle cx="692.3" cy="404.7" r="1.5" fill="#fff" stroke="#737373" stroke-width="0.7"/><circle cx="688.7" cy="388.2" r="1.5" fill="#fff" stroke="#737373" stroke-width="0.7"/><circle cx="680.6" cy="371.9" r="1.5" fill="#fff" stroke="#737373" stroke-width="0.7"/><circle cx="669.3" cy="358.2" r="1.5" fill="#fff" stroke="#737373" stroke-width="0.7"/><circle cx="656.5" cy="349.3" r="1.5" fill="#fff" stroke="#737373" stroke-width="0.7"/><circle cx="644.2" cy="346.4" r="1.5" fill="#fff" stroke="#737373" stroke-width="0.7"/><circle cx="634.2" cy="350.0" r="1.5" fill="#fff" stroke="#737373" stroke-width="0.7"/><circle cx="628.1" cy="359.6" r="1.5" fill="#fff" stroke="#737373" stroke-width="0.7"/><circle cx="626.7" cy="373.7" r="1.5" fill="#fff" stroke="#737373" stroke-width="0.7"/><circle cx="630.3" cy="390.2" r="1.5" fill="#fff" stroke="#737373" stroke-width="0.7"/><circle cx="638.4" cy="406.5" r="1.5" fill="#fff" stroke="#737373" stroke-width="0.7"/><circle cx="649.7" cy="420.2" r="1.5" fill="#fff" stroke="#737373" stroke-width="0.7"/><circle cx="662.5" cy="429.1" r="1.5" fill="#fff" stroke="#737373" stroke-width="0.7"/><circle cx="674.8" cy="432.0" r="1.5" fill="#fff" stroke="#737373" stroke-width="0.7"/><g clip-path="url(#c11)"><path d="M681.2,427.5 L681.7,427.2 L681.0,424.7 L681.8,424.1 L683.7,425.7 L684.1,425.3 L684.5,424.9 L683.6,422.4 L684.3,421.6 L686.2,422.9 L686.5,422.4 L686.9,421.9 L685.7,419.4 L686.2,418.4 L688.2,419.4 L688.4,418.8 L688.6,418.2 L687.3,415.8 L687.6,414.6 L689.5,415.3 L689.7,414.6 L689.8,414.0 L688.3,411.7 L688.5,410.4 L690.3,410.7 L690.4,409.9 L690.4,409.2 L688.7,407.1 L688.7,405.7 L690.4,405.6 L690.4,404.8 L690.3,404.0 L688.5,402.2 L688.3,400.6 L689.9,400.2 L689.8,399.4 L689.7,398.5 L687.8,396.9 L687.4,395.3 L688.8,394.6 L688.6,393.7 L688.4,392.9 L686.4,391.6 L685.9,389.9 L687.1,388.8 L686.8,388.0 L686.5,387.1 L684.5,386.1 L683.9,384.5 L684.8,383.1 L684.4,382.3 L684.1,381.4 L682.1,380.8 L681.3,379.2 L682.0,377.5 L681.6,376.7 L681.1,375.9 L679.3,375.6 L678.3,374.1 L678.8,372.1 L678.3,371.4 L677.7,370.6 L676.0,370.7 L675.0,369.3 L675.2,367.1 L674.6,366.4 L674.0,365.7 L672.4,366.2 L671.3,364.9 L671.2,362.6 L670.6,361.9 L670.0,361.3 L668.6,362.1 L667.4,361.0 L667.0,358.5 L666.4,358.0 L665.7,357.4 L664.5,358.6 L663.3,357.7 L662.6,355.1 L662.0,354.7 L661.3,354.2 L660.4,355.7 L659.1,355.0 L658.2,352.4 L657.6,352.1 L656.9,351.7 L656.2,353.5 L655.0,353.0 L653.8,350.5 L653.2,350.2 L652.5,350.0 L652.1,352.0 L650.9,351.7 L649.6,349.3 L648.9,349.2 L648.3,349.1 L648.2,351.3 L647.0,351.2 L645.5,348.9 L644.9,348.9 L644.3,349.0 L644.5,351.3 L643.4,351.5 L641.7,349.4 L641.2,349.5 L640.6,349.7 L641.1,352.2 L640.1,352.6 L638.3,350.7 L637.8,350.9 L637.3,351.2 L638.0,353.7 L637.2,354.3 L635.3,352.7 L634.9,353.1 L634.5,353.5 L635.4,356.0 L634.7,356.8 L632.8,355.5 L632.5,356.0 L632.1,356.5 L633.3,359.0 L632.8,360.0 L630.8,359.0 L630.6,359.6 L630.4,360.2 L631.7,362.6 L631.4,363.8 L629.5,363.1 L629.3,363.8 L629.2,364.4 L630.7,366.7 L630.5,368.0 L628.7,367.7 L628.6,368.5 L628.6,369.2 L630.3,371.3 L630.3,372.7 L628.6,372.8 L628.6,373.6 L628.7,374.4 L630.5,376.2 L630.7,377.8 L629.1,378.2 L629.2,379.0 L629.3,379.9 L631.2,381.5 L631.6,383.1 L630.2,383.8 L630.4,384.7 L630.6,385.5 L632.6,386.8 L633.1,388.5 L631.9,389.6 L632.2,390.4 L632.5,391.3 L634.5,392.3 L635.1,393.9 L634.2,395.3 L634.6,396.1 L634.9,397.0 L636.9,397.6 L637.7,399.2 L637.0,400.9 L637.4,401.7 L637.9,402.5 L639.7,402.8 L640.7,404.3 L640.2,406.3 L640.7,407.0 L641.3,407.8 L643.0,407.7 L644.0,409.1 L643.8,411.3 L644.4,412.0 L645.0,412.7 L646.6,412.2 L647.7,413.5 L647.8,415.8 L648.4,416.5 L649.0,417.1 L650.4,416.3 L651.6,417.4 L652.0,419.9 L652.6,420.4 L653.3,421.0 L654.5,419.8 L655.7,420.7 L656.4,423.3 L657.0,423.7 L657.7,424.2 L658.6,422.7 L659.9,423.4 L660.8,426.0 L661.4,426.3 L662.1,426.7 L662.8,424.9 L664.0,425.4 L665.2,427.9 L665.8,428.2 L666.5,428.4 L666.9,426.4 L668.1,426.7 L669.4,429.1 L670.1,429.2 L670.7,429.3 L670.8,427.1 L672.0,427.2 L673.5,429.5 L674.1,429.5 L674.7,429.4 L674.5,427.1 L675.6,426.9 L677.3,429.0 L677.8,428.9 L678.4,428.7 L677.9,426.2 L678.9,425.8 L680.7,427.7Z" fill="#fff" stroke="none" stroke-width="1.05" /><path d="M681.0,424.7 L703.6,411.9" fill="none" stroke="#737373" stroke-width="0.8" /><path d="M681.8,424.1 L704.4,411.2" fill="none" stroke="#737373" stroke-width="0.8" /><path d="M681.7,427.2 L704.3,414.4" fill="none" stroke="#737373" stroke-width="0.6" /><path d="M683.7,425.7 L706.3,412.9" fill="none" stroke="#737373" stroke-width="0.6" /><path d="M683.6,422.4 L706.2,409.6" fill="none" stroke="#737373" stroke-width="0.8" /><path d="M684.3,421.6 L706.9,408.7" fill="none" stroke="#737373" stroke-width="0.8" /><path d="M684.5,424.9 L707.1,412.1" fill="none" stroke="#737373" stroke-width="0.6" /><path d="M644.5,351.3 L667.1,338.5" fill="none" stroke="#737373" stroke-width="0.8" /><path d="M643.4,351.5 L666.0,338.7" fill="none" stroke="#737373" stroke-width="0.8" /><path d="M641.7,349.4 L664.3,336.6" fill="none" stroke="#737373" stroke-width="0.6" /><path d="M641.1,352.2 L663.7,339.3" fill="none" stroke="#737373" stroke-width="0.8" /><path d="M640.1,352.6 L662.7,339.7" fill="none" stroke="#737373" stroke-width="0.8" /><path d="M640.6,349.7 L663.3,336.9" fill="none" stroke="#737373" stroke-width="0.6" /><path d="M638.3,350.7 L660.9,337.8" fill="none" stroke="#737373" stroke-width="0.6" /><path d="M638.0,353.7 L660.6,340.9" fill="none" stroke="#737373" stroke-width="0.8" /><path d="M637.2,354.3 L659.8,341.5" fill="none" stroke="#737373" stroke-width="0.8" /><path d="M637.3,351.2 L660.0,338.4" fill="none" stroke="#737373" stroke-width="0.6" /><path d="M635.3,352.7 L657.9,339.9" fill="none" stroke="#737373" stroke-width="0.6" /><path d="M635.4,356.0 L658.0,343.2" fill="none" stroke="#737373" stroke-width="0.8" /><path d="M634.7,356.8 L657.4,344.0" fill="none" stroke="#737373" stroke-width="0.8" /><path d="M634.5,353.5 L657.1,340.7" fill="none" stroke="#737373" stroke-width="0.6" /><path d="M632.8,355.5 L655.4,342.7" fill="none" stroke="#737373" stroke-width="0.6" /><path d="M633.3,359.0 L655.9,346.2" fill="none" stroke="#737373" stroke-width="0.8" /><path d="M632.8,360.0 L655.4,347.2" fill="none" stroke="#737373" stroke-width="0.8" /><path d="M632.1,356.5 L654.8,343.7" fill="none" stroke="#737373" stroke-width="0.6" /><path d="M630.8,359.0 L653.5,346.2" fill="none" stroke="#737373" stroke-width="0.6" /><path d="M631.7,362.6 L654.4,349.8" fill="none" stroke="#737373" stroke-width="0.8" /><path d="M631.4,363.8 L654.0,350.9" fill="none" stroke="#737373" stroke-width="0.8" /><path d="M630.4,360.2 L653.0,347.4" fill="none" stroke="#737373" stroke-width="0.6" /><path d="M629.5,363.1 L652.1,350.3" fill="none" stroke="#737373" stroke-width="0.6" /><path d="M630.7,366.7 L653.4,353.9" fill="none" stroke="#737373" stroke-width="0.8" /><path d="M630.5,368.0 L653.2,355.2" fill="none" stroke="#737373" stroke-width="0.8" /><path d="M629.2,364.4 L651.8,351.6" fill="none" stroke="#737373" stroke-width="0.6" /><path d="M628.7,367.7 L651.3,354.9" fill="none" stroke="#737373" stroke-width="0.6" /><path d="M630.3,371.3 L652.9,358.5" fill="none" stroke="#737373" stroke-width="0.8" /><path d="M630.3,372.7 L652.9,359.9" fill="none" stroke="#737373" stroke-width="0.8" /><path d="M628.6,369.2 L651.2,356.4" fill="none" stroke="#737373" stroke-width="0.6" /><path d="M628.6,372.8 L651.2,360.0" fill="none" stroke="#737373" stroke-width="0.6" /><path d="M630.5,376.2 L653.1,363.4" fill="none" stroke="#737373" stroke-width="0.8" /><path d="M630.7,377.8 L653.3,365.0" fill="none" stroke="#737373" stroke-width="0.8" /><path d="M628.7,374.4 L651.3,361.6" fill="none" stroke="#737373" stroke-width="0.6" /><path d="M629.1,378.2 L651.7,365.4" fill="none" stroke="#737373" stroke-width="0.6" /><path d="M631.2,381.5 L653.9,368.6" fill="none" stroke="#737373" stroke-width="0.8" /><path d="M631.6,383.1 L654.2,370.2" fill="none" stroke="#737373" stroke-width="0.8" /><path d="M629.3,379.9 L652.0,367.1" fill="none" stroke="#737373" stroke-width="0.6" /><path d="M630.2,383.8 L652.8,371.0" fill="none" stroke="#737373" stroke-width="0.6" /><path d="M632.6,386.8 L655.2,374.0" fill="none" stroke="#737373" stroke-width="0.8" /><path d="M633.1,388.5 L655.7,375.6" fill="none" stroke="#737373" stroke-width="0.8" /><path d="M630.6,385.5 L653.3,372.7" fill="none" stroke="#737373" stroke-width="0.6" /><path d="M631.9,389.6 L654.5,376.7" fill="none" stroke="#737373" stroke-width="0.6" /><path d="M634.5,392.3 L657.1,379.4" fill="none" stroke="#737373" stroke-width="0.8" /><path d="M635.1,393.9 L657.8,381.1" fill="none" stroke="#737373" stroke-width="0.8" /><path d="M632.5,391.3 L655.1,378.5" fill="none" stroke="#737373" stroke-width="0.6" /><path d="M634.2,395.3 L656.8,382.5" fill="none" stroke="#737373" stroke-width="0.6" /><path d="M636.9,397.6 L659.5,384.8" fill="none" stroke="#737373" stroke-width="0.8" /><path d="M637.7,399.2 L660.3,386.4" fill="none" stroke="#737373" stroke-width="0.8" /><path d="M634.9,397.0 L657.6,384.2" fill="none" stroke="#737373" stroke-width="0.6" /><path d="M637.0,400.9 L659.6,388.1" fill="none" stroke="#737373" stroke-width="0.6" /><path d="M639.7,402.8 L662.3,390.0" fill="none" stroke="#737373" stroke-width="0.8" /><path d="M640.7,404.3 L663.3,391.5" fill="none" stroke="#737373" stroke-width="0.8" /><path d="M637.9,402.5 L660.5,389.7" fill="none" stroke="#737373" stroke-width="0.6" /><path d="M640.2,406.3 L662.8,393.4" fill="none" stroke="#737373" stroke-width="0.6" /><path d="M643.0,407.7 L665.6,394.9" fill="none" stroke="#737373" stroke-width="0.8" /><path d="M644.0,409.1 L666.6,396.3" fill="none" stroke="#737373" stroke-width="0.8" /><path d="M641.3,407.8 L663.9,395.0" fill="none" stroke="#737373" stroke-width="0.6" /><path d="M643.8,411.3 L666.5,398.5" fill="none" stroke="#737373" stroke-width="0.6" /><path d="M646.6,412.2 L669.2,399.4" fill="none" stroke="#737373" stroke-width="0.8" /><path d="M647.7,413.5 L670.3,400.7" fill="none" stroke="#737373" stroke-width="0.8" /><path d="M645.0,412.7 L667.6,399.9" fill="none" stroke="#737373" stroke-width="0.6" /><path d="M647.8,415.8 L670.4,403.0" fill="none" stroke="#737373" stroke-width="0.6" /><path d="M650.4,416.3 L673.0,403.5" fill="none" stroke="#737373" stroke-width="0.8" /><path d="M651.6,417.4 L674.2,404.6" fill="none" stroke="#737373" stroke-width="0.8" /><path d="M649.0,417.1 L671.7,404.3" fill="none" stroke="#737373" stroke-width="0.6" /><path d="M652.0,419.9 L674.6,407.1" fill="none" stroke="#737373" stroke-width="0.6" /><path d="M654.5,419.8 L677.1,407.0" fill="none" stroke="#737373" stroke-width="0.8" /><path d="M655.7,420.7 L678.3,407.9" fill="none" stroke="#737373" stroke-width="0.8" /><path d="M653.3,421.0 L675.9,408.1" fill="none" stroke="#737373" stroke-width="0.6" /><path d="M656.4,423.3 L679.0,410.5" fill="none" stroke="#737373" stroke-width="0.6" /><path d="M658.6,422.7 L681.2,409.9" fill="none" stroke="#737373" stroke-width="0.8" /><path d="M659.9,423.4 L682.5,410.6" fill="none" stroke="#737373" stroke-width="0.8" /><path d="M657.7,424.2 L680.3,411.3" fill="none" stroke="#737373" stroke-width="0.6" /><path d="M660.8,426.0 L683.4,413.2" fill="none" stroke="#737373" stroke-width="0.6" /><path d="M662.8,424.9 L685.4,412.1" fill="none" stroke="#737373" stroke-width="0.8" /><path d="M664.0,425.4 L686.6,412.6" fill="none" stroke="#737373" stroke-width="0.8" /><path d="M662.1,426.7 L684.7,413.8" fill="none" stroke="#737373" stroke-width="0.6" /><path d="M665.2,427.9 L687.8,415.1" fill="none" stroke="#737373" stroke-width="0.6" /><path d="M666.9,426.4 L689.5,413.6" fill="none" stroke="#737373" stroke-width="0.8" /><path d="M668.1,426.7 L690.7,413.9" fill="none" stroke="#737373" stroke-width="0.8" /><path d="M666.5,428.4 L689.1,415.6" fill="none" stroke="#737373" stroke-width="0.6" /><path d="M669.4,429.1 L692.1,416.3" fill="none" stroke="#737373" stroke-width="0.6" /><path d="M670.8,427.1 L693.4,414.3" fill="none" stroke="#737373" stroke-width="0.8" /><path d="M672.0,427.2 L694.6,414.4" fill="none" stroke="#737373" stroke-width="0.8" /><path d="M670.7,429.3 L693.3,416.5" fill="none" stroke="#737373" stroke-width="0.6" /><path d="M673.5,429.5 L696.1,416.7" fill="none" stroke="#737373" stroke-width="0.6" /><path d="M674.5,427.1 L697.2,414.2" fill="none" stroke="#737373" stroke-width="0.8" /><path d="M675.6,426.9 L698.2,414.1" fill="none" stroke="#737373" stroke-width="0.8" /><path d="M674.7,429.4 L697.3,416.6" fill="none" stroke="#737373" stroke-width="0.6" /><path d="M677.3,429.0 L699.9,416.2" fill="none" stroke="#737373" stroke-width="0.6" /><path d="M677.9,426.2 L700.6,413.4" fill="none" stroke="#737373" stroke-width="0.8" /><path d="M678.9,425.8 L701.5,413.0" fill="none" stroke="#737373" stroke-width="0.8" /><path d="M678.4,428.7 L701.0,415.9" fill="none" stroke="#737373" stroke-width="0.6" /><path d="M680.7,427.7 L703.3,414.9" fill="none" stroke="#737373" stroke-width="0.6" /><path d="M703.8,414.7 L704.3,414.4 L703.6,411.9 L704.4,411.2 L706.3,412.9 L706.7,412.5 L707.1,412.1 L706.2,409.6 L706.9,408.7 L708.8,410.1 L709.2,409.6 L709.5,409.1 L708.3,406.6 L708.8,405.6 L710.8,406.6 L711.0,406.0 L711.3,405.4 L709.9,403.0 L710.2,401.8 L712.2,402.5 L712.3,401.8 L712.4,401.1 L710.9,398.9 L711.1,397.5 L712.9,397.9 L713.0,397.1 L713.0,396.4 L711.3,394.3 L711.3,392.8 L713.1,392.8 L713.0,392.0 L713.0,391.2 L711.1,389.3 L711.0,387.8 L712.6,387.4 L712.4,386.5 L712.3,385.7 L710.4,384.1 L710.0,382.5 L711.4,381.8 L711.2,380.9 L711.0,380.0 L709.0,378.8 L708.5,377.1 L709.7,376.0 L709.4,375.2 L709.1,374.3 L707.2,373.3 L706.5,371.7 L707.5,370.3 L707.1,369.4 L706.7,368.6 L704.8,368.0 L703.9,366.4 L704.7,364.7 L704.2,363.9 L703.7,363.0 L701.9,362.8 L701.0,361.3 L701.4,359.3 L700.9,358.5 L700.4,357.8 L698.6,357.9 L697.6,356.5 L697.8,354.3 L697.2,353.6 L696.6,352.9 L695.1,353.3 L693.9,352.1 L693.8,349.7 L693.2,349.1 L692.6,348.5 L691.2,349.3 L690.0,348.2 L689.6,345.7 L689.0,345.2 L688.3,344.6 L687.2,345.8 L685.9,344.8 L685.3,342.3 L684.6,341.9 L683.9,341.4 L683.0,342.9 L681.8,342.1 L680.9,339.6 L680.2,339.3 L679.5,338.9 L678.8,340.7 L677.6,340.2 L676.5,337.6 L675.8,337.4 L675.2,337.2 L674.8,339.2 L673.5,338.9 L672.2,336.5 L671.6,336.4 L670.9,336.3 L670.8,338.5 L669.7,338.4 L668.1,336.1 L667.5,336.1 L666.9,336.2 L667.1,338.5 L666.0,338.7 L664.3,336.6 L663.8,336.7 L663.3,336.9 L663.7,339.3 L662.7,339.7 L660.9,337.8 L660.4,338.1 L660.0,338.4 L660.6,340.9 L659.8,341.5 L657.9,339.9 L657.5,340.3 L657.1,340.7 L658.0,343.2 L657.4,344.0 L655.4,342.7 L655.1,343.2 L654.8,343.7 L655.9,346.2 L655.4,347.2 L653.5,346.2 L653.2,346.8 L653.0,347.4 L654.4,349.8 L654.0,350.9 L652.1,350.3 L651.9,350.9 L651.8,351.6 L653.4,353.9 L653.2,355.2 L651.3,354.9 L651.3,355.6 L651.2,356.4 L652.9,358.5 L652.9,359.9 L651.2,360.0 L651.2,360.8 L651.3,361.6 L653.1,363.4 L653.3,365.0 L651.7,365.4 L651.8,366.2 L652.0,367.1 L653.9,368.6 L654.2,370.2 L652.8,371.0 L653.0,371.9 L653.3,372.7 L655.2,374.0 L655.7,375.6 L654.5,376.7 L654.8,377.6 L655.1,378.5 L657.1,379.4 L657.8,381.1 L656.8,382.5 L657.2,383.3 L657.6,384.2 L659.5,384.8 L660.3,386.4 L659.6,388.1 L660.0,388.9 L660.5,389.7 L662.3,390.0 L663.3,391.5 L662.8,393.4 L663.3,394.2 L663.9,395.0 L665.6,394.9 L666.6,396.3 L666.5,398.5 L667.0,399.2 L667.6,399.9 L669.2,399.4 L670.3,400.7 L670.4,403.0 L671.0,403.7 L671.7,404.3 L673.0,403.5 L674.2,404.6 L674.6,407.1 L675.3,407.6 L675.9,408.1 L677.1,407.0 L678.3,407.9 L679.0,410.5 L679.6,410.9 L680.3,411.3 L681.2,409.9 L682.5,410.6 L683.4,413.2 L684.0,413.5 L684.7,413.8 L685.4,412.1 L686.6,412.6 L687.8,415.1 L688.4,415.4 L689.1,415.6 L689.5,413.6 L690.7,413.9 L692.1,416.3 L692.7,416.4 L693.3,416.5 L693.4,414.3 L694.6,414.4 L696.1,416.7 L696.7,416.6 L697.3,416.6 L697.2,414.2 L698.2,414.1 L699.9,416.2 L700.4,416.1 L701.0,415.9 L700.6,413.4 L701.5,413.0 L703.3,414.9Z" fill="none" stroke="#737373" stroke-width="0.8" /><path d="M622.0,406.0 L672.0,382.0" fill="none" stroke="#556" stroke-width="1.4" stroke-dasharray="22 4 3 4"/></g><path d="M681.2,427.5 L681.7,427.2 L681.0,424.7 L681.8,424.1 L683.7,425.7 L684.1,425.3 L684.5,424.9 L683.6,422.4 L684.3,421.6 L686.2,422.9 L686.5,422.4 L686.9,421.9 L685.7,419.4 L686.2,418.4 L688.2,419.4 L688.4,418.8 L688.6,418.2 L687.3,415.8 L687.6,414.6 L689.5,415.3 L689.7,414.6 L689.8,414.0 L688.3,411.7 L688.5,410.4 L690.3,410.7 L690.4,409.9 L690.4,409.2 L688.7,407.1 L688.7,405.7 L690.4,405.6 L690.4,404.8 L690.3,404.0 L688.5,402.2 L688.3,400.6 L689.9,400.2 L689.8,399.4 L689.7,398.5 L687.8,396.9 L687.4,395.3 L688.8,394.6 L688.6,393.7 L688.4,392.9 L686.4,391.6 L685.9,389.9 L687.1,388.8 L686.8,388.0 L686.5,387.1 L684.5,386.1 L683.9,384.5 L684.8,383.1 L684.4,382.3 L684.1,381.4 L682.1,380.8 L681.3,379.2 L682.0,377.5 L681.6,376.7 L681.1,375.9 L679.3,375.6 L678.3,374.1 L678.8,372.1 L678.3,371.4 L677.7,370.6 L676.0,370.7 L675.0,369.3 L675.2,367.1 L674.6,366.4 L674.0,365.7 L672.4,366.2 L671.3,364.9 L671.2,362.6 L670.6,361.9 L670.0,361.3 L668.6,362.1 L667.4,361.0 L667.0,358.5 L666.4,358.0 L665.7,357.4 L664.5,358.6 L663.3,357.7 L662.6,355.1 L662.0,354.7 L661.3,354.2 L660.4,355.7 L659.1,355.0 L658.2,352.4 L657.6,352.1 L656.9,351.7 L656.2,353.5 L655.0,353.0 L653.8,350.5 L653.2,350.2 L652.5,350.0 L652.1,352.0 L650.9,351.7 L649.6,349.3 L648.9,349.2 L648.3,349.1 L648.2,351.3 L647.0,351.2 L645.5,348.9 L644.9,348.9 L644.3,349.0 L644.5,351.3 L643.4,351.5 L641.7,349.4 L641.2,349.5 L640.6,349.7 L641.1,352.2 L640.1,352.6 L638.3,350.7 L637.8,350.9 L637.3,351.2 L638.0,353.7 L637.2,354.3 L635.3,352.7 L634.9,353.1 L634.5,353.5 L635.4,356.0 L634.7,356.8 L632.8,355.5 L632.5,356.0 L632.1,356.5 L633.3,359.0 L632.8,360.0 L630.8,359.0 L630.6,359.6 L630.4,360.2 L631.7,362.6 L631.4,363.8 L629.5,363.1 L629.3,363.8 L629.2,364.4 L630.7,366.7 L630.5,368.0 L628.7,367.7 L628.6,368.5 L628.6,369.2 L630.3,371.3 L630.3,372.7 L628.6,372.8 L628.6,373.6 L628.7,374.4 L630.5,376.2 L630.7,377.8 L629.1,378.2 L629.2,379.0 L629.3,379.9 L631.2,381.5 L631.6,383.1 L630.2,383.8 L630.4,384.7 L630.6,385.5 L632.6,386.8 L633.1,388.5 L631.9,389.6 L632.2,390.4 L632.5,391.3 L634.5,392.3 L635.1,393.9 L634.2,395.3 L634.6,396.1 L634.9,397.0 L636.9,397.6 L637.7,399.2 L637.0,400.9 L637.4,401.7 L637.9,402.5 L639.7,402.8 L640.7,404.3 L640.2,406.3 L640.7,407.0 L641.3,407.8 L643.0,407.7 L644.0,409.1 L643.8,411.3 L644.4,412.0 L645.0,412.7 L646.6,412.2 L647.7,413.5 L647.8,415.8 L648.4,416.5 L649.0,417.1 L650.4,416.3 L651.6,417.4 L652.0,419.9 L652.6,420.4 L653.3,421.0 L654.5,419.8 L655.7,420.7 L656.4,423.3 L657.0,423.7 L657.7,424.2 L658.6,422.7 L659.9,423.4 L660.8,426.0 L661.4,426.3 L662.1,426.7 L662.8,424.9 L664.0,425.4 L665.2,427.9 L665.8,428.2 L666.5,428.4 L666.9,426.4 L668.1,426.7 L669.4,429.1 L670.1,429.2 L670.7,429.3 L670.8,427.1 L672.0,427.2 L673.5,429.5 L674.1,429.5 L674.7,429.4 L674.5,427.1 L675.6,426.9 L677.3,429.0 L677.8,428.9 L678.4,428.7 L677.9,426.2 L678.9,425.8 L680.7,427.7Z" fill="none" stroke="#737373" stroke-width="0.9" /><path d="M722.9,345.2 L722.7,345.3 L722.6,345.5 L722.4,345.6 L722.3,345.8 L722.1,346.0 L722.0,346.2 L721.9,346.4 L721.9,346.6 L721.8,346.9 L721.8,347.2 L721.7,347.4 L721.7,347.7 L721.7,348.0 L721.8,348.3 L721.8,348.6 L721.9,349.0 L721.9,349.3 L722.0,349.6 L722.1,349.9 L722.2,350.3 L722.4,350.6 L722.5,350.9 L722.7,351.2 L722.8,351.6 L723.0,351.9 L723.2,352.2 L723.4,352.5 L723.6,352.7 L723.9,353.0 L724.1,353.3 L724.3,353.5 L724.6,353.7 L724.8,354.0 L725.1,354.2 L725.3,354.3 L725.6,354.5 L725.8,354.6 L726.1,354.7 L726.3,354.8 L726.6,354.9 L726.8,355.0 L727.0,355.0 L727.3,355.0 L727.5,355.0 L727.7,355.0 L727.9,354.9 L728.1,354.9 L728.3,354.8 L730.1,353.8 L730.2,353.7 L730.4,353.6 L730.5,353.4 L730.7,353.2 L730.8,353.0 L730.9,352.8 L731.0,352.6 L731.1,352.4 L731.1,352.1 L731.2,351.9 L731.2,351.6 L731.2,351.3 L731.2,351.0 L731.2,350.7 L731.1,350.4 L731.1,350.1 L731.0,349.7 L730.9,349.4 L730.8,349.1 L730.7,348.7 L730.6,348.4 L730.4,348.1 L730.3,347.8 L730.1,347.4 L729.9,347.1 L729.7,346.8 L729.5,346.5 L729.3,346.3 L729.1,346.0 L728.9,345.7 L728.6,345.5 L728.4,345.3 L728.1,345.1 L727.9,344.9 L727.6,344.7 L727.4,344.5 L727.1,344.4 L726.9,344.3 L726.6,344.2 L726.4,344.1 L726.1,344.0 L725.9,344.0 L725.7,344.0 L725.4,344.0 L725.2,344.0 L725.0,344.1 L724.8,344.1 L724.6,344.2ZM727.1,352.6 L727.3,352.5 L727.4,352.3 L727.5,352.1 L727.6,351.8 L727.7,351.6 L727.7,351.2 L727.7,350.9 L727.6,350.6 L727.6,350.2 L727.4,349.9 L727.3,349.5 L727.1,349.1 L726.9,348.8 L726.7,348.5 L726.4,348.2 L726.2,348.0 L725.9,347.7 L725.6,347.6 L725.3,347.4 L725.1,347.3 L724.8,347.3 L724.6,347.3 L724.3,347.3 L724.1,347.4 L723.9,347.5 L723.8,347.7 L723.7,347.9 L723.6,348.2 L723.5,348.4 L723.5,348.8 L723.5,349.1 L723.6,349.4 L723.6,349.8 L723.8,350.1 L723.9,350.5 L724.1,350.9 L724.3,351.2 L724.5,351.5 L724.8,351.8 L725.0,352.0 L725.3,352.3 L725.6,352.4 L725.9,352.6 L726.1,352.7 L726.4,352.7 L726.6,352.7 L726.9,352.7 L727.1,352.6Z" fill="#fff" stroke="#737373" stroke-width="0" fill-rule="evenodd" stroke="none"/><path d="M722.9,345.2 L722.7,345.3 L722.6,345.5 L722.4,345.6 L722.3,345.8 L722.1,346.0 L722.0,346.2 L721.9,346.4 L721.9,346.6 L721.8,346.9 L721.8,347.2 L721.7,347.4 L721.7,347.7 L721.7,348.0 L721.8,348.3 L721.8,348.6 L721.9,349.0 L721.9,349.3 L722.0,349.6 L722.1,349.9 L722.2,350.3 L722.4,350.6 L722.5,350.9 L722.7,351.2 L722.8,351.6 L723.0,351.9 L723.2,352.2 L723.4,352.5 L723.6,352.7 L723.9,353.0 L724.1,353.3 L724.3,353.5 L724.6,353.7 L724.8,354.0 L725.1,354.2 L725.3,354.3 L725.6,354.5 L725.8,354.6 L726.1,354.7 L726.3,354.8 L726.6,354.9 L726.8,355.0 L727.0,355.0 L727.3,355.0 L727.5,355.0 L727.7,355.0 L727.9,354.9 L728.1,354.9 L728.3,354.8 L730.1,353.8 L730.2,353.7 L730.4,353.6 L730.5,353.4 L730.7,353.2 L730.8,353.0 L730.9,352.8 L731.0,352.6 L731.1,352.4 L731.1,352.1 L731.2,351.9 L731.2,351.6 L731.2,351.3 L731.2,351.0 L731.2,350.7 L731.1,350.4 L731.1,350.1 L731.0,349.7 L730.9,349.4 L730.8,349.1 L730.7,348.7 L730.6,348.4 L730.4,348.1 L730.3,347.8 L730.1,347.4 L729.9,347.1 L729.7,346.8 L729.5,346.5 L729.3,346.3 L729.1,346.0 L728.9,345.7 L728.6,345.5 L728.4,345.3 L728.1,345.1 L727.9,344.9 L727.6,344.7 L727.4,344.5 L727.1,344.4 L726.9,344.3 L726.6,344.2 L726.4,344.1 L726.1,344.0 L725.9,344.0 L725.7,344.0 L725.4,344.0 L725.2,344.0 L725.0,344.1 L724.8,344.1 L724.6,344.2Z" fill="none" stroke="#737373" stroke-width="1.05" /><ellipse cx="725.6" cy="350.0" rx="5.5" ry="3.2" transform="rotate(60.5 725.6 350.0)" fill="none" stroke="#737373" stroke-width="1.05" /><ellipse cx="725.6" cy="350.0" rx="3.0" ry="1.7" transform="rotate(60.5 725.6 350.0)" fill="none" stroke="#737373" stroke-width="1.05" /><g clip-path="url(#c12)"><ellipse cx="727.3" cy="349.0" rx="3.0" ry="1.7" transform="rotate(60.5 727.3 349.0)" fill="none" stroke="#737373" stroke-width="1.05" /></g><g transform="translate(1,3)"><path d="M790.5,269.8 L789.4,270.5 L788.4,271.3 L787.5,272.2 L786.6,273.3 L785.9,274.5 L785.2,275.7 L784.7,277.1 L784.2,278.6 L783.8,280.1 L783.6,281.8 L783.4,283.5 L783.3,285.3 L783.4,287.1 L783.5,289.0 L783.7,291.0 L784.1,292.9 L784.5,295.0 L785.1,297.0 L785.7,299.0 L786.4,301.1 L787.2,303.1 L788.1,305.1 L789.1,307.1 L790.2,309.0 L791.3,310.9 L792.5,312.8 L793.8,314.6 L795.1,316.4 L796.5,318.0 L797.9,319.6 L799.3,321.1 L800.8,322.5 L802.4,323.8 L803.9,325.0 L805.5,326.1 L807.0,327.1 L808.6,328.0 L810.1,328.7 L811.7,329.3 L813.2,329.8 L814.7,330.2 L816.2,330.4 L817.6,330.5 L819.0,330.4 L820.4,330.3 L821.6,330.0 L822.8,329.5 L824.0,328.9 L841.4,319.1 L842.5,318.4 L843.5,317.6 L844.4,316.6 L845.2,315.6 L846.0,314.4 L846.7,313.1 L847.2,311.8 L847.7,310.3 L848.1,308.7 L848.3,307.1 L848.5,305.4 L848.6,303.6 L848.5,301.7 L848.4,299.8 L848.1,297.9 L847.8,295.9 L847.4,293.9 L846.8,291.9 L846.2,289.9 L845.5,287.8 L844.6,285.8 L843.7,283.8 L842.8,281.8 L841.7,279.8 L840.6,277.9 L839.4,276.1 L838.1,274.2 L836.8,272.5 L835.4,270.8 L834.0,269.2 L832.5,267.7 L831.0,266.3 L829.5,265.0 L828.0,263.8 L826.4,262.7 L824.9,261.7 L823.3,260.9 L821.7,260.1 L820.2,259.5 L818.7,259.1 L817.2,258.7 L815.7,258.5 L814.3,258.4 L812.9,258.4 L811.5,258.6 L810.2,258.9 L809.0,259.4 L807.9,259.9Z" fill="none" stroke="#e07ae4" stroke-width="1.1" stroke-dasharray="4 1.6"/><path d="M832.7,324.0 L833.8,323.3 L834.8,322.5 L835.7,321.6 L836.5,320.5 L837.3,319.3 L838.0,318.1 L838.5,316.7 L839.0,315.2 L839.4,313.7 L839.6,312.0 L839.8,310.3 L839.9,308.5 L839.8,306.7 L839.7,304.8 L839.4,302.8 L839.1,300.8 L838.7,298.8 L838.1,296.8 L837.5,294.8 L836.8,292.7 L835.9,290.7 L835.0,288.7 L834.1,286.7 L833.0,284.8 L831.9,282.8 L830.7,281.0 L829.4,279.2 L828.1,277.4 L826.7,275.8 L825.3,274.2 L823.8,272.7 L822.3,271.3 L820.8,270.0 L819.3,268.8 L817.7,267.7 L816.2,266.7 L814.6,265.8 L813.0,265.1 L811.5,264.5 L810.0,264.0 L808.5,263.6 L807.0,263.4 L805.6,263.3 L804.2,263.4 L802.8,263.5 L801.5,263.8 L800.3,264.3 L799.2,264.9" fill="none" stroke="#e07ae4" stroke-width="1.1" stroke-dasharray="4 1.6"/><path d="M750.0,283.5 L748.7,284.4 L747.4,285.4 L746.3,286.6 L745.2,287.9 L744.3,289.3 L743.5,290.9 L742.8,292.6 L742.2,294.4 L741.8,296.3 L741.4,298.4 L741.2,300.5 L741.2,302.7 L741.2,305.0 L741.4,307.3 L741.7,309.7 L742.1,312.1 L742.6,314.6 L743.3,317.1 L744.1,319.6 L745.0,322.2 L746.0,324.7 L747.1,327.1 L748.3,329.6 L749.6,332.0 L751.0,334.4 L752.5,336.7 L754.1,338.9 L755.7,341.1 L757.4,343.1 L759.1,345.1 L760.9,346.9 L762.8,348.7 L764.7,350.3 L766.6,351.8 L768.5,353.1 L770.4,354.4 L772.4,355.4 L774.3,356.3 L776.2,357.1 L778.1,357.7 L779.9,358.1 L781.8,358.4 L783.5,358.5 L785.2,358.5 L786.9,358.2 L788.5,357.9 L790.0,357.3 L791.4,356.6 L829.7,334.9 L831.0,334.1 L832.3,333.0 L833.4,331.9 L834.4,330.6 L835.4,329.1 L836.2,327.6 L836.9,325.9 L837.5,324.0 L837.9,322.1 L838.2,320.1 L838.4,318.0 L838.5,315.8 L838.5,313.5 L838.3,311.1 L838.0,308.7 L837.6,306.3 L837.0,303.8 L836.4,301.3 L835.6,298.8 L834.7,296.3 L833.7,293.8 L832.6,291.3 L831.4,288.8 L830.1,286.4 L828.7,284.1 L827.2,281.8 L825.6,279.5 L824.0,277.4 L822.3,275.3 L820.5,273.4 L818.7,271.5 L816.9,269.8 L815.0,268.1 L813.1,266.7 L811.2,265.3 L809.2,264.1 L807.3,263.0 L805.4,262.1 L803.5,261.4 L801.6,260.8 L799.7,260.3 L797.9,260.0 L796.1,259.9 L794.4,260.0 L792.8,260.2 L791.2,260.6 L789.7,261.1 L788.3,261.8Z" fill="none" stroke="#e07ae4" stroke-width="1.1" stroke-dasharray="4 1.6"/><path d="M796.2,353.7 L798.6,352.5 L800.8,350.9 L802.7,348.9 L804.3,346.5 L805.5,343.6 L806.5,340.5 L807.0,337.0 L807.2,333.3 L807.0,329.4 L806.5,325.3 L805.6,321.1 L804.4,316.8 L802.8,312.5 L800.9,308.3 L798.7,304.2 L796.3,300.2 L793.6,296.4 L790.8,292.9 L787.8,289.6 L784.6,286.7 L781.4,284.1 L778.1,281.9 L774.8,280.2 L771.6,278.9 L768.4,278.1 L765.3,277.7 L762.4,277.8 L759.7,278.4 L757.2,279.5 L755.0,281.0" fill="none" stroke="#e07ae4" stroke-width="1.1" stroke-dasharray="4 1.6"/><path d="M801.4,350.7 L803.8,349.6 L806.0,348.0 L807.9,345.9 L809.5,343.5 L810.8,340.7 L811.7,337.5 L812.2,334.1 L812.4,330.4 L812.3,326.4 L811.7,322.3 L810.8,318.1 L809.6,313.9 L808.0,309.6 L806.1,305.4 L804.0,301.2 L801.5,297.2 L798.9,293.4 L796.0,289.9 L793.0,286.6 L789.8,283.7 L786.6,281.1 L783.3,279.0 L780.0,277.2 L776.8,275.9 L773.6,275.1 L770.5,274.7 L767.6,274.9 L764.9,275.4 L762.4,276.5 L760.2,278.0" fill="none" stroke="#e07ae4" stroke-width="1.1" stroke-dasharray="4 1.6"/><path d="M813.6,343.8 L816.0,342.7 L818.2,341.1 L820.1,339.0 L821.7,336.6 L822.9,333.8 L823.9,330.6 L824.4,327.2 L824.6,323.5 L824.4,319.5 L823.9,315.4 L823.0,311.2 L821.8,307.0 L820.2,302.7 L818.3,298.5 L816.1,294.3 L813.7,290.3 L811.0,286.5 L808.2,283.0 L805.2,279.7 L802.0,276.8 L798.8,274.2 L795.5,272.1 L792.2,270.3 L789.0,269.0 L785.8,268.2 L782.7,267.8 L779.8,268.0 L777.1,268.5 L774.6,269.6 L772.4,271.1" fill="none" stroke="#e07ae4" stroke-width="1.1" stroke-dasharray="4 1.6"/><path d="M822.3,338.9 L824.7,337.7 L826.9,336.1 L828.8,334.1 L830.4,331.7 L831.6,328.9 L832.6,325.7 L833.1,322.2 L833.3,318.5 L833.1,314.6 L832.6,310.5 L831.7,306.3 L830.5,302.0 L828.9,297.8 L827.0,293.5 L824.8,289.4 L822.4,285.4 L819.7,281.6 L816.9,278.1 L813.9,274.8 L810.7,271.9 L807.5,269.3 L804.2,267.1 L800.9,265.4 L797.7,264.1 L794.5,263.3 L791.4,262.9 L788.5,263.0 L785.8,263.6 L783.3,264.7 L781.1,266.2" fill="none" stroke="#e07ae4" stroke-width="1.1" stroke-dasharray="4 1.6"/><path d="M821.9,335.0 L824.9,334.6 L827.7,333.7 L830.1,332.2 L832.3,330.2 L834.1,327.8 L835.5,324.8 L836.4,321.4 L837.0,317.7 L837.1,313.7 L836.8,309.5 L836.0,305.0 L834.9,300.5 L833.3,295.9 L831.4,291.4 L829.1,287.0 L826.5,282.8 L823.6,278.8 L820.5,275.1 L817.2,271.7 L813.8,268.8 L810.3,266.4 L806.8,264.4 L803.3,263.0 L799.9,262.1 L796.7,261.8 L793.6,262.0 L790.8,262.8 L788.3,264.2 L786.1,266.1 L784.2,268.5" fill="none" stroke="#e07ae4" stroke-width="1.1" stroke-dasharray="4 1.6"/><path d="M793.9,361.0 L794.3,360.7 L794.7,360.5 L795.1,360.2 L795.5,359.9 L796.1,360.1 L797.4,361.1 L798.2,361.5 L799.0,361.7 L799.6,361.7 L800.1,361.5 L800.5,361.2 L800.9,360.8 L801.2,360.3 L801.3,359.7 L801.4,358.9 L801.3,357.9 L801.0,356.8 L800.3,355.1 L800.3,354.4 L800.5,353.9 L800.8,353.5 L801.0,353.0 L801.2,352.5 L801.5,352.0 L801.7,351.5 L801.9,351.0 L802.1,350.4 L802.2,349.9 L802.4,349.4 L802.6,348.8 L802.7,348.2 L802.9,347.7 L803.0,347.1 L803.1,346.5 L803.6,346.2 L804.8,346.4 L805.5,346.3 L806.0,345.9 L806.4,345.5 L806.7,344.9 L806.8,344.3 L806.9,343.6 L806.8,342.8 L806.6,341.9 L806.3,341.0 L805.9,340.0 L805.2,339.0 L804.0,337.6 L803.7,336.8 L803.7,336.1 L803.6,335.4 L803.6,334.7 L803.5,334.0 L803.4,333.3 L803.3,332.6 L803.2,331.9 L803.1,331.1 L803.0,330.4 L802.9,329.7 L802.7,328.9 L802.6,328.2 L802.4,327.5 L802.2,326.7 L802.1,326.0 L802.3,325.3 L803.1,324.7 L803.5,324.0 L803.6,323.2 L803.7,322.4 L803.6,321.6 L803.4,320.8 L803.1,320.0 L802.7,319.2 L802.3,318.4 L801.7,317.6 L801.0,316.8 L800.1,316.1 L798.8,315.5 L798.3,314.7 L798.0,314.0 L797.6,313.3 L797.3,312.5 L796.9,311.8 L796.6,311.0 L796.2,310.3 L795.9,309.6 L795.5,308.9 L795.1,308.1 L794.7,307.4 L794.3,306.7 L793.9,306.0 L793.5,305.3 L793.0,304.6 L792.6,303.9 L792.4,303.0 L792.7,301.7 L792.6,300.6 L792.4,299.7 L792.1,298.8 L791.7,297.9 L791.2,297.1 L790.7,296.4 L790.1,295.8 L789.5,295.2 L788.8,294.8 L788.0,294.4 L787.2,294.3 L786.1,294.5 L785.5,294.1 L784.9,293.5 L784.4,292.9 L783.9,292.4 L783.4,291.8 L782.8,291.2 L782.3,290.7 L781.7,290.1 L781.2,289.6 L780.7,289.1 L780.1,288.6 L779.5,288.0 L779.0,287.6 L778.4,287.1 L777.9,286.6 L777.3,286.1 L776.8,285.2 L776.4,283.6 L775.9,282.5 L775.4,281.6 L774.8,280.8 L774.2,280.2 L773.6,279.6 L772.9,279.2 L772.3,278.9 L771.7,278.8 L771.0,278.7 L770.4,278.9 L769.8,279.4 L769.3,280.4 L768.7,280.4 L768.1,280.2 L767.5,279.9 L767.0,279.6 L766.4,279.4 L765.8,279.1 L765.3,278.9 L764.7,278.7 L764.1,278.5 L763.6,278.3 L763.0,278.1 L762.4,278.0 L761.9,277.8 L761.3,277.7 L760.8,277.6 L760.2,277.5 L759.5,276.8 L758.6,275.3 L757.8,274.4 L757.1,273.8 L756.4,273.4 L755.7,273.1 L755.1,272.9 L754.5,272.9 L754.0,273.1 L753.6,273.4 L753.2,273.8 L752.9,274.4 L752.7,275.4 L752.8,277.0 L752.5,277.4 L752.0,277.5 L751.5,277.6 L751.0,277.7 L750.6,277.9 L750.1,278.0 L749.7,278.2 L749.2,278.3 L748.8,278.5 L748.4,278.7 L747.9,279.0 L747.5,279.2 L747.1,279.4 L746.7,279.7 L746.3,279.9 L745.9,280.2 L745.3,280.0 L744.0,279.0 L743.2,278.6 L742.4,278.4 L741.8,278.4 L741.3,278.6 L740.9,278.9 L740.5,279.3 L740.2,279.8 L740.1,280.5 L740.0,281.3 L740.1,282.2 L740.4,283.4 L741.1,285.0 L741.1,285.8 L740.9,286.2 L740.6,286.7 L740.4,287.2 L740.2,287.7 L739.9,288.2 L739.7,288.7 L739.5,289.2 L739.3,289.7 L739.2,290.2 L739.0,290.8 L738.8,291.3 L738.7,291.9 L738.5,292.5 L738.4,293.1 L738.3,293.6 L737.8,293.9 L736.6,293.7 L735.9,293.9 L735.4,294.2 L735.0,294.7 L734.7,295.2 L734.6,295.9 L734.5,296.6 L734.6,297.4 L734.8,298.2 L735.1,299.1 L735.5,300.1 L736.2,301.2 L737.4,302.5 L737.7,303.3 L737.7,304.0 L737.8,304.7 L737.8,305.4 L737.9,306.1 L738.0,306.9 L738.1,307.6 L738.2,308.3 L738.3,309.0 L738.4,309.7 L738.5,310.5 L738.7,311.2 L738.8,311.9 L739.0,312.7 L739.2,313.4 L739.3,314.2 L739.1,314.8 L738.3,315.5 L737.9,316.2 L737.8,316.9 L737.7,317.7 L737.8,318.5 L738.0,319.3 L738.3,320.2 L738.7,321.0 L739.1,321.8 L739.7,322.6 L740.4,323.3 L741.3,324.1 L742.6,324.7 L743.1,325.4 L743.4,326.1 L743.8,326.9 L744.1,327.6 L744.5,328.4 L744.8,329.1 L745.2,329.8 L745.5,330.6 L745.9,331.3 L746.3,332.0 L746.7,332.7 L747.1,333.4 L747.5,334.2 L747.9,334.9 L748.4,335.6 L748.8,336.3 L749.0,337.2 L748.7,338.4 L748.8,339.5 L749.0,340.5 L749.3,341.4 L749.7,342.2 L750.2,343.0 L750.7,343.7 L751.3,344.3 L751.9,344.9 L752.6,345.4 L753.4,345.7 L754.2,345.9 L755.3,345.6 L755.9,346.0 L756.5,346.6 L757.0,347.2 L757.5,347.8 L758.0,348.4 L758.6,348.9 L759.1,349.5 L759.7,350.0 L760.2,350.5 L760.7,351.1 L761.3,351.6 L761.9,352.1 L762.4,352.6 L763.0,353.1 L763.5,353.6 L764.1,354.0 L764.6,354.9 L765.0,356.5 L765.5,357.6 L766.0,358.6 L766.6,359.3 L767.2,360.0 L767.8,360.5 L768.5,360.9 L769.1,361.2 L769.7,361.4 L770.4,361.4 L771.0,361.2 L771.6,360.8 L772.1,359.7 L772.7,359.7 L773.3,360.0 L773.9,360.3 L774.4,360.5 L775.0,360.8 L775.6,361.0 L776.1,361.2 L776.7,361.4 L777.3,361.6 L777.8,361.8 L778.4,362.0 L779.0,362.2 L779.5,362.3 L780.1,362.5 L780.6,362.6 L781.2,362.7 L781.9,363.3 L782.8,364.8 L783.6,365.7 L784.3,366.3 L785.0,366.8 L785.7,367.1 L786.3,367.2 L786.9,367.2 L787.4,367.1 L787.8,366.8 L788.2,366.3 L788.5,365.7 L788.7,364.8 L788.6,363.2 L788.9,362.8 L789.4,362.7 L789.9,362.5 L790.4,362.4 L790.8,362.3 L791.3,362.1 L791.7,362.0 L792.2,361.8 L792.6,361.6 L793.0,361.4 L793.5,361.2Z" fill="none" stroke="#e07ae4" stroke-width="1.1" stroke-dasharray="4 1.6"/><path d="M785.2,365.9 L785.6,365.7 L786.0,365.4 L786.4,365.1 L786.8,364.9 L787.4,365.1 L788.7,366.0 L789.5,366.5 L790.3,366.6 L790.9,366.6 L791.4,366.5 L791.8,366.2 L792.2,365.8 L792.5,365.2 L792.6,364.6 L792.7,363.8 L792.6,362.9 L792.3,361.7 L791.6,360.0 L791.6,359.3 L791.8,358.9 L792.1,358.4 L792.3,357.9 L792.5,357.4 L792.8,356.9 L793.0,356.4 L793.2,355.9 L793.4,355.4 L793.5,354.8 L793.7,354.3 L793.9,353.7 L794.0,353.2 L794.2,352.6 L794.3,352.0 L794.4,351.4 L794.9,351.1 L796.1,351.4 L796.8,351.2 L797.3,350.9 L797.7,350.4 L798.0,349.8 L798.1,349.2 L798.2,348.5 L798.1,347.7 L797.9,346.9 L797.6,346.0 L797.2,345.0 L796.5,343.9 L795.3,342.6 L795.0,341.7 L795.0,341.0 L794.9,340.3 L794.9,339.6 L794.8,338.9 L794.7,338.2 L794.6,337.5 L794.5,336.8 L794.4,336.1 L794.3,335.3 L794.2,334.6 L794.0,333.9 L793.9,333.1 L793.7,332.4 L793.5,331.7 L793.4,330.9 L793.6,330.2 L794.4,329.6 L794.8,328.9 L794.9,328.1 L795.0,327.4 L794.9,326.6 L794.7,325.7 L794.4,324.9 L794.0,324.1 L793.6,323.3 L793.0,322.5 L792.3,321.7 L791.4,321.0 L790.1,320.4 L789.6,319.7 L789.3,318.9 L788.9,318.2 L788.6,317.5 L788.2,316.7 L787.9,316.0 L787.5,315.2 L787.2,314.5 L786.8,313.8 L786.4,313.1 L786.0,312.3 L785.6,311.6 L785.2,310.9 L784.8,310.2 L784.3,309.5 L783.9,308.8 L783.7,307.9 L784.0,306.6 L783.9,305.6 L783.7,304.6 L783.4,303.7 L783.0,302.9 L782.5,302.1 L782.0,301.4 L781.4,300.7 L780.8,300.2 L780.1,299.7 L779.3,299.3 L778.5,299.2 L777.4,299.4 L776.8,299.0 L776.2,298.5 L775.7,297.9 L775.2,297.3 L774.7,296.7 L774.1,296.2 L773.6,295.6 L773.0,295.1 L772.5,294.5 L772.0,294.0 L771.4,293.5 L770.8,293.0 L770.3,292.5 L769.7,292.0 L769.2,291.5 L768.6,291.1 L768.1,290.2 L767.7,288.6 L767.2,287.4 L766.7,286.5 L766.1,285.7 L765.5,285.1 L764.9,284.6 L764.2,284.1 L763.6,283.9 L763.0,283.7 L762.3,283.7 L761.7,283.8 L761.1,284.3 L760.6,285.4 L760.0,285.4 L759.4,285.1 L758.8,284.8 L758.3,284.5 L757.7,284.3 L757.1,284.1 L756.6,283.8 L756.0,283.6 L755.4,283.4 L754.9,283.2 L754.3,283.1 L753.7,282.9 L753.2,282.8 L752.6,282.6 L752.1,282.5 L751.5,282.4 L750.8,281.8 L749.9,280.3 L749.1,279.4 L748.4,278.7 L747.7,278.3 L747.0,278.0 L746.4,277.9 L745.8,277.9 L745.3,278.0 L744.9,278.3 L744.5,278.7 L744.2,279.4 L744.0,280.3 L744.1,281.9 L743.8,282.3 L743.3,282.4 L742.8,282.5 L742.3,282.6 L741.9,282.8 L741.4,282.9 L741.0,283.1 L740.5,283.3 L740.1,283.5 L739.7,283.7 L739.2,283.9 L738.8,284.1 L738.4,284.3 L738.0,284.6 L737.6,284.9 L737.2,285.1 L736.6,284.9 L735.3,284.0 L734.5,283.5 L733.7,283.4 L733.1,283.4 L732.6,283.5 L732.2,283.8 L731.8,284.2 L731.5,284.8 L731.4,285.4 L731.3,286.2 L731.4,287.1 L731.7,288.3 L732.4,290.0 L732.4,290.7 L732.2,291.1 L731.9,291.6 L731.7,292.1 L731.5,292.6 L731.2,293.1 L731.0,293.6 L730.8,294.1 L730.6,294.6 L730.5,295.2 L730.3,295.7 L730.1,296.3 L730.0,296.8 L729.8,297.4 L729.7,298.0 L729.6,298.6 L729.1,298.9 L727.9,298.6 L727.2,298.8 L726.7,299.1 L726.3,299.6 L726.0,300.2 L725.9,300.8 L725.8,301.5 L725.9,302.3 L726.1,303.1 L726.4,304.0 L726.8,305.0 L727.5,306.1 L728.7,307.4 L729.0,308.3 L729.0,309.0 L729.1,309.7 L729.1,310.4 L729.2,311.1 L729.3,311.8 L729.4,312.5 L729.5,313.2 L729.6,313.9 L729.7,314.7 L729.8,315.4 L730.0,316.1 L730.1,316.9 L730.3,317.6 L730.5,318.3 L730.6,319.1 L730.4,319.8 L729.6,320.4 L729.2,321.1 L729.1,321.9 L729.0,322.6 L729.1,323.4 L729.3,324.3 L729.6,325.1 L730.0,325.9 L730.4,326.7 L731.0,327.5 L731.7,328.3 L732.6,329.0 L733.9,329.6 L734.4,330.3 L734.7,331.1 L735.1,331.8 L735.4,332.5 L735.8,333.3 L736.1,334.0 L736.5,334.8 L736.8,335.5 L737.2,336.2 L737.6,336.9 L738.0,337.7 L738.4,338.4 L738.8,339.1 L739.2,339.8 L739.7,340.5 L740.1,341.2 L740.3,342.1 L740.0,343.4 L740.1,344.4 L740.3,345.4 L740.6,346.3 L741.0,347.1 L741.5,347.9 L742.0,348.6 L742.6,349.3 L743.2,349.8 L743.9,350.3 L744.7,350.7 L745.5,350.8 L746.6,350.6 L747.2,351.0 L747.8,351.5 L748.3,352.1 L748.8,352.7 L749.3,353.3 L749.9,353.8 L750.4,354.4 L751.0,354.9 L751.5,355.5 L752.0,356.0 L752.6,356.5 L753.2,357.0 L753.7,357.5 L754.3,358.0 L754.8,358.5 L755.4,358.9 L755.9,359.8 L756.3,361.4 L756.8,362.6 L757.3,363.5 L757.9,364.3 L758.5,364.9 L759.1,365.4 L759.8,365.9 L760.4,366.1 L761.0,366.3 L761.7,366.3 L762.3,366.2 L762.9,365.7 L763.4,364.6 L764.0,364.6 L764.6,364.9 L765.2,365.2 L765.7,365.5 L766.3,365.7 L766.9,365.9 L767.4,366.2 L768.0,366.4 L768.6,366.6 L769.1,366.8 L769.7,366.9 L770.3,367.1 L770.8,367.2 L771.4,367.4 L771.9,367.5 L772.5,367.6 L773.2,368.2 L774.1,369.7 L774.9,370.6 L775.6,371.3 L776.3,371.7 L777.0,372.0 L777.6,372.1 L778.2,372.1 L778.7,372.0 L779.1,371.7 L779.5,371.3 L779.8,370.6 L780.0,369.7 L779.9,368.1 L780.2,367.7 L780.7,367.6 L781.2,367.5 L781.7,367.4 L782.1,367.2 L782.6,367.1 L783.0,366.9 L783.5,366.7 L783.9,366.5 L784.3,366.3 L784.8,366.1Z" fill="none" stroke="#e07ae4" stroke-width="1.3" stroke-dasharray="4 1.6"/><ellipse cx="788.8" cy="361.6" rx="3" ry="2" transform="rotate(60.5 788.8 361.6)" fill="none" stroke="#e07ae4" stroke-width="1"/><ellipse cx="794.3" cy="346.3" rx="3" ry="2" transform="rotate(60.5 794.3 346.3)" fill="none" stroke="#e07ae4" stroke-width="1"/><ellipse cx="791.1" cy="325.3" rx="3" ry="2" transform="rotate(60.5 791.1 325.3)" fill="none" stroke="#e07ae4" stroke-width="1"/><ellipse cx="780.1" cy="304.2" rx="3" ry="2" transform="rotate(60.5 780.1 304.2)" fill="none" stroke="#e07ae4" stroke-width="1"/><ellipse cx="764.3" cy="288.7" rx="3" ry="2" transform="rotate(60.5 764.3 288.7)" fill="none" stroke="#e07ae4" stroke-width="1"/><ellipse cx="747.8" cy="282.9" rx="3" ry="2" transform="rotate(60.5 747.8 282.9)" fill="none" stroke="#e07ae4" stroke-width="1"/><ellipse cx="735.2" cy="288.4" rx="3" ry="2" transform="rotate(60.5 735.2 288.4)" fill="none" stroke="#e07ae4" stroke-width="1"/><ellipse cx="729.7" cy="303.7" rx="3" ry="2" transform="rotate(60.5 729.7 303.7)" fill="none" stroke="#e07ae4" stroke-width="1"/><ellipse cx="732.9" cy="324.7" rx="3" ry="2" transform="rotate(60.5 732.9 324.7)" fill="none" stroke="#e07ae4" stroke-width="1"/><ellipse cx="743.9" cy="345.8" rx="3" ry="2" transform="rotate(60.5 743.9 345.8)" fill="none" stroke="#e07ae4" stroke-width="1"/><ellipse cx="759.7" cy="361.3" rx="3" ry="2" transform="rotate(60.5 759.7 361.3)" fill="none" stroke="#e07ae4" stroke-width="1"/><ellipse cx="776.2" cy="367.1" rx="3" ry="2" transform="rotate(60.5 776.2 367.1)" fill="none" stroke="#e07ae4" stroke-width="1"/><path d="M781.7,359.8 L784.2,358.0 L786.2,355.7 L787.9,352.8 L789.1,349.4 L789.9,345.7 L790.1,341.6 L789.9,337.2 L789.2,332.5 L788.1,327.8 L786.5,323.0 L784.5,318.3 L782.1,313.6 L779.3,309.2 L776.3,305.0 L773.0,301.2 L769.5,297.7 L765.9,294.8 L762.3,292.3 L758.6,290.5 L755.0,289.2 L751.5,288.5 L748.1,288.4 L745.1,289.0 L742.3,290.2 L739.8,292.0 L737.8,294.3 L736.1,297.2 L734.9,300.6 L734.1,304.3 L733.9,308.4 L734.1,312.8 L734.8,317.5 L735.9,322.2 L737.5,327.0 L739.5,331.7 L741.9,336.4 L744.7,340.8 L747.7,345.0 L751.0,348.8 L754.5,352.3 L758.1,355.2 L761.7,357.7 L765.4,359.5 L769.0,360.8 L772.5,361.5 L775.9,361.6 L778.9,361.0 L781.7,359.8" fill="none" stroke="#e07ae4" stroke-width="1.2" stroke-dasharray="4 1.6"/><path d="M780.2,357.2 L782.5,355.5 L784.4,353.4 L786.0,350.7 L787.1,347.6 L787.8,344.1 L788.0,340.3 L787.8,336.2 L787.2,332.0 L786.1,327.6 L784.7,323.2 L782.8,318.8 L780.6,314.5 L778.0,310.4 L775.2,306.5 L772.2,303.0 L769.0,299.8 L765.6,297.1 L762.2,294.8 L758.8,293.1 L755.5,291.9 L752.3,291.2 L749.2,291.2 L746.3,291.7 L743.8,292.8 L741.5,294.5 L739.6,296.6 L738.0,299.3 L736.9,302.4 L736.2,305.9 L736.0,309.7 L736.2,313.8 L736.8,318.0 L737.9,322.4 L739.3,326.8 L741.2,331.2 L743.4,335.5 L746.0,339.6 L748.8,343.5 L751.8,347.0 L755.0,350.2 L758.4,352.9 L761.8,355.2 L765.2,356.9 L768.5,358.1 L771.7,358.8 L774.8,358.8 L777.7,358.3 L780.2,357.2" fill="none" stroke="#e07ae4" stroke-width="0.9" stroke-dasharray="4 1.6"/><path d="M779.4,349.6 L781.2,348.3 L782.8,346.5 L784.0,344.4 L784.9,341.9 L785.5,339.0 L785.7,335.9 L785.6,332.6 L785.0,329.2 L784.2,325.6 L783.0,322.0 L781.5,318.5 L779.7,315.0 L777.6,311.7 L775.3,308.5 L772.9,305.6 L770.3,303.1 L767.6,300.9 L764.8,299.0 L762.0,297.6 L759.3,296.7 L756.7,296.1 L754.2,296.1 L751.9,296.5 L749.8,297.4 L748.0,298.8 L746.4,300.5 L745.2,302.7 L744.3,305.2 L743.7,308.0 L743.5,311.1 L743.7,314.4 L744.2,317.9 L745.0,321.4 L746.2,325.0 L747.7,328.6 L749.6,332.1 L751.6,335.4 L753.9,338.5 L756.4,341.4 L759.0,344.0 L761.7,346.2 L764.4,348.0 L767.2,349.4 L769.9,350.4 L772.5,350.9 L775.0,350.9 L777.3,350.5 L779.4,349.6" fill="none" stroke="#e07ae4" stroke-width="1.0" stroke-dasharray="4 1.6"/><path d="M777.2,341.7 L778.5,340.7 L779.7,339.4 L780.6,337.8 L781.3,336.0 L781.7,333.9 L781.8,331.6 L781.7,329.2 L781.3,326.7 L780.7,324.1 L779.8,321.4 L778.7,318.8 L777.4,316.3 L775.9,313.8 L774.2,311.5 L772.4,309.4 L770.5,307.5 L768.5,305.9 L766.5,304.6 L764.5,303.5 L762.5,302.8 L760.6,302.5 L758.7,302.4 L757.0,302.7 L755.5,303.4 L754.2,304.4 L753.0,305.7 L752.1,307.2 L751.4,309.1 L751.0,311.2 L750.9,313.4 L751.0,315.8 L751.4,318.4 L752.0,321.0 L752.9,323.6 L754.0,326.2 L755.3,328.8 L756.8,331.2 L758.5,333.5 L760.3,335.6 L762.2,337.5 L764.2,339.2 L766.2,340.5 L768.2,341.5 L770.2,342.2 L772.1,342.6 L774.0,342.6 L775.7,342.3 L777.2,341.7" fill="none" stroke="#e07ae4" stroke-width="1.0" stroke-dasharray="4 1.6"/><path d="M775.6,341.4 L784.9,352.6" fill="none" stroke="#e07ae4" stroke-width="1.0" stroke-dasharray="4 1.6"/><path d="M775.9,325.1 L785.4,325.2" fill="none" stroke="#e07ae4" stroke-width="1.0" stroke-dasharray="4 1.6"/><path d="M764.5,308.7 L766.3,297.5" fill="none" stroke="#e07ae4" stroke-width="1.0" stroke-dasharray="4 1.6"/><path d="M750.5,306.3 L742.7,293.5" fill="none" stroke="#e07ae4" stroke-width="1.0" stroke-dasharray="4 1.6"/><path d="M747.1,321.1 L736.9,318.4" fill="none" stroke="#e07ae4" stroke-width="1.0" stroke-dasharray="4 1.6"/><path d="M757.3,339.5 L754.1,349.4" fill="none" stroke="#e07ae4" stroke-width="1.0" stroke-dasharray="4 1.6"/><path d="M759,318 L766,316 L772,320 L774,328 L770,335 L762,336 L757,332 L756,324Z" fill="#cc48d0" opacity="0.7" stroke="#e07ae4" stroke-width="1.2" stroke-dasharray="2 1"/><circle cx="762" cy="321" r="1.3" fill="#f0c8f4"/><circle cx="769" cy="324" r="1.3" fill="#f0c8f4"/><circle cx="765" cy="331" r="1.3" fill="#f0c8f4"/><circle cx="771" cy="329" r="1.3" fill="#f0c8f4"/><circle cx="760" cy="327" r="1.3" fill="#f0c8f4"/><circle cx="757" cy="332" r="3.2" fill="#fae6fb" stroke="#cc48d0" stroke-width="1"/><path d="M736.0,296.0 L744.0,291.0 L752.0,295.0 L748.0,303.0Z" fill="none" stroke="#cc48d0" stroke-width="1.1" stroke-dasharray="4 1.6"/><path d="M731.0,322.0 L737.0,318.0 L741.0,326.0" fill="none" stroke="#cc48d0" stroke-width="1.1" stroke-dasharray="4 1.6"/><path d="M737.0,338.0 L745.0,336.0 L748.0,344.0 L741.0,347.0Z" fill="none" stroke="#cc48d0" stroke-width="1.1" stroke-dasharray="4 1.6"/><path d="M752.0,352.0 L762.0,350.0 L768.0,357.0 L760.0,362.0Z" fill="none" stroke="#cc48d0" stroke-width="1.1" stroke-dasharray="4 1.6"/><path d="M770.0,296.0 L776.0,300.0 L774.0,308.0" fill="none" stroke="#cc48d0" stroke-width="1.1" stroke-dasharray="4 1.6"/><path d="M780.0,318.0 L786.0,322.0 L784.0,330.0" fill="none" stroke="#cc48d0" stroke-width="1.1" stroke-dasharray="4 1.6"/><path d="M781.0,275.0 L807.0,260.0 L800.1,256.0 L774.1,271.0Z" fill="none" stroke="#e07ae4" stroke-width="1.1" stroke-dasharray="4 1.6"/><path d="M781.0,287.0 L807.0,272.0 L807.0,260.0 L781.0,275.0Z" fill="none" stroke="#e07ae4" stroke-width="1.1" stroke-dasharray="4 1.6"/><path d="M807.0,272.0 L800.1,268.0 L800.1,256.0 L807.0,260.0Z" fill="none" stroke="#e07ae4" stroke-width="1.1" stroke-dasharray="4 1.6"/><path d="M806.0,264.0 L825.1,253.0 L816.4,248.0 L797.3,259.0Z" fill="none" stroke="#e07ae4" stroke-width="1.1" stroke-dasharray="4 1.6"/><path d="M806.0,277.0 L825.1,266.0 L825.1,253.0 L806.0,264.0Z" fill="none" stroke="#e07ae4" stroke-width="1.1" stroke-dasharray="4 1.6"/><path d="M825.1,266.0 L816.4,261.0 L816.4,248.0 L825.1,253.0Z" fill="none" stroke="#e07ae4" stroke-width="1.1" stroke-dasharray="4 1.6"/><path d="M834.0,267.0 L846.1,260.0 L823.6,247.0 L811.5,254.0Z" fill="none" stroke="#e07ae4" stroke-width="1.1" stroke-dasharray="4 1.6"/><path d="M834.0,291.0 L846.1,284.0 L846.1,260.0 L834.0,267.0Z" fill="none" stroke="#e07ae4" stroke-width="1.1" stroke-dasharray="4 1.6"/><path d="M846.1,284.0 L823.6,271.0 L823.6,247.0 L846.1,260.0Z" fill="none" stroke="#e07ae4" stroke-width="1.1" stroke-dasharray="4 1.6"/><ellipse cx="789" cy="273" rx="4" ry="3" fill="#cc48d0" opacity="0.8"/><ellipse cx="797.5" cy="270.5" rx="4.5" ry="3.5" fill="#cc48d0" opacity="0.8"/><ellipse cx="810" cy="261" rx="4.5" ry="3.2" fill="#cc48d0" opacity="0.8"/><ellipse cx="827" cy="270" rx="4.8" ry="3.6" fill="#cc48d0" opacity="0.8"/><ellipse cx="819" cy="265" rx="2.5" ry="2" fill="#cc48d0" opacity="0.8"/><ellipse cx="847" cy="300" rx="4.5" ry="6.5" transform="rotate(20 847 300)" fill="#fff" stroke="#e07ae4" stroke-width="1.2" stroke-dasharray="3 1.2"/><ellipse cx="847" cy="300" rx="2" ry="3" transform="rotate(20 847 300)" fill="#e07ae4"/><path d="M805.0,308.0 L821.0,300.0 L826.0,307.0 L810.0,315.0Z" fill="#fff" stroke="#e07ae4" stroke-width="1.1" stroke-dasharray="4 1.6"/><path d="M818.0,318.0 L832.0,311.0 L834.0,345.0 L820.0,352.0Z" fill="none" stroke="#e07ae4" stroke-width="1.1" stroke-dasharray="4 1.6"/><path d="M796.0,338.0 L812.0,331.0 L815.0,350.0 L799.0,357.0Z" fill="none" stroke="#e07ae4" stroke-width="1.1" stroke-dasharray="4 1.6"/><path d="M786.0,300.0 L800.0,293.0 L804.0,330.0 L790.0,337.0Z" fill="none" stroke="#e07ae4" stroke-width="1.1" stroke-dasharray="4 1.6"/><path d="M782.0,364.0 L795.0,356.0" fill="none" stroke="#cc48d0" stroke-width="1.4" stroke-dasharray="4 1.6"/><path d="M775.0,285.0 L790.0,278.0" fill="none" stroke="#cc48d0" stroke-width="1.4" stroke-dasharray="4 1.6"/><path d="M800.0,347.0 L830.0,332.0" fill="none" stroke="#e07ae4" stroke-width="1.2" stroke-dasharray="4 1.6"/></g><path d="M707.3,272.2 L737.9,254.2 L735.3,249.8 L704.7,267.8Z" fill="#fff" stroke="#737373" stroke-width="1.05" /><ellipse cx="736.6" cy="252" rx="1.4" ry="2.5" transform="rotate(-30 736.6 252)" fill="#fff" stroke="#555" stroke-width="0.8"/><path d="M702.7,274.5 L708.2,271.3 L705.8,267.3 L700.3,270.5Z" fill="#444" stroke="#737373" stroke-width="1.05" /><path d="M718.0,261.5 L725.0,258.0" fill="none" stroke="#737373" stroke-width="0.7" /><path d="M740.4,249.5 L793.0,219.0" fill="none" stroke="#777" stroke-width="1.0" /><path d="M741.9,250.9 L750.4,246.0 L748.6,242.8 L740.1,247.7Z" fill="#444" stroke="#737373" stroke-width="0.8" /><path d="M750.0,244.5 L790.0,221.0" fill="none" stroke="#999" stroke-width="2.4" stroke-dasharray="0.9 1.1"/><ellipse cx="797" cy="216" rx="2.8" ry="4.6" transform="rotate(35 797 216)" fill="none" stroke="#666" stroke-width="1.1"/><path d="M792.0,219.5 L795.5,219.0" fill="none" stroke="#666" stroke-width="1.2" /><path d="M793.7,415.9 L828.2,397.9 L825.8,393.1 L791.3,411.1Z" fill="#fff" stroke="#737373" stroke-width="1.05" /><ellipse cx="828" cy="395" rx="3.5" ry="5" transform="rotate(-28 828 395)" fill="#fff" stroke="#555" stroke-width="0.9"/><ellipse cx="825.5" cy="396.3" rx="3.5" ry="5" transform="rotate(-28 825.5 396.3)" fill="none" stroke="#555" stroke-width="0.9"/><path d="M794.0,412.0 L805.0,406.0" fill="none" stroke="#999" stroke-width="3.5" stroke-dasharray="0.8 0.8"/><ellipse cx="416.3" cy="468.5" rx="1.8" ry="3.2" fill="#fff" stroke="#555" stroke-width="0.8"/><line x1="301.5" y1="272.0" x2="301.5" y2="299.4" stroke="#e6a0a8" stroke-width="0.9" /><line x1="368.0" y1="215.0" x2="368.0" y2="241.9" stroke="#e6a0a8" stroke-width="0.9" /><line x1="411.7" y1="188.0" x2="411.7" y2="214.8" stroke="#e6a0a8" stroke-width="0.9" /><line x1="483.0" y1="112.4" x2="483.0" y2="140.0" stroke="#e6a0a8" stroke-width="0.9" /><line x1="548.3" y1="88.3" x2="584.1" y2="88.3" stroke="#e6a0a8" stroke-width="0.9" /><line x1="561.7" y1="105.3" x2="584.1" y2="105.3" stroke="#e6a0a8" stroke-width="0.9" /><line x1="561.7" y1="122.7" x2="584.1" y2="122.7" stroke="#e6a0a8" stroke-width="0.9" /><line x1="421.4" y1="389.5" x2="421.4" y2="417.7" stroke="#e6a0a8" stroke-width="0.9" /><line x1="450.7" y1="371.7" x2="450.7" y2="399.9" stroke="#e6a0a8" stroke-width="0.9" /><line x1="481.0" y1="359.0" x2="481.0" y2="384.9" stroke="#e6a0a8" stroke-width="0.9" /><line x1="484.4" y1="294.0" x2="519.7" y2="294.0" stroke="#e6a0a8" stroke-width="0.9" /><line x1="494.6" y1="280.4" x2="519.7" y2="280.4" stroke="#e6a0a8" stroke-width="0.9" /><line x1="607.7" y1="171.3" x2="607.7" y2="203.0" stroke="#e6a0a8" stroke-width="0.9" /><line x1="637.0" y1="155.4" x2="637.0" y2="184.1" stroke="#e6a0a8" stroke-width="0.9" /><line x1="677.3" y1="127.3" x2="677.3" y2="162.4" stroke="#e6a0a8" stroke-width="0.9" /><line x1="718.2" y1="232.0" x2="718.2" y2="259.5" stroke="#e6a0a8" stroke-width="0.9" /><line x1="765.9" y1="206.8" x2="765.9" y2="234.3" stroke="#e6a0a8" stroke-width="0.9" /><line x1="386.5" y1="467.2" x2="414.0" y2="467.8" stroke="#e6a0a8" stroke-width="0.9" /><line x1="547.5" y1="411.0" x2="547.5" y2="436.5" stroke="#e6a0a8" stroke-width="0.9" /><line x1="585.5" y1="389.0" x2="585.5" y2="417.2" stroke="#e6a0a8" stroke-width="0.9" /><line x1="428.7" y1="560.8" x2="471.0" y2="560.8" stroke="#e6a0a8" stroke-width="0.9" /><line x1="489.7" y1="501.2" x2="489.7" y2="527.4" stroke="#e6a0a8" stroke-width="0.9" /><line x1="534.9" y1="501.9" x2="534.9" y2="528.0" stroke="#e6a0a8" stroke-width="0.9" /><line x1="585.5" y1="506.5" x2="585.5" y2="532.0" stroke="#e6a0a8" stroke-width="0.9" /><line x1="612.5" y1="497.0" x2="612.5" y2="523.0" stroke="#e6a0a8" stroke-width="0.9" /><line x1="636.0" y1="478.0" x2="636.0" y2="503.4" stroke="#e6a0a8" stroke-width="0.9" /><line x1="806.0" y1="409.8" x2="806.0" y2="436.0" stroke="#e6a0a8" stroke-width="0.9" /><line x1="691.7" y1="427.6" x2="691.7" y2="457.3" stroke="#e6a0a8" stroke-width="0.9" /><line x1="724.4" y1="356.6" x2="724.4" y2="381.8" stroke="#e6a0a8" stroke-width="0.9" /><text x="301.5" y="270.8" text-anchor="middle">1</text><text x="368.5" y="213.1" text-anchor="middle">2</text><text x="412.0" y="187.3" text-anchor="middle">3</text><text x="481.5" y="111.1" text-anchor="middle">4</text><text x="591.9" y="93.2" text-anchor="middle">5</text><text x="591.9" y="109.9" text-anchor="middle">6</text><text x="591.9" y="129.2" text-anchor="middle">7</text><text x="423.5" y="390.0" text-anchor="middle">8</text><text x="451.3" y="371.5" text-anchor="middle">9</text><text x="480.5" y="356.8" text-anchor="middle">10</text><text x="528.7" y="299.3" text-anchor="middle">11</text><text x="528.7" y="283.2" text-anchor="middle">12</text><text x="609.0" y="216.2" text-anchor="middle">13</text><text x="638.5" y="199.3" text-anchor="middle">14</text><text x="678.5" y="175.9" text-anchor="middle">15</text><text x="715.9" y="229.4" text-anchor="middle">16</text><text x="766.1" y="204.2" text-anchor="middle">17</text><text x="376.2" y="473.2" text-anchor="middle">18</text><text x="548.3" y="409.3" text-anchor="middle">19</text><text x="585.5" y="387.7" text-anchor="middle">20</text><text x="483.2" y="565.5" text-anchor="middle">21</text><text x="490.8" y="541.6" text-anchor="middle">22</text><text x="534.5" y="543.5" text-anchor="middle">23</text><text x="586.0" y="546.5" text-anchor="middle">24</text><text x="613.1" y="537.5" text-anchor="middle">25</text><text x="636.1" y="517.5" text-anchor="middle">26</text><text x="806.2" y="450.2" text-anchor="middle">27</text><text x="694.0" y="470.5" text-anchor="middle">28</text><text x="727.9" y="397.2" text-anchor="middle">29</text>
</svg></body></html>
